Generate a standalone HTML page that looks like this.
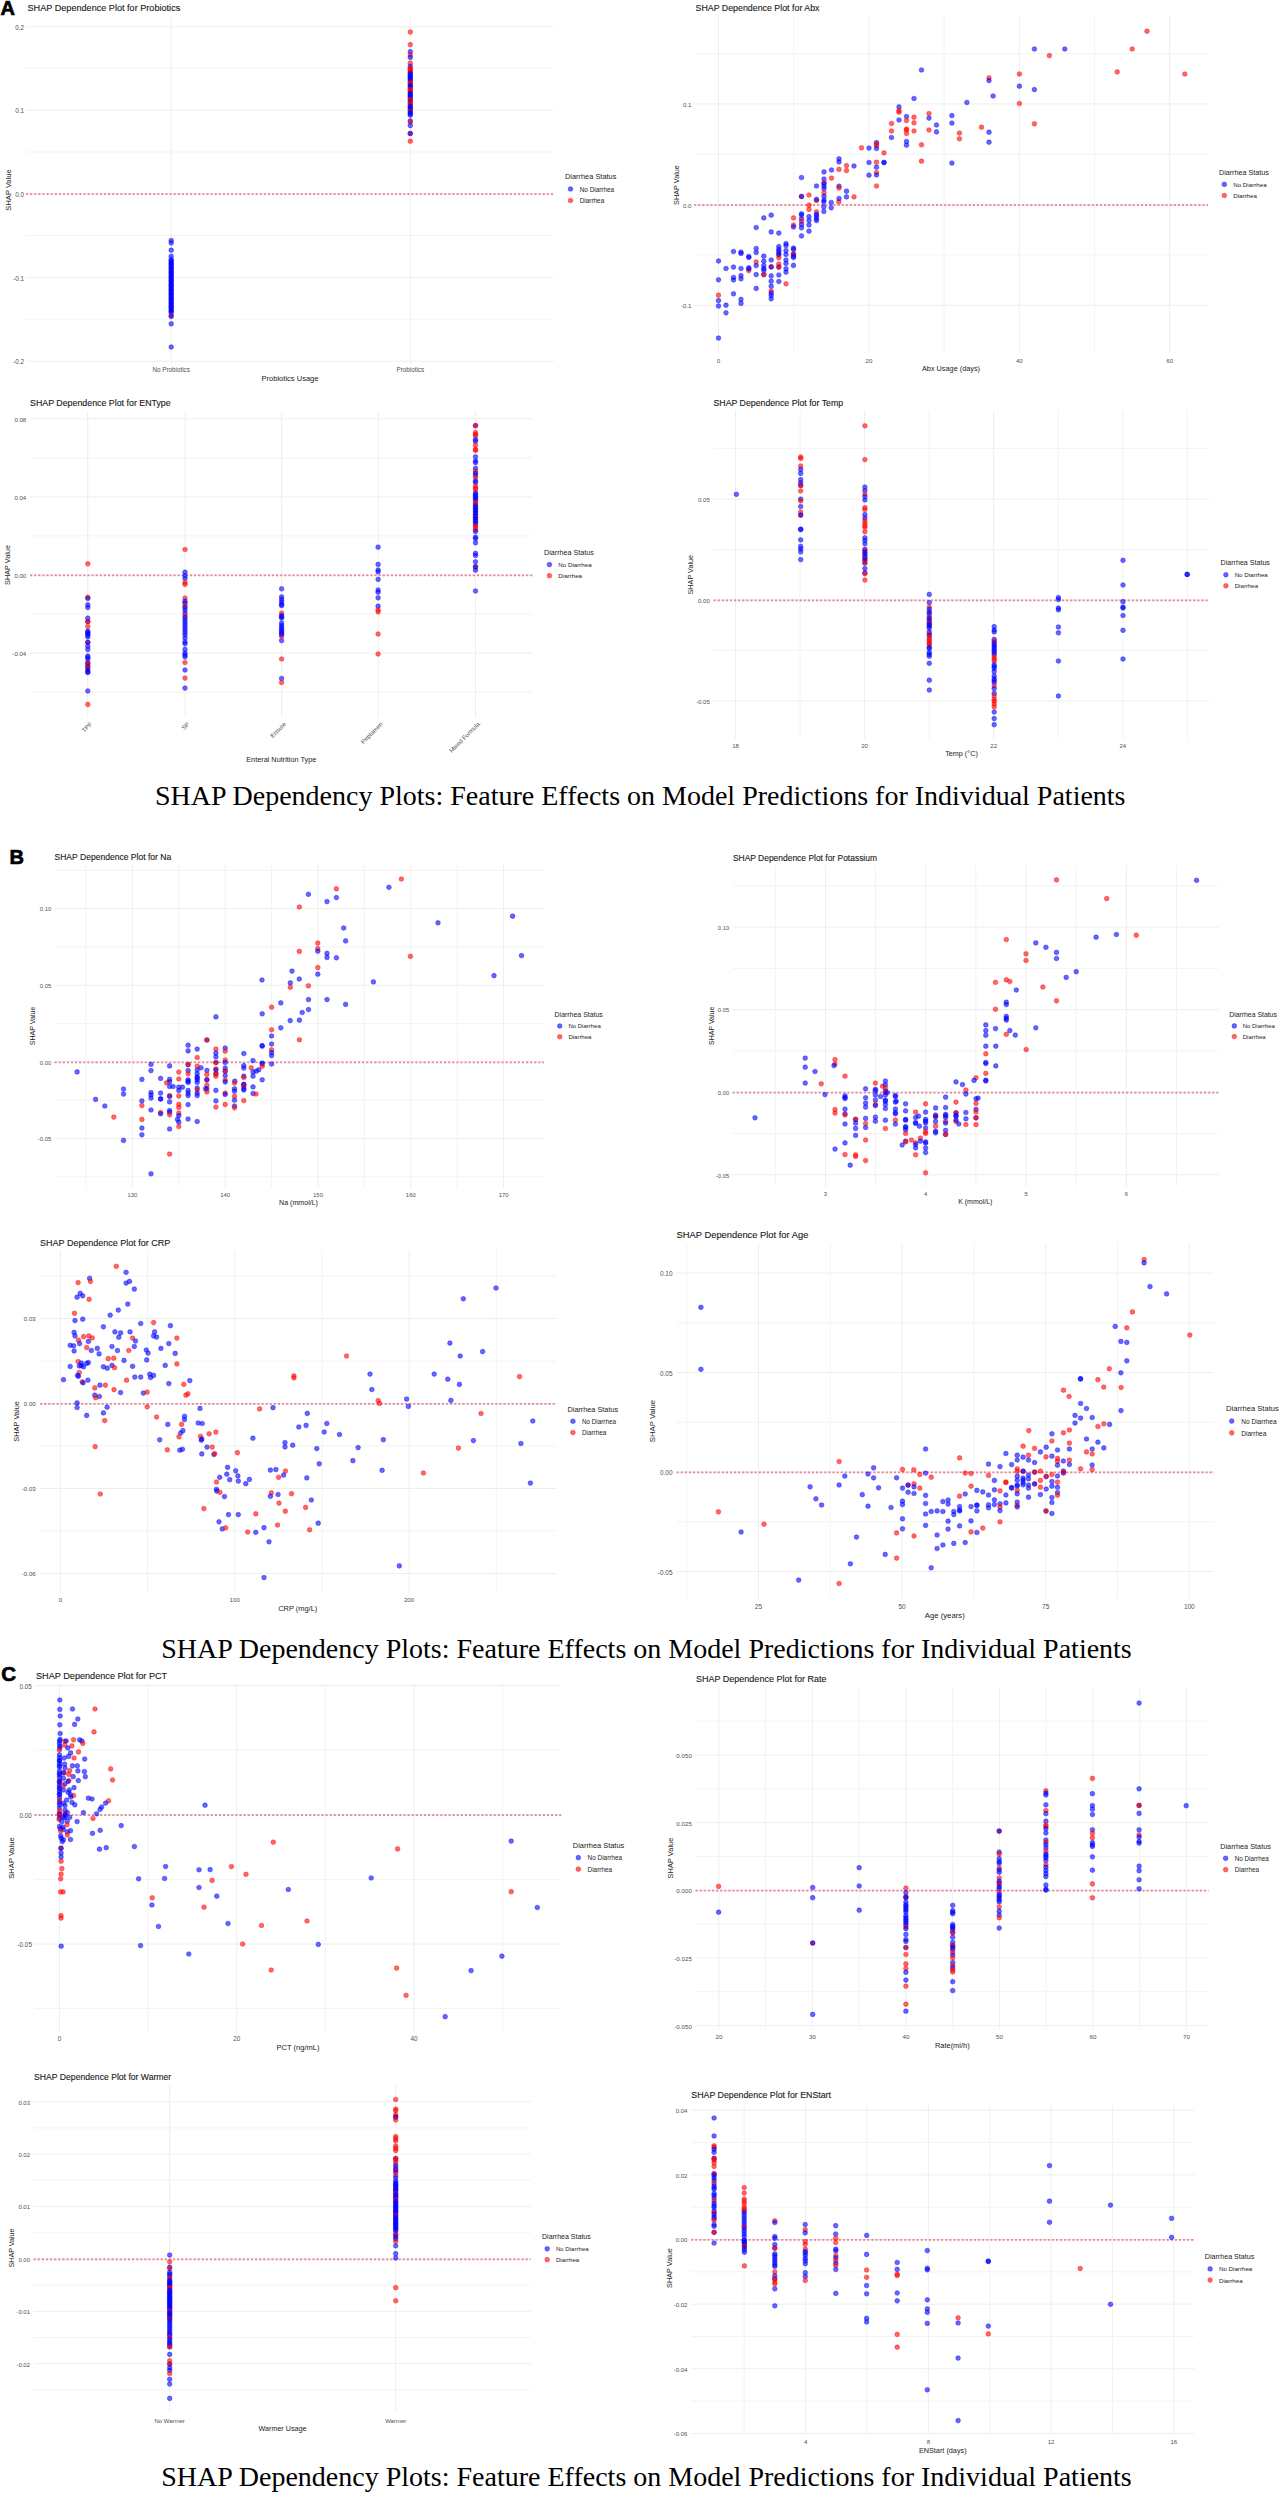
<!DOCTYPE html>
<html><head><meta charset="utf-8"><style>
html,body{margin:0;padding:0;background:#fff;}
body{width:1280px;height:2500px;overflow:hidden;position:relative;}
svg{position:absolute;left:0;top:0;}
.b{fill:#0000ff;stroke:#0000ff;fill-opacity:0.6;stroke-opacity:0.6;stroke-width:0.65}
.r{fill:#ff0000;stroke:#ff0000;fill-opacity:0.6;stroke-opacity:0.6;stroke-width:0.65}
</style></head><body>
<svg width="1280" height="2500" viewBox="0 0 1280 2500">
<text x="0.40" y="14.60" font-size="20" text-anchor="start" fill="#000" font-family="'Liberation Sans', sans-serif" font-weight="bold" stroke="#000" stroke-width="0.7">A</text>
<text x="155.00" y="805.00" font-size="28" text-anchor="start" fill="#000" font-family="'Liberation Serif', serif" font-weight="normal">SHAP Dependency Plots: Feature Effects on Model Predictions for Individual Patients</text>
<line x1="26.00" y1="68.25" x2="553.75" y2="68.25" stroke="#f3f3f3" stroke-width="1" />
<line x1="26.00" y1="152.00" x2="553.75" y2="152.00" stroke="#f3f3f3" stroke-width="1" />
<line x1="26.00" y1="235.50" x2="553.75" y2="235.50" stroke="#f3f3f3" stroke-width="1" />
<line x1="26.00" y1="319.25" x2="553.75" y2="319.25" stroke="#f3f3f3" stroke-width="1" />
<line x1="26.00" y1="26.75" x2="553.75" y2="26.75" stroke="#eeeeee" stroke-width="1" />
<line x1="26.00" y1="110.25" x2="553.75" y2="110.25" stroke="#eeeeee" stroke-width="1" />
<line x1="26.00" y1="193.75" x2="553.75" y2="193.75" stroke="#eeeeee" stroke-width="1" />
<line x1="26.00" y1="277.50" x2="553.75" y2="277.50" stroke="#eeeeee" stroke-width="1" />
<line x1="26.00" y1="361.25" x2="553.75" y2="361.25" stroke="#eeeeee" stroke-width="1" />
<line x1="171.20" y1="16.00" x2="171.20" y2="364.00" stroke="#eeeeee" stroke-width="1" />
<line x1="410.30" y1="16.00" x2="410.30" y2="364.00" stroke="#eeeeee" stroke-width="1" />
<line x1="26.00" y1="194.15" x2="553.75" y2="194.15" stroke="#ea8499" stroke-width="1.75" stroke-dasharray="2.2 1.9"/>
<text x="27.50" y="11.00" font-size="9.12" text-anchor="start" fill="#1a1a1a" font-family="'Liberation Sans', sans-serif" font-weight="normal" stroke="#1a1a1a" stroke-width="0.12">SHAP Dependence Plot for Probiotics</text>
<text x="24.00" y="29.75" font-size="6.3" text-anchor="end" fill="#505050" font-family="'Liberation Sans', sans-serif" font-weight="normal">0.2</text>
<text x="24.00" y="113.25" font-size="6.3" text-anchor="end" fill="#505050" font-family="'Liberation Sans', sans-serif" font-weight="normal">0.1</text>
<text x="24.00" y="196.75" font-size="6.3" text-anchor="end" fill="#505050" font-family="'Liberation Sans', sans-serif" font-weight="normal">0.0</text>
<text x="24.00" y="280.50" font-size="6.3" text-anchor="end" fill="#505050" font-family="'Liberation Sans', sans-serif" font-weight="normal">-0.1</text>
<text x="24.00" y="364.25" font-size="6.3" text-anchor="end" fill="#505050" font-family="'Liberation Sans', sans-serif" font-weight="normal">-0.2</text>
<text x="171.20" y="371.50" font-size="6.3" text-anchor="middle" fill="#505050" font-family="'Liberation Sans', sans-serif" font-weight="normal">No Probiotics</text>
<text x="410.30" y="371.50" font-size="6.3" text-anchor="middle" fill="#505050" font-family="'Liberation Sans', sans-serif" font-weight="normal">Probiotics</text>
<text x="290.00" y="380.50" font-size="7.55" text-anchor="middle" fill="#222" font-family="'Liberation Sans', sans-serif" font-weight="normal">Probiotics Usage</text>
<text x="10.50" y="190.00" font-size="7.55" text-anchor="middle" fill="#222" font-family="'Liberation Sans', sans-serif" font-weight="normal" transform="rotate(-90 10.5 190)">SHAP Value</text>
<text x="565.00" y="179.10" font-size="7.4" text-anchor="start" fill="#222" font-family="'Liberation Sans', sans-serif" font-weight="normal">Diarrhea Status</text>
<circle class="b" cx="570.50" cy="189.00" r="2.35"/>
<circle class="r" cx="570.50" cy="200.50" r="2.35"/>
<text x="579.70" y="191.60" font-size="6.4" text-anchor="start" fill="#222" font-family="'Liberation Sans', sans-serif" font-weight="normal">No Diarrhea</text>
<text x="579.70" y="203.20" font-size="6.4" text-anchor="start" fill="#222" font-family="'Liberation Sans', sans-serif" font-weight="normal">Diarrhea</text>
<circle class="b" cx="171.2" cy="240.5" r="2.35"/>
<circle class="b" cx="171.2" cy="243.0" r="2.35"/>
<circle class="b" cx="171.2" cy="250.2" r="2.35"/>
<circle class="b" cx="171.2" cy="256.3" r="2.35"/>
<circle class="b" cx="171.2" cy="259.5" r="2.35"/>
<circle class="b" cx="171.2" cy="260.8" r="2.35"/>
<circle class="b" cx="171.2" cy="262.1" r="2.35"/>
<circle class="b" cx="171.2" cy="263.4" r="2.35"/>
<circle class="b" cx="171.2" cy="264.7" r="2.35"/>
<circle class="b" cx="171.2" cy="266.0" r="2.35"/>
<circle class="b" cx="171.2" cy="267.3" r="2.35"/>
<circle class="b" cx="171.2" cy="268.6" r="2.35"/>
<circle class="b" cx="171.2" cy="269.9" r="2.35"/>
<circle class="b" cx="171.2" cy="271.2" r="2.35"/>
<circle class="b" cx="171.2" cy="272.5" r="2.35"/>
<circle class="b" cx="171.2" cy="273.8" r="2.35"/>
<circle class="b" cx="171.2" cy="275.1" r="2.35"/>
<circle class="b" cx="171.2" cy="276.4" r="2.35"/>
<circle class="b" cx="171.2" cy="277.7" r="2.35"/>
<circle class="b" cx="171.2" cy="279.0" r="2.35"/>
<circle class="b" cx="171.2" cy="280.3" r="2.35"/>
<circle class="b" cx="171.2" cy="281.6" r="2.35"/>
<circle class="b" cx="171.2" cy="282.9" r="2.35"/>
<circle class="b" cx="171.2" cy="284.2" r="2.35"/>
<circle class="b" cx="171.2" cy="285.5" r="2.35"/>
<circle class="b" cx="171.2" cy="286.8" r="2.35"/>
<circle class="b" cx="171.2" cy="288.1" r="2.35"/>
<circle class="b" cx="171.2" cy="289.4" r="2.35"/>
<circle class="b" cx="171.2" cy="290.7" r="2.35"/>
<circle class="b" cx="171.2" cy="292.0" r="2.35"/>
<circle class="b" cx="171.2" cy="293.3" r="2.35"/>
<circle class="b" cx="171.2" cy="294.6" r="2.35"/>
<circle class="b" cx="171.2" cy="295.9" r="2.35"/>
<circle class="b" cx="171.2" cy="297.2" r="2.35"/>
<circle class="b" cx="171.2" cy="298.5" r="2.35"/>
<circle class="b" cx="171.2" cy="299.8" r="2.35"/>
<circle class="b" cx="171.2" cy="301.1" r="2.35"/>
<circle class="b" cx="171.2" cy="302.4" r="2.35"/>
<circle class="b" cx="171.2" cy="303.7" r="2.35"/>
<circle class="b" cx="171.2" cy="305.0" r="2.35"/>
<circle class="b" cx="171.2" cy="306.3" r="2.35"/>
<circle class="b" cx="171.2" cy="307.6" r="2.35"/>
<circle class="b" cx="171.2" cy="308.9" r="2.35"/>
<circle class="b" cx="171.2" cy="310.2" r="2.35"/>
<circle class="b" cx="171.2" cy="311.5" r="2.35"/>
<circle class="b" cx="171.2" cy="312.8" r="2.35"/>
<circle class="r" cx="171.2" cy="315.5" r="2.35"/>
<circle class="b" cx="171.2" cy="316.5" r="2.35"/>
<circle class="b" cx="171.2" cy="323.8" r="2.35"/>
<circle class="b" cx="171.2" cy="347.0" r="2.35"/>
<circle class="r" cx="410.3" cy="32.0" r="2.35"/>
<circle class="r" cx="410.3" cy="44.7" r="2.35"/>
<circle class="b" cx="410.3" cy="51.7" r="2.35"/>
<circle class="r" cx="410.3" cy="54.8" r="2.35"/>
<circle class="b" cx="410.3" cy="57.4" r="2.35"/>
<circle class="r" cx="410.3" cy="63.2" r="2.35"/>
<circle class="b" cx="410.3" cy="66.5" r="2.35"/>
<circle class="r" cx="410.3" cy="68.4" r="2.35"/>
<circle class="r" cx="410.3" cy="69.7" r="2.35"/>
<circle class="r" cx="410.3" cy="71.0" r="2.35"/>
<circle class="r" cx="410.3" cy="72.3" r="2.35"/>
<circle class="b" cx="410.3" cy="73.6" r="2.35"/>
<circle class="b" cx="410.3" cy="74.9" r="2.35"/>
<circle class="b" cx="410.3" cy="76.2" r="2.35"/>
<circle class="b" cx="410.3" cy="77.5" r="2.35"/>
<circle class="b" cx="410.3" cy="78.8" r="2.35"/>
<circle class="b" cx="410.3" cy="80.1" r="2.35"/>
<circle class="b" cx="410.3" cy="81.4" r="2.35"/>
<circle class="r" cx="410.3" cy="82.7" r="2.35"/>
<circle class="r" cx="410.3" cy="84.0" r="2.35"/>
<circle class="b" cx="410.3" cy="85.3" r="2.35"/>
<circle class="b" cx="410.3" cy="86.6" r="2.35"/>
<circle class="b" cx="410.3" cy="87.9" r="2.35"/>
<circle class="r" cx="410.3" cy="89.2" r="2.35"/>
<circle class="r" cx="410.3" cy="90.5" r="2.35"/>
<circle class="r" cx="410.3" cy="91.8" r="2.35"/>
<circle class="b" cx="410.3" cy="93.1" r="2.35"/>
<circle class="b" cx="410.3" cy="94.4" r="2.35"/>
<circle class="b" cx="410.3" cy="95.7" r="2.35"/>
<circle class="b" cx="410.3" cy="97.0" r="2.35"/>
<circle class="b" cx="410.3" cy="98.3" r="2.35"/>
<circle class="r" cx="410.3" cy="99.6" r="2.35"/>
<circle class="r" cx="410.3" cy="100.9" r="2.35"/>
<circle class="b" cx="410.3" cy="102.2" r="2.35"/>
<circle class="r" cx="410.3" cy="103.5" r="2.35"/>
<circle class="r" cx="410.3" cy="104.8" r="2.35"/>
<circle class="b" cx="410.3" cy="106.1" r="2.35"/>
<circle class="b" cx="410.3" cy="107.4" r="2.35"/>
<circle class="b" cx="410.3" cy="108.7" r="2.35"/>
<circle class="b" cx="410.3" cy="110.0" r="2.35"/>
<circle class="r" cx="410.3" cy="111.3" r="2.35"/>
<circle class="b" cx="410.3" cy="112.6" r="2.35"/>
<circle class="b" cx="410.3" cy="113.9" r="2.35"/>
<circle class="b" cx="410.3" cy="115.2" r="2.35"/>
<circle class="b" cx="410.3" cy="120.9" r="2.35"/>
<circle class="r" cx="410.3" cy="122.0" r="2.35"/>
<circle class="b" cx="410.3" cy="125.6" r="2.35"/>
<circle class="r" cx="410.3" cy="133.4" r="2.35"/>
<circle class="b" cx="410.3" cy="133.6" r="2.35"/>
<circle class="r" cx="410.3" cy="141.2" r="2.35"/>
<line x1="694.00" y1="53.62" x2="1208.00" y2="53.62" stroke="#f3f3f3" stroke-width="1" />
<line x1="694.00" y1="154.27" x2="1208.00" y2="154.27" stroke="#f3f3f3" stroke-width="1" />
<line x1="694.00" y1="254.93" x2="1208.00" y2="254.93" stroke="#f3f3f3" stroke-width="1" />
<line x1="793.70" y1="16.00" x2="793.70" y2="353.00" stroke="#f3f3f3" stroke-width="1" />
<line x1="944.10" y1="16.00" x2="944.10" y2="353.00" stroke="#f3f3f3" stroke-width="1" />
<line x1="1094.50" y1="16.00" x2="1094.50" y2="353.00" stroke="#f3f3f3" stroke-width="1" />
<line x1="694.00" y1="103.95" x2="1208.00" y2="103.95" stroke="#eeeeee" stroke-width="1" />
<line x1="694.00" y1="204.60" x2="1208.00" y2="204.60" stroke="#eeeeee" stroke-width="1" />
<line x1="694.00" y1="305.25" x2="1208.00" y2="305.25" stroke="#eeeeee" stroke-width="1" />
<line x1="718.50" y1="16.00" x2="718.50" y2="353.00" stroke="#eeeeee" stroke-width="1" />
<line x1="868.90" y1="16.00" x2="868.90" y2="353.00" stroke="#eeeeee" stroke-width="1" />
<line x1="1019.30" y1="16.00" x2="1019.30" y2="353.00" stroke="#eeeeee" stroke-width="1" />
<line x1="1169.70" y1="16.00" x2="1169.70" y2="353.00" stroke="#eeeeee" stroke-width="1" />
<line x1="694.00" y1="205.00" x2="1208.00" y2="205.00" stroke="#ea8499" stroke-width="1.75" stroke-dasharray="2.2 1.9"/>
<text x="695.50" y="11.00" font-size="8.83" text-anchor="start" fill="#1a1a1a" font-family="'Liberation Sans', sans-serif" font-weight="normal" stroke="#1a1a1a" stroke-width="0.12">SHAP Dependence Plot for Abx</text>
<text x="691.50" y="106.85" font-size="6.1" text-anchor="end" fill="#505050" font-family="'Liberation Sans', sans-serif" font-weight="normal">0.1</text>
<text x="691.50" y="207.50" font-size="6.1" text-anchor="end" fill="#505050" font-family="'Liberation Sans', sans-serif" font-weight="normal">0.0</text>
<text x="691.50" y="308.15" font-size="6.1" text-anchor="end" fill="#505050" font-family="'Liberation Sans', sans-serif" font-weight="normal">-0.1</text>
<text x="718.50" y="362.50" font-size="6.1" text-anchor="middle" fill="#505050" font-family="'Liberation Sans', sans-serif" font-weight="normal">0</text>
<text x="868.90" y="362.50" font-size="6.1" text-anchor="middle" fill="#505050" font-family="'Liberation Sans', sans-serif" font-weight="normal">20</text>
<text x="1019.30" y="362.50" font-size="6.1" text-anchor="middle" fill="#505050" font-family="'Liberation Sans', sans-serif" font-weight="normal">40</text>
<text x="1169.70" y="362.50" font-size="6.1" text-anchor="middle" fill="#505050" font-family="'Liberation Sans', sans-serif" font-weight="normal">60</text>
<text x="951.00" y="371.00" font-size="7.31" text-anchor="middle" fill="#222" font-family="'Liberation Sans', sans-serif" font-weight="normal">Abx Usage (days)</text>
<text x="678.50" y="185.00" font-size="7.31" text-anchor="middle" fill="#222" font-family="'Liberation Sans', sans-serif" font-weight="normal" transform="rotate(-90 678.5 185)">SHAP Value</text>
<text x="1219.00" y="174.80" font-size="7.16" text-anchor="start" fill="#222" font-family="'Liberation Sans', sans-serif" font-weight="normal">Diarrhea Status</text>
<circle class="b" cx="1224.33" cy="184.39" r="2.35"/>
<circle class="r" cx="1224.33" cy="195.52" r="2.35"/>
<text x="1233.23" y="186.90" font-size="6.2" text-anchor="start" fill="#222" font-family="'Liberation Sans', sans-serif" font-weight="normal">No Diarrhea</text>
<text x="1233.23" y="198.13" font-size="6.2" text-anchor="start" fill="#222" font-family="'Liberation Sans', sans-serif" font-weight="normal">Diarrhea</text>
<circle class="b" cx="718.5" cy="261.0" r="2.35"/>
<circle class="b" cx="718.5" cy="279.8" r="2.35"/>
<circle class="r" cx="718.5" cy="295.2" r="2.35"/>
<circle class="b" cx="718.5" cy="300.6" r="2.35"/>
<circle class="b" cx="718.5" cy="306.0" r="2.35"/>
<circle class="b" cx="718.5" cy="338.1" r="2.35"/>
<circle class="b" cx="726.0" cy="268.5" r="2.35"/>
<circle class="b" cx="726.0" cy="305.2" r="2.35"/>
<circle class="b" cx="726.0" cy="312.8" r="2.35"/>
<circle class="b" cx="733.5" cy="251.5" r="2.35"/>
<circle class="b" cx="733.5" cy="267.1" r="2.35"/>
<circle class="b" cx="733.5" cy="277.5" r="2.35"/>
<circle class="b" cx="733.5" cy="280.0" r="2.35"/>
<circle class="b" cx="733.5" cy="293.8" r="2.35"/>
<circle class="b" cx="741.0" cy="252.2" r="2.35"/>
<circle class="b" cx="741.0" cy="253.5" r="2.35"/>
<circle class="b" cx="741.0" cy="268.5" r="2.35"/>
<circle class="b" cx="741.0" cy="275.6" r="2.35"/>
<circle class="b" cx="741.0" cy="278.8" r="2.35"/>
<circle class="b" cx="741.0" cy="299.4" r="2.35"/>
<circle class="b" cx="741.0" cy="303.4" r="2.35"/>
<circle class="b" cx="748.8" cy="256.5" r="2.35"/>
<circle class="b" cx="748.8" cy="257.5" r="2.35"/>
<circle class="b" cx="748.8" cy="267.9" r="2.35"/>
<circle class="r" cx="748.8" cy="270.6" r="2.35"/>
<circle class="b" cx="748.8" cy="268.8" r="2.35"/>
<circle class="b" cx="756.2" cy="227.5" r="2.35"/>
<circle class="b" cx="756.2" cy="248.5" r="2.35"/>
<circle class="b" cx="756.2" cy="252.5" r="2.35"/>
<circle class="r" cx="756.2" cy="261.9" r="2.35"/>
<circle class="b" cx="756.2" cy="265.6" r="2.35"/>
<circle class="b" cx="756.2" cy="274.6" r="2.35"/>
<circle class="b" cx="756.2" cy="288.4" r="2.35"/>
<circle class="b" cx="763.8" cy="217.9" r="2.35"/>
<circle class="b" cx="763.8" cy="256.2" r="2.35"/>
<circle class="b" cx="763.8" cy="261.2" r="2.35"/>
<circle class="b" cx="763.8" cy="265.6" r="2.35"/>
<circle class="b" cx="763.8" cy="268.5" r="2.35"/>
<circle class="b" cx="763.8" cy="270.2" r="2.35"/>
<circle class="b" cx="763.8" cy="274.6" r="2.35"/>
<circle class="r" cx="763.8" cy="274.6" r="2.35"/>
<circle class="b" cx="771.2" cy="215.2" r="2.35"/>
<circle class="b" cx="771.2" cy="231.9" r="2.35"/>
<circle class="b" cx="771.2" cy="260.0" r="2.35"/>
<circle class="r" cx="771.2" cy="266.9" r="2.35"/>
<circle class="b" cx="771.2" cy="266.9" r="2.35"/>
<circle class="b" cx="771.2" cy="275.9" r="2.35"/>
<circle class="b" cx="771.2" cy="281.2" r="2.35"/>
<circle class="b" cx="771.2" cy="286.2" r="2.35"/>
<circle class="r" cx="771.2" cy="290.9" r="2.35"/>
<circle class="b" cx="771.2" cy="293.1" r="2.35"/>
<circle class="b" cx="771.2" cy="295.6" r="2.35"/>
<circle class="b" cx="771.2" cy="298.8" r="2.35"/>
<circle class="b" cx="778.8" cy="233.1" r="2.35"/>
<circle class="b" cx="778.8" cy="246.5" r="2.35"/>
<circle class="b" cx="778.8" cy="249.4" r="2.35"/>
<circle class="b" cx="778.8" cy="251.2" r="2.35"/>
<circle class="b" cx="778.8" cy="253.8" r="2.35"/>
<circle class="b" cx="778.8" cy="255.0" r="2.35"/>
<circle class="r" cx="778.8" cy="257.8" r="2.35"/>
<circle class="r" cx="778.8" cy="264.1" r="2.35"/>
<circle class="b" cx="778.8" cy="267.1" r="2.35"/>
<circle class="r" cx="778.8" cy="267.1" r="2.35"/>
<circle class="b" cx="778.8" cy="275.0" r="2.35"/>
<circle class="b" cx="778.8" cy="281.5" r="2.35"/>
<circle class="b" cx="786.0" cy="243.5" r="2.35"/>
<circle class="b" cx="786.0" cy="245.6" r="2.35"/>
<circle class="b" cx="786.0" cy="250.6" r="2.35"/>
<circle class="b" cx="786.0" cy="254.4" r="2.35"/>
<circle class="b" cx="786.0" cy="260.0" r="2.35"/>
<circle class="b" cx="786.0" cy="263.5" r="2.35"/>
<circle class="b" cx="786.0" cy="268.8" r="2.35"/>
<circle class="b" cx="786.0" cy="272.1" r="2.35"/>
<circle class="r" cx="786.0" cy="283.8" r="2.35"/>
<circle class="r" cx="793.5" cy="217.9" r="2.35"/>
<circle class="r" cx="793.5" cy="225.0" r="2.35"/>
<circle class="b" cx="793.5" cy="226.9" r="2.35"/>
<circle class="b" cx="793.5" cy="248.1" r="2.35"/>
<circle class="b" cx="793.5" cy="249.4" r="2.35"/>
<circle class="b" cx="793.5" cy="254.0" r="2.35"/>
<circle class="r" cx="793.5" cy="254.0" r="2.35"/>
<circle class="b" cx="793.5" cy="256.2" r="2.35"/>
<circle class="b" cx="793.5" cy="257.5" r="2.35"/>
<circle class="b" cx="793.5" cy="265.4" r="2.35"/>
<circle class="b" cx="801.5" cy="213.8" r="2.35"/>
<circle class="b" cx="801.5" cy="215.0" r="2.35"/>
<circle class="b" cx="801.5" cy="218.8" r="2.35"/>
<circle class="r" cx="801.5" cy="221.2" r="2.35"/>
<circle class="b" cx="801.5" cy="224.4" r="2.35"/>
<circle class="b" cx="801.5" cy="227.8" r="2.35"/>
<circle class="b" cx="801.5" cy="235.9" r="2.35"/>
<circle class="r" cx="809.0" cy="205.2" r="2.35"/>
<circle class="r" cx="809.0" cy="209.4" r="2.35"/>
<circle class="b" cx="809.0" cy="216.6" r="2.35"/>
<circle class="b" cx="809.0" cy="220.6" r="2.35"/>
<circle class="b" cx="809.0" cy="225.0" r="2.35"/>
<circle class="b" cx="809.0" cy="231.2" r="2.35"/>
<circle class="r" cx="816.5" cy="200.6" r="2.35"/>
<circle class="r" cx="816.5" cy="211.9" r="2.35"/>
<circle class="b" cx="816.5" cy="214.4" r="2.35"/>
<circle class="b" cx="816.5" cy="216.2" r="2.35"/>
<circle class="b" cx="816.5" cy="218.8" r="2.35"/>
<circle class="b" cx="816.5" cy="220.6" r="2.35"/>
<circle class="b" cx="823.8" cy="201.9" r="2.35"/>
<circle class="b" cx="823.8" cy="206.9" r="2.35"/>
<circle class="b" cx="823.8" cy="211.5" r="2.35"/>
<circle class="b" cx="831.2" cy="202.5" r="2.35"/>
<circle class="b" cx="831.2" cy="207.8" r="2.35"/>
<circle class="r" cx="838.8" cy="201.9" r="2.35"/>
<circle class="b" cx="801.5" cy="177.5" r="2.35"/>
<circle class="r" cx="801.5" cy="196.5" r="2.35"/>
<circle class="b" cx="801.5" cy="196.5" r="2.35"/>
<circle class="r" cx="809.0" cy="195.0" r="2.35"/>
<circle class="b" cx="816.5" cy="186.0" r="2.35"/>
<circle class="b" cx="816.5" cy="199.4" r="2.35"/>
<circle class="b" cx="824.0" cy="171.9" r="2.35"/>
<circle class="b" cx="824.0" cy="179.0" r="2.35"/>
<circle class="r" cx="824.0" cy="182.5" r="2.35"/>
<circle class="b" cx="824.0" cy="183.8" r="2.35"/>
<circle class="b" cx="824.0" cy="186.2" r="2.35"/>
<circle class="b" cx="824.0" cy="188.8" r="2.35"/>
<circle class="r" cx="824.0" cy="192.8" r="2.35"/>
<circle class="b" cx="824.0" cy="196.2" r="2.35"/>
<circle class="b" cx="824.0" cy="200.0" r="2.35"/>
<circle class="b" cx="831.5" cy="170.0" r="2.35"/>
<circle class="r" cx="831.5" cy="178.1" r="2.35"/>
<circle class="b" cx="839.0" cy="158.8" r="2.35"/>
<circle class="b" cx="839.0" cy="161.9" r="2.35"/>
<circle class="r" cx="839.0" cy="169.4" r="2.35"/>
<circle class="b" cx="839.0" cy="186.2" r="2.35"/>
<circle class="r" cx="839.0" cy="188.1" r="2.35"/>
<circle class="b" cx="839.0" cy="198.5" r="2.35"/>
<circle class="r" cx="846.5" cy="165.6" r="2.35"/>
<circle class="r" cx="846.5" cy="170.6" r="2.35"/>
<circle class="b" cx="846.5" cy="191.2" r="2.35"/>
<circle class="b" cx="846.5" cy="196.9" r="2.35"/>
<circle class="b" cx="854.0" cy="166.0" r="2.35"/>
<circle class="r" cx="854.0" cy="196.9" r="2.35"/>
<circle class="r" cx="861.5" cy="147.8" r="2.35"/>
<circle class="b" cx="869.0" cy="148.1" r="2.35"/>
<circle class="b" cx="869.0" cy="162.5" r="2.35"/>
<circle class="b" cx="869.0" cy="175.2" r="2.35"/>
<circle class="b" cx="876.5" cy="142.5" r="2.35"/>
<circle class="r" cx="876.5" cy="144.0" r="2.35"/>
<circle class="r" cx="876.5" cy="145.6" r="2.35"/>
<circle class="b" cx="876.5" cy="148.5" r="2.35"/>
<circle class="r" cx="876.5" cy="162.2" r="2.35"/>
<circle class="b" cx="876.5" cy="167.2" r="2.35"/>
<circle class="r" cx="876.5" cy="172.5" r="2.35"/>
<circle class="b" cx="876.5" cy="175.0" r="2.35"/>
<circle class="r" cx="876.5" cy="186.0" r="2.35"/>
<circle class="r" cx="884.0" cy="152.9" r="2.35"/>
<circle class="b" cx="884.0" cy="162.5" r="2.35"/>
<circle class="b" cx="884.0" cy="162.5" r="2.35"/>
<circle class="r" cx="891.5" cy="123.5" r="2.35"/>
<circle class="r" cx="891.5" cy="131.0" r="2.35"/>
<circle class="b" cx="891.5" cy="137.5" r="2.35"/>
<circle class="b" cx="899.0" cy="106.9" r="2.35"/>
<circle class="r" cx="899.0" cy="110.6" r="2.35"/>
<circle class="r" cx="899.0" cy="112.2" r="2.35"/>
<circle class="b" cx="899.0" cy="120.0" r="2.35"/>
<circle class="b" cx="906.5" cy="116.5" r="2.35"/>
<circle class="r" cx="906.5" cy="120.6" r="2.35"/>
<circle class="r" cx="906.5" cy="129.0" r="2.35"/>
<circle class="r" cx="906.5" cy="130.0" r="2.35"/>
<circle class="r" cx="906.5" cy="133.5" r="2.35"/>
<circle class="b" cx="906.5" cy="141.5" r="2.35"/>
<circle class="b" cx="906.5" cy="145.2" r="2.35"/>
<circle class="b" cx="914.0" cy="98.5" r="2.35"/>
<circle class="r" cx="914.0" cy="117.2" r="2.35"/>
<circle class="r" cx="914.0" cy="122.8" r="2.35"/>
<circle class="r" cx="914.0" cy="131.0" r="2.35"/>
<circle class="b" cx="921.5" cy="70.0" r="2.35"/>
<circle class="b" cx="966.9" cy="102.5" r="2.35"/>
<circle class="r" cx="989.0" cy="77.8" r="2.35"/>
<circle class="b" cx="989.0" cy="80.6" r="2.35"/>
<circle class="b" cx="993.1" cy="96.0" r="2.35"/>
<circle class="r" cx="1019.4" cy="74.0" r="2.35"/>
<circle class="b" cx="1019.4" cy="86.2" r="2.35"/>
<circle class="r" cx="1019.4" cy="103.5" r="2.35"/>
<circle class="b" cx="1034.4" cy="49.0" r="2.35"/>
<circle class="b" cx="1034.4" cy="89.6" r="2.35"/>
<circle class="r" cx="1034.4" cy="123.8" r="2.35"/>
<circle class="r" cx="1049.4" cy="55.6" r="2.35"/>
<circle class="b" cx="951.9" cy="115.6" r="2.35"/>
<circle class="b" cx="951.9" cy="123.1" r="2.35"/>
<circle class="r" cx="959.4" cy="133.1" r="2.35"/>
<circle class="r" cx="959.4" cy="138.8" r="2.35"/>
<circle class="r" cx="981.5" cy="127.2" r="2.35"/>
<circle class="b" cx="989.0" cy="132.2" r="2.35"/>
<circle class="b" cx="936.5" cy="125.0" r="2.35"/>
<circle class="b" cx="936.5" cy="131.9" r="2.35"/>
<circle class="r" cx="929.0" cy="113.5" r="2.35"/>
<circle class="b" cx="929.0" cy="118.1" r="2.35"/>
<circle class="r" cx="929.0" cy="130.0" r="2.35"/>
<circle class="r" cx="921.5" cy="144.8" r="2.35"/>
<circle class="r" cx="921.5" cy="161.2" r="2.35"/>
<circle class="b" cx="951.9" cy="163.1" r="2.35"/>
<circle class="b" cx="989.0" cy="142.2" r="2.35"/>
<circle class="b" cx="1064.8" cy="49.0" r="2.35"/>
<circle class="r" cx="1117.2" cy="71.9" r="2.35"/>
<circle class="r" cx="1132.2" cy="49.0" r="2.35"/>
<circle class="r" cx="1147.0" cy="31.2" r="2.35"/>
<circle class="r" cx="1184.8" cy="74.0" r="2.35"/>
<line x1="30.00" y1="457.82" x2="532.50" y2="457.82" stroke="#f3f3f3" stroke-width="1" />
<line x1="30.00" y1="535.94" x2="532.50" y2="535.94" stroke="#f3f3f3" stroke-width="1" />
<line x1="30.00" y1="614.06" x2="532.50" y2="614.06" stroke="#f3f3f3" stroke-width="1" />
<line x1="30.00" y1="692.18" x2="532.50" y2="692.18" stroke="#f3f3f3" stroke-width="1" />
<line x1="30.00" y1="418.76" x2="532.50" y2="418.76" stroke="#eeeeee" stroke-width="1" />
<line x1="30.00" y1="496.88" x2="532.50" y2="496.88" stroke="#eeeeee" stroke-width="1" />
<line x1="30.00" y1="575.00" x2="532.50" y2="575.00" stroke="#eeeeee" stroke-width="1" />
<line x1="30.00" y1="653.12" x2="532.50" y2="653.12" stroke="#eeeeee" stroke-width="1" />
<line x1="87.75" y1="411.00" x2="87.75" y2="717.50" stroke="#eeeeee" stroke-width="1" />
<line x1="185.00" y1="411.00" x2="185.00" y2="717.50" stroke="#eeeeee" stroke-width="1" />
<line x1="281.70" y1="411.00" x2="281.70" y2="717.50" stroke="#eeeeee" stroke-width="1" />
<line x1="378.30" y1="411.00" x2="378.30" y2="717.50" stroke="#eeeeee" stroke-width="1" />
<line x1="475.50" y1="411.00" x2="475.50" y2="717.50" stroke="#eeeeee" stroke-width="1" />
<line x1="30.00" y1="575.40" x2="532.50" y2="575.40" stroke="#ea8499" stroke-width="1.75" stroke-dasharray="2.2 1.9"/>
<text x="30.00" y="406.00" font-size="8.83" text-anchor="start" fill="#1a1a1a" font-family="'Liberation Sans', sans-serif" font-weight="normal" stroke="#1a1a1a" stroke-width="0.12">SHAP Dependence Plot for ENType</text>
<text x="26.25" y="421.66" font-size="6.1" text-anchor="end" fill="#505050" font-family="'Liberation Sans', sans-serif" font-weight="normal">0.08</text>
<text x="26.25" y="499.78" font-size="6.1" text-anchor="end" fill="#505050" font-family="'Liberation Sans', sans-serif" font-weight="normal">0.04</text>
<text x="26.25" y="577.90" font-size="6.1" text-anchor="end" fill="#505050" font-family="'Liberation Sans', sans-serif" font-weight="normal">0.00</text>
<text x="26.25" y="656.02" font-size="6.1" text-anchor="end" fill="#505050" font-family="'Liberation Sans', sans-serif" font-weight="normal">-0.04</text>
<text x="92.55" y="724.50" font-size="6.1" text-anchor="end" fill="#505050" font-family="'Liberation Sans', sans-serif" font-weight="normal" transform="rotate(-45 92.55 724.5)">TPF</text>
<text x="189.80" y="724.50" font-size="6.1" text-anchor="end" fill="#505050" font-family="'Liberation Sans', sans-serif" font-weight="normal" transform="rotate(-45 189.8 724.5)">SP</text>
<text x="286.50" y="724.50" font-size="6.1" text-anchor="end" fill="#505050" font-family="'Liberation Sans', sans-serif" font-weight="normal" transform="rotate(-45 286.5 724.5)">Ensure</text>
<text x="383.10" y="724.50" font-size="6.1" text-anchor="end" fill="#505050" font-family="'Liberation Sans', sans-serif" font-weight="normal" transform="rotate(-45 383.1 724.5)">Peptamen</text>
<text x="480.30" y="724.50" font-size="6.1" text-anchor="end" fill="#505050" font-family="'Liberation Sans', sans-serif" font-weight="normal" transform="rotate(-45 480.3 724.5)">Mixed Formula</text>
<text x="281.25" y="761.50" font-size="7.31" text-anchor="middle" fill="#222" font-family="'Liberation Sans', sans-serif" font-weight="normal">Enteral Nutrition Type</text>
<text x="10.30" y="565.00" font-size="7.31" text-anchor="middle" fill="#222" font-family="'Liberation Sans', sans-serif" font-weight="normal" transform="rotate(-90 10.3 565)">SHAP Value</text>
<text x="544.10" y="555.00" font-size="7.16" text-anchor="start" fill="#222" font-family="'Liberation Sans', sans-serif" font-weight="normal">Diarrhea Status</text>
<circle class="b" cx="549.43" cy="564.59" r="2.35"/>
<circle class="r" cx="549.43" cy="575.72" r="2.35"/>
<text x="558.33" y="567.10" font-size="6.2" text-anchor="start" fill="#222" font-family="'Liberation Sans', sans-serif" font-weight="normal">No Diarrhea</text>
<text x="558.33" y="578.33" font-size="6.2" text-anchor="start" fill="#222" font-family="'Liberation Sans', sans-serif" font-weight="normal">Diarrhea</text>
<circle class="r" cx="87.8" cy="597.2" r="2.35"/>
<circle class="b" cx="87.8" cy="598.5" r="2.35"/>
<circle class="b" cx="87.8" cy="604.8" r="2.35"/>
<circle class="b" cx="87.8" cy="607.5" r="2.35"/>
<circle class="b" cx="87.8" cy="618.1" r="2.35"/>
<circle class="b" cx="87.8" cy="621.6" r="2.35"/>
<circle class="r" cx="87.8" cy="621.6" r="2.35"/>
<circle class="r" cx="87.8" cy="626.5" r="2.35"/>
<circle class="b" cx="87.8" cy="631.2" r="2.35"/>
<circle class="b" cx="87.8" cy="632.5" r="2.35"/>
<circle class="b" cx="87.8" cy="633.8" r="2.35"/>
<circle class="b" cx="87.8" cy="635.0" r="2.35"/>
<circle class="b" cx="87.8" cy="636.9" r="2.35"/>
<circle class="r" cx="87.8" cy="642.2" r="2.35"/>
<circle class="b" cx="87.8" cy="642.5" r="2.35"/>
<circle class="b" cx="87.8" cy="646.2" r="2.35"/>
<circle class="b" cx="87.8" cy="649.6" r="2.35"/>
<circle class="b" cx="87.8" cy="656.0" r="2.35"/>
<circle class="b" cx="87.8" cy="657.5" r="2.35"/>
<circle class="b" cx="87.8" cy="659.0" r="2.35"/>
<circle class="r" cx="87.8" cy="662.5" r="2.35"/>
<circle class="b" cx="87.8" cy="663.5" r="2.35"/>
<circle class="r" cx="87.8" cy="665.6" r="2.35"/>
<circle class="b" cx="87.8" cy="666.9" r="2.35"/>
<circle class="r" cx="87.8" cy="668.1" r="2.35"/>
<circle class="b" cx="87.8" cy="670.0" r="2.35"/>
<circle class="b" cx="87.8" cy="671.9" r="2.35"/>
<circle class="b" cx="87.8" cy="672.5" r="2.35"/>
<circle class="b" cx="87.8" cy="691.0" r="2.35"/>
<circle class="r" cx="87.8" cy="704.4" r="2.35"/>
<circle class="b" cx="185.0" cy="572.2" r="2.35"/>
<circle class="b" cx="185.0" cy="575.6" r="2.35"/>
<circle class="b" cx="185.0" cy="578.5" r="2.35"/>
<circle class="r" cx="185.0" cy="582.5" r="2.35"/>
<circle class="r" cx="185.0" cy="584.4" r="2.35"/>
<circle class="r" cx="185.0" cy="598.1" r="2.35"/>
<circle class="b" cx="185.0" cy="601.2" r="2.35"/>
<circle class="b" cx="185.0" cy="603.1" r="2.35"/>
<circle class="r" cx="185.0" cy="605.6" r="2.35"/>
<circle class="b" cx="185.0" cy="607.5" r="2.35"/>
<circle class="b" cx="185.0" cy="610.0" r="2.35"/>
<circle class="b" cx="185.0" cy="613.1" r="2.35"/>
<circle class="r" cx="185.0" cy="615.6" r="2.35"/>
<circle class="b" cx="185.0" cy="617.5" r="2.35"/>
<circle class="b" cx="185.0" cy="620.0" r="2.35"/>
<circle class="b" cx="185.0" cy="622.5" r="2.35"/>
<circle class="b" cx="185.0" cy="625.0" r="2.35"/>
<circle class="b" cx="185.0" cy="627.5" r="2.35"/>
<circle class="b" cx="185.0" cy="630.0" r="2.35"/>
<circle class="b" cx="185.0" cy="632.5" r="2.35"/>
<circle class="b" cx="185.0" cy="635.0" r="2.35"/>
<circle class="b" cx="185.0" cy="638.1" r="2.35"/>
<circle class="b" cx="185.0" cy="641.9" r="2.35"/>
<circle class="b" cx="185.0" cy="643.8" r="2.35"/>
<circle class="b" cx="185.0" cy="649.4" r="2.35"/>
<circle class="b" cx="185.0" cy="653.1" r="2.35"/>
<circle class="b" cx="185.0" cy="655.0" r="2.35"/>
<circle class="b" cx="185.0" cy="656.9" r="2.35"/>
<circle class="r" cx="185.0" cy="662.5" r="2.35"/>
<circle class="b" cx="185.0" cy="670.0" r="2.35"/>
<circle class="r" cx="185.0" cy="678.1" r="2.35"/>
<circle class="b" cx="185.0" cy="688.1" r="2.35"/>
<circle class="r" cx="87.8" cy="563.8" r="2.35"/>
<circle class="r" cx="185.0" cy="549.5" r="2.35"/>
<circle class="b" cx="281.6" cy="588.8" r="2.35"/>
<circle class="b" cx="281.6" cy="596.9" r="2.35"/>
<circle class="b" cx="281.6" cy="599.4" r="2.35"/>
<circle class="b" cx="281.6" cy="601.9" r="2.35"/>
<circle class="b" cx="281.6" cy="604.4" r="2.35"/>
<circle class="b" cx="281.6" cy="605.6" r="2.35"/>
<circle class="r" cx="281.6" cy="613.1" r="2.35"/>
<circle class="b" cx="281.6" cy="615.6" r="2.35"/>
<circle class="b" cx="281.6" cy="616.9" r="2.35"/>
<circle class="b" cx="281.6" cy="618.1" r="2.35"/>
<circle class="b" cx="281.6" cy="623.1" r="2.35"/>
<circle class="b" cx="281.6" cy="625.6" r="2.35"/>
<circle class="b" cx="281.6" cy="627.5" r="2.35"/>
<circle class="b" cx="281.6" cy="629.4" r="2.35"/>
<circle class="b" cx="281.6" cy="631.2" r="2.35"/>
<circle class="b" cx="281.6" cy="633.1" r="2.35"/>
<circle class="r" cx="281.6" cy="636.2" r="2.35"/>
<circle class="b" cx="281.6" cy="634.4" r="2.35"/>
<circle class="b" cx="281.6" cy="640.6" r="2.35"/>
<circle class="r" cx="281.6" cy="659.0" r="2.35"/>
<circle class="b" cx="281.6" cy="678.5" r="2.35"/>
<circle class="r" cx="281.6" cy="682.5" r="2.35"/>
<circle class="b" cx="378.1" cy="547.2" r="2.35"/>
<circle class="b" cx="378.1" cy="564.4" r="2.35"/>
<circle class="b" cx="378.1" cy="570.0" r="2.35"/>
<circle class="b" cx="378.1" cy="571.9" r="2.35"/>
<circle class="b" cx="378.1" cy="579.4" r="2.35"/>
<circle class="b" cx="378.1" cy="590.0" r="2.35"/>
<circle class="b" cx="378.1" cy="592.2" r="2.35"/>
<circle class="b" cx="378.1" cy="597.8" r="2.35"/>
<circle class="b" cx="378.1" cy="606.2" r="2.35"/>
<circle class="r" cx="378.1" cy="610.0" r="2.35"/>
<circle class="r" cx="378.1" cy="611.9" r="2.35"/>
<circle class="r" cx="378.1" cy="634.0" r="2.35"/>
<circle class="r" cx="378.1" cy="654.0" r="2.35"/>
<circle class="b" cx="475.5" cy="425.6" r="2.35"/>
<circle class="r" cx="475.5" cy="425.6" r="2.35"/>
<circle class="r" cx="475.5" cy="432.5" r="2.35"/>
<circle class="r" cx="475.5" cy="434.3" r="2.35"/>
<circle class="r" cx="475.5" cy="435.7" r="2.35"/>
<circle class="b" cx="475.5" cy="439.5" r="2.35"/>
<circle class="b" cx="475.5" cy="441.3" r="2.35"/>
<circle class="r" cx="475.5" cy="445.2" r="2.35"/>
<circle class="r" cx="475.5" cy="449.4" r="2.35"/>
<circle class="r" cx="475.5" cy="450.4" r="2.35"/>
<circle class="b" cx="475.5" cy="456.8" r="2.35"/>
<circle class="b" cx="475.5" cy="461.0" r="2.35"/>
<circle class="b" cx="475.5" cy="462.7" r="2.35"/>
<circle class="b" cx="475.5" cy="468.4" r="2.35"/>
<circle class="r" cx="475.5" cy="471.2" r="2.35"/>
<circle class="b" cx="475.5" cy="473.3" r="2.35"/>
<circle class="b" cx="475.5" cy="475.4" r="2.35"/>
<circle class="r" cx="475.5" cy="477.5" r="2.35"/>
<circle class="b" cx="475.5" cy="481.0" r="2.35"/>
<circle class="b" cx="475.5" cy="482.4" r="2.35"/>
<circle class="r" cx="475.5" cy="486.0" r="2.35"/>
<circle class="r" cx="475.5" cy="488.1" r="2.35"/>
<circle class="r" cx="475.5" cy="489.5" r="2.35"/>
<circle class="b" cx="475.5" cy="493.0" r="2.35"/>
<circle class="b" cx="475.5" cy="494.5" r="2.35"/>
<circle class="b" cx="475.5" cy="496.0" r="2.35"/>
<circle class="b" cx="475.5" cy="497.5" r="2.35"/>
<circle class="b" cx="475.5" cy="499.0" r="2.35"/>
<circle class="b" cx="475.5" cy="500.5" r="2.35"/>
<circle class="r" cx="475.5" cy="502.5" r="2.35"/>
<circle class="r" cx="475.5" cy="504.0" r="2.35"/>
<circle class="b" cx="475.5" cy="505.5" r="2.35"/>
<circle class="b" cx="475.5" cy="507.0" r="2.35"/>
<circle class="b" cx="475.5" cy="508.5" r="2.35"/>
<circle class="b" cx="475.5" cy="510.0" r="2.35"/>
<circle class="b" cx="475.5" cy="511.5" r="2.35"/>
<circle class="b" cx="475.5" cy="513.0" r="2.35"/>
<circle class="b" cx="475.5" cy="514.5" r="2.35"/>
<circle class="b" cx="475.5" cy="516.0" r="2.35"/>
<circle class="r" cx="475.5" cy="517.5" r="2.35"/>
<circle class="b" cx="475.5" cy="517.5" r="2.35"/>
<circle class="b" cx="475.5" cy="519.6" r="2.35"/>
<circle class="b" cx="475.5" cy="521.0" r="2.35"/>
<circle class="b" cx="475.5" cy="522.5" r="2.35"/>
<circle class="b" cx="475.5" cy="524.5" r="2.35"/>
<circle class="r" cx="475.5" cy="526.0" r="2.35"/>
<circle class="r" cx="475.5" cy="528.0" r="2.35"/>
<circle class="r" cx="475.5" cy="530.0" r="2.35"/>
<circle class="b" cx="475.5" cy="531.6" r="2.35"/>
<circle class="b" cx="475.5" cy="537.2" r="2.35"/>
<circle class="b" cx="475.5" cy="538.6" r="2.35"/>
<circle class="b" cx="475.5" cy="542.8" r="2.35"/>
<circle class="b" cx="475.5" cy="553.4" r="2.35"/>
<circle class="b" cx="475.5" cy="555.5" r="2.35"/>
<circle class="b" cx="475.5" cy="561.8" r="2.35"/>
<circle class="r" cx="475.5" cy="566.7" r="2.35"/>
<circle class="b" cx="475.5" cy="566.9" r="2.35"/>
<circle class="b" cx="475.5" cy="570.2" r="2.35"/>
<circle class="b" cx="475.5" cy="591.0" r="2.35"/>
<line x1="713.50" y1="448.65" x2="1209.70" y2="448.65" stroke="#f3f3f3" stroke-width="1" />
<line x1="713.50" y1="549.55" x2="1209.70" y2="549.55" stroke="#f3f3f3" stroke-width="1" />
<line x1="713.50" y1="650.45" x2="1209.70" y2="650.45" stroke="#f3f3f3" stroke-width="1" />
<line x1="800.05" y1="410.60" x2="800.05" y2="738.75" stroke="#f3f3f3" stroke-width="1" />
<line x1="929.15" y1="410.60" x2="929.15" y2="738.75" stroke="#f3f3f3" stroke-width="1" />
<line x1="1058.25" y1="410.60" x2="1058.25" y2="738.75" stroke="#f3f3f3" stroke-width="1" />
<line x1="1187.35" y1="410.60" x2="1187.35" y2="738.75" stroke="#f3f3f3" stroke-width="1" />
<line x1="713.50" y1="499.10" x2="1209.70" y2="499.10" stroke="#eeeeee" stroke-width="1" />
<line x1="713.50" y1="600.00" x2="1209.70" y2="600.00" stroke="#eeeeee" stroke-width="1" />
<line x1="713.50" y1="700.90" x2="1209.70" y2="700.90" stroke="#eeeeee" stroke-width="1" />
<line x1="735.50" y1="410.60" x2="735.50" y2="738.75" stroke="#eeeeee" stroke-width="1" />
<line x1="864.60" y1="410.60" x2="864.60" y2="738.75" stroke="#eeeeee" stroke-width="1" />
<line x1="993.70" y1="410.60" x2="993.70" y2="738.75" stroke="#eeeeee" stroke-width="1" />
<line x1="1122.80" y1="410.60" x2="1122.80" y2="738.75" stroke="#eeeeee" stroke-width="1" />
<line x1="713.50" y1="600.40" x2="1209.70" y2="600.40" stroke="#ea8499" stroke-width="1.75" stroke-dasharray="2.2 1.9"/>
<text x="713.50" y="406.30" font-size="8.75" text-anchor="start" fill="#1a1a1a" font-family="'Liberation Sans', sans-serif" font-weight="normal" stroke="#1a1a1a" stroke-width="0.12">SHAP Dependence Plot for Temp</text>
<text x="709.80" y="501.98" font-size="6.04" text-anchor="end" fill="#505050" font-family="'Liberation Sans', sans-serif" font-weight="normal">0.05</text>
<text x="709.80" y="602.88" font-size="6.04" text-anchor="end" fill="#505050" font-family="'Liberation Sans', sans-serif" font-weight="normal">0.00</text>
<text x="709.80" y="703.78" font-size="6.04" text-anchor="end" fill="#505050" font-family="'Liberation Sans', sans-serif" font-weight="normal">-0.05</text>
<text x="735.50" y="748.25" font-size="6.04" text-anchor="middle" fill="#505050" font-family="'Liberation Sans', sans-serif" font-weight="normal">18</text>
<text x="864.60" y="748.25" font-size="6.04" text-anchor="middle" fill="#505050" font-family="'Liberation Sans', sans-serif" font-weight="normal">20</text>
<text x="993.70" y="748.25" font-size="6.04" text-anchor="middle" fill="#505050" font-family="'Liberation Sans', sans-serif" font-weight="normal">22</text>
<text x="1122.80" y="748.25" font-size="6.04" text-anchor="middle" fill="#505050" font-family="'Liberation Sans', sans-serif" font-weight="normal">24</text>
<text x="961.50" y="756.25" font-size="7.24" text-anchor="middle" fill="#222" font-family="'Liberation Sans', sans-serif" font-weight="normal">Temp (°C)</text>
<text x="693.50" y="574.70" font-size="7.24" text-anchor="middle" fill="#222" font-family="'Liberation Sans', sans-serif" font-weight="normal" transform="rotate(-90 693.5 574.7)">SHAP Value</text>
<text x="1220.60" y="565.30" font-size="7.1" text-anchor="start" fill="#222" font-family="'Liberation Sans', sans-serif" font-weight="normal">Diarrhea Status</text>
<circle class="b" cx="1225.88" cy="574.80" r="2.35"/>
<circle class="r" cx="1225.88" cy="585.83" r="2.35"/>
<text x="1234.70" y="577.29" font-size="6.14" text-anchor="start" fill="#222" font-family="'Liberation Sans', sans-serif" font-weight="normal">No Diarrhea</text>
<text x="1234.70" y="588.42" font-size="6.14" text-anchor="start" fill="#222" font-family="'Liberation Sans', sans-serif" font-weight="normal">Diarrhea</text>
<circle class="b" cx="736.4" cy="494.3" r="2.35"/>
<circle class="r" cx="800.7" cy="457.0" r="2.35"/>
<circle class="r" cx="800.7" cy="458.4" r="2.35"/>
<circle class="r" cx="800.7" cy="466.0" r="2.35"/>
<circle class="b" cx="800.7" cy="469.4" r="2.35"/>
<circle class="b" cx="800.7" cy="473.4" r="2.35"/>
<circle class="b" cx="800.7" cy="479.7" r="2.35"/>
<circle class="b" cx="800.7" cy="482.8" r="2.35"/>
<circle class="b" cx="800.7" cy="485.4" r="2.35"/>
<circle class="r" cx="800.7" cy="485.4" r="2.35"/>
<circle class="r" cx="800.7" cy="491.0" r="2.35"/>
<circle class="b" cx="800.7" cy="499.1" r="2.35"/>
<circle class="r" cx="800.7" cy="500.9" r="2.35"/>
<circle class="b" cx="800.7" cy="506.5" r="2.35"/>
<circle class="r" cx="800.7" cy="512.0" r="2.35"/>
<circle class="r" cx="800.7" cy="515.1" r="2.35"/>
<circle class="b" cx="800.7" cy="515.1" r="2.35"/>
<circle class="b" cx="800.7" cy="529.2" r="2.35"/>
<circle class="b" cx="800.7" cy="529.6" r="2.35"/>
<circle class="b" cx="800.7" cy="539.9" r="2.35"/>
<circle class="b" cx="800.7" cy="546.4" r="2.35"/>
<circle class="b" cx="800.7" cy="549.0" r="2.35"/>
<circle class="b" cx="800.7" cy="551.9" r="2.35"/>
<circle class="b" cx="800.7" cy="559.6" r="2.35"/>
<circle class="r" cx="864.9" cy="425.8" r="2.35"/>
<circle class="r" cx="864.9" cy="459.6" r="2.35"/>
<circle class="b" cx="864.9" cy="487.1" r="2.35"/>
<circle class="b" cx="864.9" cy="490.5" r="2.35"/>
<circle class="r" cx="864.9" cy="494.0" r="2.35"/>
<circle class="b" cx="864.9" cy="496.6" r="2.35"/>
<circle class="b" cx="864.9" cy="500.0" r="2.35"/>
<circle class="r" cx="864.9" cy="507.7" r="2.35"/>
<circle class="r" cx="864.9" cy="509.5" r="2.35"/>
<circle class="b" cx="864.9" cy="514.6" r="2.35"/>
<circle class="b" cx="864.9" cy="518.0" r="2.35"/>
<circle class="r" cx="864.9" cy="520.6" r="2.35"/>
<circle class="r" cx="864.9" cy="523.2" r="2.35"/>
<circle class="r" cx="864.9" cy="525.8" r="2.35"/>
<circle class="r" cx="864.9" cy="527.5" r="2.35"/>
<circle class="r" cx="864.9" cy="531.8" r="2.35"/>
<circle class="b" cx="864.9" cy="537.8" r="2.35"/>
<circle class="b" cx="864.9" cy="540.4" r="2.35"/>
<circle class="b" cx="864.9" cy="543.8" r="2.35"/>
<circle class="b" cx="864.9" cy="549.4" r="2.35"/>
<circle class="r" cx="864.9" cy="550.3" r="2.35"/>
<circle class="b" cx="864.9" cy="552.2" r="2.35"/>
<circle class="b" cx="864.9" cy="554.0" r="2.35"/>
<circle class="b" cx="864.9" cy="556.0" r="2.35"/>
<circle class="b" cx="864.9" cy="557.8" r="2.35"/>
<circle class="r" cx="864.9" cy="558.8" r="2.35"/>
<circle class="b" cx="864.9" cy="560.2" r="2.35"/>
<circle class="b" cx="864.9" cy="563.0" r="2.35"/>
<circle class="r" cx="864.9" cy="563.0" r="2.35"/>
<circle class="b" cx="864.9" cy="568.6" r="2.35"/>
<circle class="b" cx="864.9" cy="572.8" r="2.35"/>
<circle class="r" cx="864.9" cy="573.8" r="2.35"/>
<circle class="r" cx="864.9" cy="580.1" r="2.35"/>
<circle class="b" cx="929.3" cy="594.4" r="2.35"/>
<circle class="b" cx="929.3" cy="602.6" r="2.35"/>
<circle class="r" cx="929.3" cy="607.0" r="2.35"/>
<circle class="b" cx="929.3" cy="609.4" r="2.35"/>
<circle class="b" cx="929.3" cy="612.2" r="2.35"/>
<circle class="b" cx="929.3" cy="614.0" r="2.35"/>
<circle class="r" cx="929.3" cy="616.9" r="2.35"/>
<circle class="b" cx="929.3" cy="618.3" r="2.35"/>
<circle class="b" cx="929.3" cy="620.6" r="2.35"/>
<circle class="b" cx="929.3" cy="622.5" r="2.35"/>
<circle class="r" cx="929.3" cy="623.4" r="2.35"/>
<circle class="b" cx="929.3" cy="624.8" r="2.35"/>
<circle class="b" cx="929.3" cy="626.2" r="2.35"/>
<circle class="b" cx="929.3" cy="628.1" r="2.35"/>
<circle class="b" cx="929.3" cy="631.9" r="2.35"/>
<circle class="r" cx="929.3" cy="633.7" r="2.35"/>
<circle class="b" cx="929.3" cy="635.6" r="2.35"/>
<circle class="r" cx="929.3" cy="638.0" r="2.35"/>
<circle class="r" cx="929.3" cy="639.4" r="2.35"/>
<circle class="r" cx="929.3" cy="641.7" r="2.35"/>
<circle class="r" cx="929.3" cy="643.1" r="2.35"/>
<circle class="r" cx="929.3" cy="644.5" r="2.35"/>
<circle class="b" cx="929.3" cy="647.3" r="2.35"/>
<circle class="b" cx="929.3" cy="648.7" r="2.35"/>
<circle class="b" cx="929.3" cy="652.5" r="2.35"/>
<circle class="b" cx="929.3" cy="654.3" r="2.35"/>
<circle class="b" cx="929.3" cy="656.2" r="2.35"/>
<circle class="b" cx="929.3" cy="663.3" r="2.35"/>
<circle class="b" cx="929.3" cy="680.2" r="2.35"/>
<circle class="b" cx="929.3" cy="690.0" r="2.35"/>
<circle class="b" cx="994.2" cy="626.7" r="2.35"/>
<circle class="b" cx="994.2" cy="630.0" r="2.35"/>
<circle class="b" cx="994.2" cy="631.9" r="2.35"/>
<circle class="b" cx="994.2" cy="639.4" r="2.35"/>
<circle class="r" cx="994.2" cy="641.2" r="2.35"/>
<circle class="b" cx="994.2" cy="643.1" r="2.35"/>
<circle class="b" cx="994.2" cy="645.0" r="2.35"/>
<circle class="b" cx="994.2" cy="646.8" r="2.35"/>
<circle class="b" cx="994.2" cy="648.7" r="2.35"/>
<circle class="b" cx="994.2" cy="650.6" r="2.35"/>
<circle class="b" cx="994.2" cy="652.5" r="2.35"/>
<circle class="b" cx="994.2" cy="654.4" r="2.35"/>
<circle class="r" cx="994.2" cy="657.2" r="2.35"/>
<circle class="r" cx="994.2" cy="659.1" r="2.35"/>
<circle class="r" cx="994.2" cy="661.0" r="2.35"/>
<circle class="b" cx="994.2" cy="664.7" r="2.35"/>
<circle class="b" cx="994.2" cy="666.6" r="2.35"/>
<circle class="b" cx="994.2" cy="668.4" r="2.35"/>
<circle class="b" cx="994.2" cy="671.7" r="2.35"/>
<circle class="b" cx="994.2" cy="676.0" r="2.35"/>
<circle class="b" cx="994.2" cy="678.8" r="2.35"/>
<circle class="b" cx="994.2" cy="680.6" r="2.35"/>
<circle class="b" cx="994.2" cy="682.5" r="2.35"/>
<circle class="r" cx="994.2" cy="685.8" r="2.35"/>
<circle class="b" cx="994.2" cy="688.6" r="2.35"/>
<circle class="b" cx="994.2" cy="693.3" r="2.35"/>
<circle class="r" cx="994.2" cy="696.0" r="2.35"/>
<circle class="r" cx="994.2" cy="699.4" r="2.35"/>
<circle class="r" cx="994.2" cy="701.2" r="2.35"/>
<circle class="r" cx="994.2" cy="704.1" r="2.35"/>
<circle class="r" cx="994.2" cy="706.9" r="2.35"/>
<circle class="b" cx="994.2" cy="712.0" r="2.35"/>
<circle class="b" cx="994.2" cy="718.6" r="2.35"/>
<circle class="b" cx="994.2" cy="724.7" r="2.35"/>
<circle class="b" cx="1058.4" cy="597.5" r="2.35"/>
<circle class="b" cx="1058.4" cy="599.5" r="2.35"/>
<circle class="b" cx="1058.4" cy="608.0" r="2.35"/>
<circle class="b" cx="1058.4" cy="609.8" r="2.35"/>
<circle class="b" cx="1058.4" cy="627.0" r="2.35"/>
<circle class="b" cx="1058.4" cy="632.8" r="2.35"/>
<circle class="b" cx="1058.4" cy="661.0" r="2.35"/>
<circle class="b" cx="1058.4" cy="696.0" r="2.35"/>
<circle class="b" cx="1123.0" cy="560.3" r="2.35"/>
<circle class="b" cx="1123.0" cy="585.0" r="2.35"/>
<circle class="b" cx="1123.0" cy="601.7" r="2.35"/>
<circle class="b" cx="1123.0" cy="607.2" r="2.35"/>
<circle class="b" cx="1123.0" cy="608.0" r="2.35"/>
<circle class="b" cx="1123.0" cy="615.5" r="2.35"/>
<circle class="b" cx="1123.0" cy="630.3" r="2.35"/>
<circle class="b" cx="1123.0" cy="659.0" r="2.35"/>
<circle class="b" cx="1187.2" cy="574.4" r="2.35"/>
<circle class="b" cx="1187.2" cy="574.4" r="2.35"/>
<text x="9.40" y="864.30" font-size="20" text-anchor="start" fill="#000" font-family="'Liberation Sans', sans-serif" font-weight="bold" stroke="#000" stroke-width="0.7">B</text>
<line x1="54.50" y1="870.28" x2="544.00" y2="870.28" stroke="#f3f3f3" stroke-width="1" />
<line x1="54.50" y1="946.93" x2="544.00" y2="946.93" stroke="#f3f3f3" stroke-width="1" />
<line x1="54.50" y1="1023.58" x2="544.00" y2="1023.58" stroke="#f3f3f3" stroke-width="1" />
<line x1="54.50" y1="1100.23" x2="544.00" y2="1100.23" stroke="#f3f3f3" stroke-width="1" />
<line x1="54.50" y1="1176.88" x2="544.00" y2="1176.88" stroke="#f3f3f3" stroke-width="1" />
<line x1="86.00" y1="863.75" x2="86.00" y2="1188.00" stroke="#f3f3f3" stroke-width="1" />
<line x1="178.80" y1="863.75" x2="178.80" y2="1188.00" stroke="#f3f3f3" stroke-width="1" />
<line x1="271.60" y1="863.75" x2="271.60" y2="1188.00" stroke="#f3f3f3" stroke-width="1" />
<line x1="364.40" y1="863.75" x2="364.40" y2="1188.00" stroke="#f3f3f3" stroke-width="1" />
<line x1="457.20" y1="863.75" x2="457.20" y2="1188.00" stroke="#f3f3f3" stroke-width="1" />
<line x1="54.50" y1="908.60" x2="544.00" y2="908.60" stroke="#eeeeee" stroke-width="1" />
<line x1="54.50" y1="985.25" x2="544.00" y2="985.25" stroke="#eeeeee" stroke-width="1" />
<line x1="54.50" y1="1061.90" x2="544.00" y2="1061.90" stroke="#eeeeee" stroke-width="1" />
<line x1="54.50" y1="1138.55" x2="544.00" y2="1138.55" stroke="#eeeeee" stroke-width="1" />
<line x1="132.40" y1="863.75" x2="132.40" y2="1188.00" stroke="#eeeeee" stroke-width="1" />
<line x1="225.20" y1="863.75" x2="225.20" y2="1188.00" stroke="#eeeeee" stroke-width="1" />
<line x1="318.00" y1="863.75" x2="318.00" y2="1188.00" stroke="#eeeeee" stroke-width="1" />
<line x1="410.80" y1="863.75" x2="410.80" y2="1188.00" stroke="#eeeeee" stroke-width="1" />
<line x1="503.60" y1="863.75" x2="503.60" y2="1188.00" stroke="#eeeeee" stroke-width="1" />
<line x1="54.50" y1="1062.30" x2="544.00" y2="1062.30" stroke="#ea8499" stroke-width="1.75" stroke-dasharray="2.2 1.9"/>
<text x="54.50" y="859.50" font-size="8.55" text-anchor="start" fill="#1a1a1a" font-family="'Liberation Sans', sans-serif" font-weight="normal" stroke="#1a1a1a" stroke-width="0.12">SHAP Dependence Plot for Na</text>
<text x="51.25" y="911.41" font-size="5.91" text-anchor="end" fill="#505050" font-family="'Liberation Sans', sans-serif" font-weight="normal">0.10</text>
<text x="51.25" y="988.06" font-size="5.91" text-anchor="end" fill="#505050" font-family="'Liberation Sans', sans-serif" font-weight="normal">0.05</text>
<text x="51.25" y="1064.71" font-size="5.91" text-anchor="end" fill="#505050" font-family="'Liberation Sans', sans-serif" font-weight="normal">0.00</text>
<text x="51.25" y="1141.36" font-size="5.91" text-anchor="end" fill="#505050" font-family="'Liberation Sans', sans-serif" font-weight="normal">-0.05</text>
<text x="132.40" y="1197.00" font-size="5.91" text-anchor="middle" fill="#505050" font-family="'Liberation Sans', sans-serif" font-weight="normal">130</text>
<text x="225.20" y="1197.00" font-size="5.91" text-anchor="middle" fill="#505050" font-family="'Liberation Sans', sans-serif" font-weight="normal">140</text>
<text x="318.00" y="1197.00" font-size="5.91" text-anchor="middle" fill="#505050" font-family="'Liberation Sans', sans-serif" font-weight="normal">150</text>
<text x="410.80" y="1197.00" font-size="5.91" text-anchor="middle" fill="#505050" font-family="'Liberation Sans', sans-serif" font-weight="normal">160</text>
<text x="503.60" y="1197.00" font-size="5.91" text-anchor="middle" fill="#505050" font-family="'Liberation Sans', sans-serif" font-weight="normal">170</text>
<text x="298.50" y="1205.00" font-size="7.08" text-anchor="middle" fill="#222" font-family="'Liberation Sans', sans-serif" font-weight="normal">Na (mmol/L)</text>
<text x="35.50" y="1025.90" font-size="7.08" text-anchor="middle" fill="#222" font-family="'Liberation Sans', sans-serif" font-weight="normal" transform="rotate(-90 35.5 1025.9)">SHAP Value</text>
<text x="554.60" y="1016.70" font-size="6.94" text-anchor="start" fill="#222" font-family="'Liberation Sans', sans-serif" font-weight="normal">Diarrhea Status</text>
<circle class="b" cx="559.76" cy="1025.98" r="2.35"/>
<circle class="r" cx="559.76" cy="1036.76" r="2.35"/>
<text x="568.38" y="1028.42" font-size="6.0" text-anchor="start" fill="#222" font-family="'Liberation Sans', sans-serif" font-weight="normal">No Diarrhea</text>
<text x="568.38" y="1039.29" font-size="6.0" text-anchor="start" fill="#222" font-family="'Liberation Sans', sans-serif" font-weight="normal">Diarrhea</text>
<circle class="b" cx="77.1" cy="1071.9" r="2.35"/>
<circle class="b" cx="95.6" cy="1099.4" r="2.35"/>
<circle class="b" cx="104.8" cy="1106.0" r="2.35"/>
<circle class="r" cx="113.8" cy="1117.1" r="2.35"/>
<circle class="b" cx="123.5" cy="1089.1" r="2.35"/>
<circle class="b" cx="123.5" cy="1094.1" r="2.35"/>
<circle class="b" cx="123.5" cy="1140.4" r="2.35"/>
<circle class="b" cx="141.9" cy="1079.4" r="2.35"/>
<circle class="b" cx="141.9" cy="1100.9" r="2.35"/>
<circle class="r" cx="141.9" cy="1105.6" r="2.35"/>
<circle class="r" cx="141.9" cy="1119.4" r="2.35"/>
<circle class="b" cx="141.9" cy="1128.1" r="2.35"/>
<circle class="b" cx="141.9" cy="1134.8" r="2.35"/>
<circle class="b" cx="151.0" cy="1064.4" r="2.35"/>
<circle class="b" cx="151.0" cy="1070.6" r="2.35"/>
<circle class="b" cx="151.0" cy="1092.5" r="2.35"/>
<circle class="b" cx="151.0" cy="1095.0" r="2.35"/>
<circle class="b" cx="151.0" cy="1098.1" r="2.35"/>
<circle class="b" cx="151.0" cy="1110.0" r="2.35"/>
<circle class="b" cx="151.0" cy="1173.8" r="2.35"/>
<circle class="b" cx="160.6" cy="1078.4" r="2.35"/>
<circle class="b" cx="160.6" cy="1093.1" r="2.35"/>
<circle class="b" cx="160.6" cy="1098.8" r="2.35"/>
<circle class="b" cx="160.6" cy="1099.0" r="2.35"/>
<circle class="r" cx="160.6" cy="1112.5" r="2.35"/>
<circle class="b" cx="160.6" cy="1113.8" r="2.35"/>
<circle class="b" cx="169.6" cy="1065.9" r="2.35"/>
<circle class="b" cx="169.6" cy="1079.4" r="2.35"/>
<circle class="b" cx="169.6" cy="1081.9" r="2.35"/>
<circle class="r" cx="166.5" cy="1082.8" r="2.35"/>
<circle class="b" cx="169.6" cy="1086.5" r="2.35"/>
<circle class="b" cx="173.1" cy="1086.5" r="2.35"/>
<circle class="r" cx="169.6" cy="1095.6" r="2.35"/>
<circle class="b" cx="169.6" cy="1096.5" r="2.35"/>
<circle class="b" cx="169.6" cy="1101.9" r="2.35"/>
<circle class="b" cx="169.6" cy="1110.6" r="2.35"/>
<circle class="b" cx="169.6" cy="1112.2" r="2.35"/>
<circle class="r" cx="169.6" cy="1114.8" r="2.35"/>
<circle class="b" cx="169.6" cy="1129.0" r="2.35"/>
<circle class="r" cx="169.6" cy="1154.1" r="2.35"/>
<circle class="r" cx="178.8" cy="1072.1" r="2.35"/>
<circle class="r" cx="178.8" cy="1079.0" r="2.35"/>
<circle class="b" cx="178.8" cy="1087.2" r="2.35"/>
<circle class="b" cx="178.8" cy="1090.6" r="2.35"/>
<circle class="b" cx="182.5" cy="1087.2" r="2.35"/>
<circle class="r" cx="178.8" cy="1096.0" r="2.35"/>
<circle class="r" cx="178.8" cy="1104.4" r="2.35"/>
<circle class="r" cx="178.8" cy="1107.5" r="2.35"/>
<circle class="r" cx="178.8" cy="1113.1" r="2.35"/>
<circle class="b" cx="178.8" cy="1115.6" r="2.35"/>
<circle class="b" cx="177.5" cy="1119.4" r="2.35"/>
<circle class="b" cx="178.8" cy="1122.2" r="2.35"/>
<circle class="r" cx="178.8" cy="1126.5" r="2.35"/>
<circle class="b" cx="188.1" cy="1045.2" r="2.35"/>
<circle class="b" cx="188.1" cy="1050.9" r="2.35"/>
<circle class="b" cx="188.1" cy="1064.6" r="2.35"/>
<circle class="r" cx="188.1" cy="1064.6" r="2.35"/>
<circle class="b" cx="188.1" cy="1070.6" r="2.35"/>
<circle class="r" cx="188.1" cy="1073.8" r="2.35"/>
<circle class="b" cx="188.1" cy="1079.8" r="2.35"/>
<circle class="b" cx="188.1" cy="1081.2" r="2.35"/>
<circle class="b" cx="188.1" cy="1082.5" r="2.35"/>
<circle class="b" cx="188.1" cy="1090.4" r="2.35"/>
<circle class="b" cx="188.1" cy="1093.1" r="2.35"/>
<circle class="b" cx="188.1" cy="1095.6" r="2.35"/>
<circle class="b" cx="188.1" cy="1104.6" r="2.35"/>
<circle class="b" cx="188.1" cy="1119.0" r="2.35"/>
<circle class="b" cx="197.2" cy="1049.1" r="2.35"/>
<circle class="r" cx="197.2" cy="1057.5" r="2.35"/>
<circle class="r" cx="197.2" cy="1066.0" r="2.35"/>
<circle class="b" cx="201.0" cy="1067.8" r="2.35"/>
<circle class="b" cx="197.2" cy="1070.0" r="2.35"/>
<circle class="b" cx="197.2" cy="1073.8" r="2.35"/>
<circle class="b" cx="197.2" cy="1076.9" r="2.35"/>
<circle class="b" cx="197.2" cy="1078.1" r="2.35"/>
<circle class="b" cx="197.2" cy="1080.0" r="2.35"/>
<circle class="b" cx="197.2" cy="1082.5" r="2.35"/>
<circle class="b" cx="197.2" cy="1088.1" r="2.35"/>
<circle class="r" cx="197.2" cy="1090.0" r="2.35"/>
<circle class="b" cx="197.2" cy="1093.1" r="2.35"/>
<circle class="b" cx="197.2" cy="1095.6" r="2.35"/>
<circle class="b" cx="197.2" cy="1121.5" r="2.35"/>
<circle class="b" cx="206.9" cy="1040.0" r="2.35"/>
<circle class="r" cx="206.9" cy="1040.0" r="2.35"/>
<circle class="b" cx="206.9" cy="1070.4" r="2.35"/>
<circle class="r" cx="206.9" cy="1074.4" r="2.35"/>
<circle class="r" cx="206.9" cy="1079.8" r="2.35"/>
<circle class="b" cx="206.9" cy="1079.8" r="2.35"/>
<circle class="r" cx="206.9" cy="1085.2" r="2.35"/>
<circle class="b" cx="206.9" cy="1088.8" r="2.35"/>
<circle class="b" cx="205.6" cy="1088.8" r="2.35"/>
<circle class="r" cx="206.9" cy="1091.9" r="2.35"/>
<circle class="r" cx="215.9" cy="1049.0" r="2.35"/>
<circle class="b" cx="215.9" cy="1053.1" r="2.35"/>
<circle class="b" cx="215.9" cy="1056.9" r="2.35"/>
<circle class="b" cx="215.9" cy="1062.5" r="2.35"/>
<circle class="r" cx="215.9" cy="1062.5" r="2.35"/>
<circle class="r" cx="215.9" cy="1068.8" r="2.35"/>
<circle class="b" cx="215.9" cy="1070.0" r="2.35"/>
<circle class="b" cx="215.9" cy="1073.8" r="2.35"/>
<circle class="r" cx="215.9" cy="1073.8" r="2.35"/>
<circle class="r" cx="215.9" cy="1076.2" r="2.35"/>
<circle class="b" cx="215.9" cy="1090.4" r="2.35"/>
<circle class="b" cx="215.9" cy="1100.9" r="2.35"/>
<circle class="r" cx="215.9" cy="1107.1" r="2.35"/>
<circle class="b" cx="215.9" cy="1016.9" r="2.35"/>
<circle class="b" cx="225.2" cy="1048.1" r="2.35"/>
<circle class="r" cx="225.2" cy="1051.2" r="2.35"/>
<circle class="r" cx="225.2" cy="1060.0" r="2.35"/>
<circle class="b" cx="225.2" cy="1062.5" r="2.35"/>
<circle class="b" cx="225.2" cy="1068.1" r="2.35"/>
<circle class="b" cx="225.2" cy="1071.2" r="2.35"/>
<circle class="r" cx="225.2" cy="1071.2" r="2.35"/>
<circle class="b" cx="225.2" cy="1075.6" r="2.35"/>
<circle class="r" cx="225.2" cy="1080.0" r="2.35"/>
<circle class="b" cx="225.2" cy="1081.9" r="2.35"/>
<circle class="r" cx="225.2" cy="1093.1" r="2.35"/>
<circle class="b" cx="225.2" cy="1094.4" r="2.35"/>
<circle class="r" cx="225.2" cy="1104.4" r="2.35"/>
<circle class="b" cx="234.8" cy="1081.2" r="2.35"/>
<circle class="r" cx="234.5" cy="1083.1" r="2.35"/>
<circle class="b" cx="234.5" cy="1088.8" r="2.35"/>
<circle class="b" cx="234.5" cy="1091.2" r="2.35"/>
<circle class="r" cx="234.5" cy="1096.2" r="2.35"/>
<circle class="b" cx="234.5" cy="1100.2" r="2.35"/>
<circle class="b" cx="234.5" cy="1106.0" r="2.35"/>
<circle class="r" cx="234.5" cy="1107.8" r="2.35"/>
<circle class="b" cx="243.8" cy="1053.5" r="2.35"/>
<circle class="b" cx="243.8" cy="1065.6" r="2.35"/>
<circle class="b" cx="243.8" cy="1068.1" r="2.35"/>
<circle class="b" cx="243.8" cy="1076.2" r="2.35"/>
<circle class="r" cx="243.8" cy="1077.5" r="2.35"/>
<circle class="b" cx="243.8" cy="1084.4" r="2.35"/>
<circle class="b" cx="243.8" cy="1084.6" r="2.35"/>
<circle class="r" cx="243.8" cy="1086.2" r="2.35"/>
<circle class="b" cx="243.8" cy="1088.8" r="2.35"/>
<circle class="b" cx="243.8" cy="1090.0" r="2.35"/>
<circle class="r" cx="243.8" cy="1100.6" r="2.35"/>
<circle class="b" cx="253.0" cy="1060.6" r="2.35"/>
<circle class="r" cx="251.2" cy="1067.8" r="2.35"/>
<circle class="b" cx="253.0" cy="1071.9" r="2.35"/>
<circle class="b" cx="256.2" cy="1071.2" r="2.35"/>
<circle class="b" cx="258.8" cy="1069.8" r="2.35"/>
<circle class="b" cx="253.0" cy="1076.2" r="2.35"/>
<circle class="b" cx="253.0" cy="1086.9" r="2.35"/>
<circle class="b" cx="253.0" cy="1093.5" r="2.35"/>
<circle class="r" cx="256.0" cy="1094.0" r="2.35"/>
<circle class="b" cx="262.2" cy="1013.8" r="2.35"/>
<circle class="b" cx="262.2" cy="1045.6" r="2.35"/>
<circle class="b" cx="262.2" cy="1046.2" r="2.35"/>
<circle class="b" cx="262.2" cy="1063.1" r="2.35"/>
<circle class="b" cx="262.2" cy="1063.8" r="2.35"/>
<circle class="r" cx="262.2" cy="1066.2" r="2.35"/>
<circle class="b" cx="262.2" cy="1079.8" r="2.35"/>
<circle class="r" cx="271.6" cy="1007.2" r="2.35"/>
<circle class="r" cx="271.6" cy="1029.8" r="2.35"/>
<circle class="b" cx="271.6" cy="1036.0" r="2.35"/>
<circle class="b" cx="271.6" cy="1044.0" r="2.35"/>
<circle class="r" cx="271.6" cy="1049.8" r="2.35"/>
<circle class="b" cx="271.6" cy="1052.5" r="2.35"/>
<circle class="b" cx="271.6" cy="1055.6" r="2.35"/>
<circle class="b" cx="271.6" cy="1064.0" r="2.35"/>
<circle class="b" cx="280.8" cy="1002.9" r="2.35"/>
<circle class="b" cx="280.8" cy="1027.8" r="2.35"/>
<circle class="b" cx="290.2" cy="1020.6" r="2.35"/>
<circle class="r" cx="299.4" cy="1039.8" r="2.35"/>
<circle class="b" cx="299.4" cy="1020.2" r="2.35"/>
<circle class="b" cx="302.2" cy="1012.5" r="2.35"/>
<circle class="b" cx="308.5" cy="999.6" r="2.35"/>
<circle class="b" cx="308.5" cy="1009.6" r="2.35"/>
<circle class="r" cx="299.3" cy="907.0" r="2.35"/>
<circle class="b" cx="308.4" cy="894.3" r="2.35"/>
<circle class="b" cx="327.0" cy="901.6" r="2.35"/>
<circle class="b" cx="336.4" cy="897.6" r="2.35"/>
<circle class="r" cx="336.4" cy="888.9" r="2.35"/>
<circle class="b" cx="388.9" cy="887.3" r="2.35"/>
<circle class="r" cx="401.4" cy="879.0" r="2.35"/>
<circle class="b" cx="438.0" cy="922.8" r="2.35"/>
<circle class="b" cx="512.6" cy="916.2" r="2.35"/>
<circle class="b" cx="343.7" cy="928.0" r="2.35"/>
<circle class="b" cx="345.6" cy="940.9" r="2.35"/>
<circle class="r" cx="317.8" cy="943.1" r="2.35"/>
<circle class="r" cx="317.8" cy="948.6" r="2.35"/>
<circle class="b" cx="317.8" cy="951.2" r="2.35"/>
<circle class="r" cx="299.3" cy="951.4" r="2.35"/>
<circle class="b" cx="327.0" cy="953.4" r="2.35"/>
<circle class="b" cx="327.0" cy="957.4" r="2.35"/>
<circle class="b" cx="336.4" cy="957.8" r="2.35"/>
<circle class="r" cx="410.4" cy="956.3" r="2.35"/>
<circle class="b" cx="521.5" cy="955.6" r="2.35"/>
<circle class="r" cx="317.8" cy="967.6" r="2.35"/>
<circle class="b" cx="317.8" cy="974.2" r="2.35"/>
<circle class="b" cx="292.0" cy="971.1" r="2.35"/>
<circle class="b" cx="299.3" cy="979.0" r="2.35"/>
<circle class="b" cx="290.3" cy="982.9" r="2.35"/>
<circle class="r" cx="290.3" cy="987.3" r="2.35"/>
<circle class="r" cx="308.4" cy="985.8" r="2.35"/>
<circle class="b" cx="373.4" cy="981.9" r="2.35"/>
<circle class="b" cx="494.0" cy="975.7" r="2.35"/>
<circle class="b" cx="327.0" cy="999.6" r="2.35"/>
<circle class="b" cx="345.6" cy="1004.4" r="2.35"/>
<circle class="b" cx="262.0" cy="980.0" r="2.35"/>
<line x1="732.50" y1="885.83" x2="1218.70" y2="885.83" stroke="#f3f3f3" stroke-width="1" />
<line x1="732.50" y1="968.38" x2="1218.70" y2="968.38" stroke="#f3f3f3" stroke-width="1" />
<line x1="732.50" y1="1050.92" x2="1218.70" y2="1050.92" stroke="#f3f3f3" stroke-width="1" />
<line x1="732.50" y1="1133.48" x2="1218.70" y2="1133.48" stroke="#f3f3f3" stroke-width="1" />
<line x1="775.25" y1="865.40" x2="775.25" y2="1186.25" stroke="#f3f3f3" stroke-width="1" />
<line x1="875.55" y1="865.40" x2="875.55" y2="1186.25" stroke="#f3f3f3" stroke-width="1" />
<line x1="975.85" y1="865.40" x2="975.85" y2="1186.25" stroke="#f3f3f3" stroke-width="1" />
<line x1="1076.15" y1="865.40" x2="1076.15" y2="1186.25" stroke="#f3f3f3" stroke-width="1" />
<line x1="1176.45" y1="865.40" x2="1176.45" y2="1186.25" stroke="#f3f3f3" stroke-width="1" />
<line x1="732.50" y1="927.10" x2="1218.70" y2="927.10" stroke="#eeeeee" stroke-width="1" />
<line x1="732.50" y1="1009.65" x2="1218.70" y2="1009.65" stroke="#eeeeee" stroke-width="1" />
<line x1="732.50" y1="1092.20" x2="1218.70" y2="1092.20" stroke="#eeeeee" stroke-width="1" />
<line x1="732.50" y1="1174.75" x2="1218.70" y2="1174.75" stroke="#eeeeee" stroke-width="1" />
<line x1="825.40" y1="865.40" x2="825.40" y2="1186.25" stroke="#eeeeee" stroke-width="1" />
<line x1="925.70" y1="865.40" x2="925.70" y2="1186.25" stroke="#eeeeee" stroke-width="1" />
<line x1="1026.00" y1="865.40" x2="1026.00" y2="1186.25" stroke="#eeeeee" stroke-width="1" />
<line x1="1126.30" y1="865.40" x2="1126.30" y2="1186.25" stroke="#eeeeee" stroke-width="1" />
<line x1="732.50" y1="1092.60" x2="1218.70" y2="1092.60" stroke="#ea8499" stroke-width="1.75" stroke-dasharray="2.2 1.9"/>
<text x="732.90" y="860.70" font-size="8.46" text-anchor="start" fill="#1a1a1a" font-family="'Liberation Sans', sans-serif" font-weight="normal" stroke="#1a1a1a" stroke-width="0.12">SHAP Dependence Plot for Potassium</text>
<text x="729.20" y="929.88" font-size="5.84" text-anchor="end" fill="#505050" font-family="'Liberation Sans', sans-serif" font-weight="normal">0.10</text>
<text x="729.20" y="1012.43" font-size="5.84" text-anchor="end" fill="#505050" font-family="'Liberation Sans', sans-serif" font-weight="normal">0.05</text>
<text x="729.20" y="1094.98" font-size="5.84" text-anchor="end" fill="#505050" font-family="'Liberation Sans', sans-serif" font-weight="normal">0.00</text>
<text x="729.20" y="1177.53" font-size="5.84" text-anchor="end" fill="#505050" font-family="'Liberation Sans', sans-serif" font-weight="normal">-0.05</text>
<text x="825.40" y="1195.50" font-size="5.84" text-anchor="middle" fill="#505050" font-family="'Liberation Sans', sans-serif" font-weight="normal">3</text>
<text x="925.70" y="1195.50" font-size="5.84" text-anchor="middle" fill="#505050" font-family="'Liberation Sans', sans-serif" font-weight="normal">4</text>
<text x="1026.00" y="1195.50" font-size="5.84" text-anchor="middle" fill="#505050" font-family="'Liberation Sans', sans-serif" font-weight="normal">5</text>
<text x="1126.30" y="1195.50" font-size="5.84" text-anchor="middle" fill="#505050" font-family="'Liberation Sans', sans-serif" font-weight="normal">6</text>
<text x="975.25" y="1203.75" font-size="7.0" text-anchor="middle" fill="#222" font-family="'Liberation Sans', sans-serif" font-weight="normal">K (mmol/L)</text>
<text x="714.00" y="1025.80" font-size="7.0" text-anchor="middle" fill="#222" font-family="'Liberation Sans', sans-serif" font-weight="normal" transform="rotate(-90 714 1025.8)">SHAP Value</text>
<text x="1229.20" y="1016.70" font-size="6.86" text-anchor="start" fill="#222" font-family="'Liberation Sans', sans-serif" font-weight="normal">Diarrhea Status</text>
<circle class="b" cx="1234.30" cy="1025.88" r="2.35"/>
<circle class="r" cx="1234.30" cy="1036.55" r="2.35"/>
<text x="1242.84" y="1028.30" font-size="5.94" text-anchor="start" fill="#222" font-family="'Liberation Sans', sans-serif" font-weight="normal">No Diarrhea</text>
<text x="1242.84" y="1039.06" font-size="5.94" text-anchor="start" fill="#222" font-family="'Liberation Sans', sans-serif" font-weight="normal">Diarrhea</text>
<circle class="b" cx="755.0" cy="1117.8" r="2.35"/>
<circle class="b" cx="805.2" cy="1058.1" r="2.35"/>
<circle class="b" cx="805.2" cy="1067.2" r="2.35"/>
<circle class="b" cx="805.2" cy="1083.1" r="2.35"/>
<circle class="b" cx="815.0" cy="1071.5" r="2.35"/>
<circle class="r" cx="821.2" cy="1083.8" r="2.35"/>
<circle class="b" cx="825.0" cy="1094.6" r="2.35"/>
<circle class="r" cx="835.0" cy="1059.6" r="2.35"/>
<circle class="r" cx="835.0" cy="1064.0" r="2.35"/>
<circle class="b" cx="834.0" cy="1065.6" r="2.35"/>
<circle class="r" cx="835.0" cy="1109.6" r="2.35"/>
<circle class="r" cx="835.0" cy="1113.1" r="2.35"/>
<circle class="b" cx="835.0" cy="1149.1" r="2.35"/>
<circle class="r" cx="845.0" cy="1076.2" r="2.35"/>
<circle class="b" cx="845.0" cy="1095.9" r="2.35"/>
<circle class="b" cx="845.0" cy="1097.5" r="2.35"/>
<circle class="b" cx="845.0" cy="1098.5" r="2.35"/>
<circle class="b" cx="845.0" cy="1109.1" r="2.35"/>
<circle class="b" cx="845.0" cy="1113.8" r="2.35"/>
<circle class="r" cx="845.0" cy="1115.0" r="2.35"/>
<circle class="b" cx="845.0" cy="1124.0" r="2.35"/>
<circle class="b" cx="845.0" cy="1142.9" r="2.35"/>
<circle class="r" cx="845.0" cy="1154.6" r="2.35"/>
<circle class="b" cx="850.2" cy="1165.2" r="2.35"/>
<circle class="b" cx="855.6" cy="1119.4" r="2.35"/>
<circle class="r" cx="855.6" cy="1119.4" r="2.35"/>
<circle class="b" cx="855.6" cy="1123.1" r="2.35"/>
<circle class="b" cx="855.6" cy="1128.4" r="2.35"/>
<circle class="b" cx="855.6" cy="1135.4" r="2.35"/>
<circle class="r" cx="855.6" cy="1154.8" r="2.35"/>
<circle class="r" cx="855.6" cy="1156.5" r="2.35"/>
<circle class="b" cx="865.6" cy="1088.8" r="2.35"/>
<circle class="b" cx="865.6" cy="1097.8" r="2.35"/>
<circle class="b" cx="865.6" cy="1103.1" r="2.35"/>
<circle class="b" cx="865.6" cy="1107.1" r="2.35"/>
<circle class="b" cx="865.6" cy="1118.4" r="2.35"/>
<circle class="r" cx="865.6" cy="1123.5" r="2.35"/>
<circle class="b" cx="865.6" cy="1127.5" r="2.35"/>
<circle class="r" cx="865.6" cy="1140.0" r="2.35"/>
<circle class="r" cx="865.6" cy="1160.6" r="2.35"/>
<circle class="r" cx="875.4" cy="1083.1" r="2.35"/>
<circle class="b" cx="875.4" cy="1089.4" r="2.35"/>
<circle class="b" cx="875.4" cy="1090.6" r="2.35"/>
<circle class="b" cx="875.4" cy="1095.0" r="2.35"/>
<circle class="b" cx="875.4" cy="1100.0" r="2.35"/>
<circle class="r" cx="875.4" cy="1104.4" r="2.35"/>
<circle class="b" cx="875.4" cy="1105.6" r="2.35"/>
<circle class="b" cx="875.4" cy="1117.2" r="2.35"/>
<circle class="b" cx="875.4" cy="1121.2" r="2.35"/>
<circle class="b" cx="880.6" cy="1096.5" r="2.35"/>
<circle class="r" cx="882.5" cy="1086.2" r="2.35"/>
<circle class="b" cx="885.4" cy="1081.0" r="2.35"/>
<circle class="b" cx="885.4" cy="1084.8" r="2.35"/>
<circle class="r" cx="885.4" cy="1088.1" r="2.35"/>
<circle class="b" cx="885.4" cy="1091.2" r="2.35"/>
<circle class="r" cx="885.4" cy="1092.5" r="2.35"/>
<circle class="b" cx="887.2" cy="1092.5" r="2.35"/>
<circle class="b" cx="885.4" cy="1095.0" r="2.35"/>
<circle class="b" cx="885.4" cy="1100.0" r="2.35"/>
<circle class="b" cx="885.4" cy="1101.2" r="2.35"/>
<circle class="b" cx="885.4" cy="1104.4" r="2.35"/>
<circle class="b" cx="885.4" cy="1108.5" r="2.35"/>
<circle class="b" cx="885.4" cy="1120.2" r="2.35"/>
<circle class="r" cx="885.4" cy="1128.5" r="2.35"/>
<circle class="b" cx="895.4" cy="1095.6" r="2.35"/>
<circle class="b" cx="895.4" cy="1096.5" r="2.35"/>
<circle class="b" cx="896.2" cy="1101.2" r="2.35"/>
<circle class="b" cx="895.4" cy="1102.1" r="2.35"/>
<circle class="b" cx="895.4" cy="1109.1" r="2.35"/>
<circle class="b" cx="895.4" cy="1112.5" r="2.35"/>
<circle class="b" cx="895.4" cy="1113.8" r="2.35"/>
<circle class="r" cx="895.4" cy="1120.0" r="2.35"/>
<circle class="b" cx="895.4" cy="1124.1" r="2.35"/>
<circle class="b" cx="905.6" cy="1103.8" r="2.35"/>
<circle class="b" cx="905.6" cy="1110.9" r="2.35"/>
<circle class="b" cx="905.6" cy="1119.4" r="2.35"/>
<circle class="b" cx="905.6" cy="1120.2" r="2.35"/>
<circle class="b" cx="905.6" cy="1126.6" r="2.35"/>
<circle class="b" cx="905.6" cy="1127.5" r="2.35"/>
<circle class="b" cx="905.6" cy="1129.8" r="2.35"/>
<circle class="r" cx="905.6" cy="1133.5" r="2.35"/>
<circle class="b" cx="905.6" cy="1141.0" r="2.35"/>
<circle class="r" cx="905.6" cy="1141.9" r="2.35"/>
<circle class="b" cx="902.2" cy="1145.0" r="2.35"/>
<circle class="r" cx="911.5" cy="1140.0" r="2.35"/>
<circle class="r" cx="915.6" cy="1112.1" r="2.35"/>
<circle class="b" cx="915.6" cy="1117.5" r="2.35"/>
<circle class="b" cx="918.5" cy="1116.2" r="2.35"/>
<circle class="b" cx="915.6" cy="1122.5" r="2.35"/>
<circle class="b" cx="915.6" cy="1123.5" r="2.35"/>
<circle class="b" cx="919.4" cy="1126.2" r="2.35"/>
<circle class="r" cx="915.6" cy="1142.8" r="2.35"/>
<circle class="b" cx="915.6" cy="1144.4" r="2.35"/>
<circle class="b" cx="915.6" cy="1147.8" r="2.35"/>
<circle class="r" cx="915.6" cy="1154.8" r="2.35"/>
<circle class="r" cx="920.4" cy="1138.1" r="2.35"/>
<circle class="b" cx="920.4" cy="1141.2" r="2.35"/>
<circle class="r" cx="925.6" cy="1103.8" r="2.35"/>
<circle class="b" cx="925.6" cy="1112.1" r="2.35"/>
<circle class="b" cx="925.6" cy="1119.4" r="2.35"/>
<circle class="b" cx="925.6" cy="1121.2" r="2.35"/>
<circle class="b" cx="925.6" cy="1123.1" r="2.35"/>
<circle class="b" cx="925.6" cy="1128.1" r="2.35"/>
<circle class="r" cx="925.6" cy="1131.9" r="2.35"/>
<circle class="r" cx="925.6" cy="1133.5" r="2.35"/>
<circle class="b" cx="925.6" cy="1141.9" r="2.35"/>
<circle class="b" cx="925.6" cy="1143.1" r="2.35"/>
<circle class="b" cx="925.6" cy="1148.1" r="2.35"/>
<circle class="b" cx="925.6" cy="1152.5" r="2.35"/>
<circle class="r" cx="925.6" cy="1172.8" r="2.35"/>
<circle class="b" cx="935.6" cy="1107.9" r="2.35"/>
<circle class="b" cx="935.6" cy="1115.0" r="2.35"/>
<circle class="r" cx="935.6" cy="1116.0" r="2.35"/>
<circle class="b" cx="935.6" cy="1116.9" r="2.35"/>
<circle class="b" cx="935.6" cy="1121.6" r="2.35"/>
<circle class="r" cx="935.6" cy="1126.2" r="2.35"/>
<circle class="b" cx="935.6" cy="1131.2" r="2.35"/>
<circle class="b" cx="935.6" cy="1132.8" r="2.35"/>
<circle class="b" cx="945.6" cy="1097.2" r="2.35"/>
<circle class="b" cx="945.6" cy="1107.5" r="2.35"/>
<circle class="b" cx="945.6" cy="1114.4" r="2.35"/>
<circle class="b" cx="945.6" cy="1115.6" r="2.35"/>
<circle class="b" cx="945.6" cy="1117.5" r="2.35"/>
<circle class="r" cx="945.6" cy="1121.5" r="2.35"/>
<circle class="b" cx="945.6" cy="1123.1" r="2.35"/>
<circle class="b" cx="945.6" cy="1130.4" r="2.35"/>
<circle class="b" cx="945.6" cy="1134.4" r="2.35"/>
<circle class="r" cx="945.6" cy="1134.4" r="2.35"/>
<circle class="b" cx="956.0" cy="1081.9" r="2.35"/>
<circle class="r" cx="956.0" cy="1102.1" r="2.35"/>
<circle class="b" cx="956.0" cy="1112.8" r="2.35"/>
<circle class="r" cx="956.0" cy="1112.8" r="2.35"/>
<circle class="b" cx="956.0" cy="1115.6" r="2.35"/>
<circle class="b" cx="956.0" cy="1116.2" r="2.35"/>
<circle class="r" cx="956.0" cy="1121.5" r="2.35"/>
<circle class="b" cx="956.0" cy="1120.0" r="2.35"/>
<circle class="b" cx="958.8" cy="1124.0" r="2.35"/>
<circle class="b" cx="962.5" cy="1084.6" r="2.35"/>
<circle class="r" cx="965.9" cy="1090.0" r="2.35"/>
<circle class="b" cx="965.9" cy="1094.1" r="2.35"/>
<circle class="b" cx="965.9" cy="1112.5" r="2.35"/>
<circle class="b" cx="965.9" cy="1118.8" r="2.35"/>
<circle class="r" cx="965.9" cy="1124.6" r="2.35"/>
<circle class="r" cx="976.0" cy="1077.8" r="2.35"/>
<circle class="b" cx="974.0" cy="1080.4" r="2.35"/>
<circle class="b" cx="976.0" cy="1098.8" r="2.35"/>
<circle class="b" cx="978.1" cy="1098.1" r="2.35"/>
<circle class="r" cx="976.0" cy="1103.4" r="2.35"/>
<circle class="b" cx="976.0" cy="1109.4" r="2.35"/>
<circle class="r" cx="976.0" cy="1111.9" r="2.35"/>
<circle class="b" cx="976.0" cy="1117.8" r="2.35"/>
<circle class="r" cx="976.0" cy="1117.8" r="2.35"/>
<circle class="r" cx="976.0" cy="1124.6" r="2.35"/>
<circle class="b" cx="985.8" cy="1046.2" r="2.35"/>
<circle class="r" cx="985.8" cy="1053.8" r="2.35"/>
<circle class="b" cx="985.8" cy="1062.5" r="2.35"/>
<circle class="b" cx="985.8" cy="1063.5" r="2.35"/>
<circle class="r" cx="985.8" cy="1073.4" r="2.35"/>
<circle class="b" cx="985.8" cy="1080.2" r="2.35"/>
<circle class="b" cx="985.8" cy="1081.0" r="2.35"/>
<circle class="b" cx="995.8" cy="1046.2" r="2.35"/>
<circle class="b" cx="995.8" cy="1065.9" r="2.35"/>
<circle class="r" cx="1026.2" cy="1049.6" r="2.35"/>
<circle class="r" cx="1056.5" cy="879.9" r="2.35"/>
<circle class="b" cx="1196.6" cy="880.3" r="2.35"/>
<circle class="r" cx="1106.7" cy="898.6" r="2.35"/>
<circle class="r" cx="1006.3" cy="939.6" r="2.35"/>
<circle class="b" cx="1035.8" cy="942.9" r="2.35"/>
<circle class="b" cx="1045.9" cy="947.3" r="2.35"/>
<circle class="b" cx="1056.5" cy="952.4" r="2.35"/>
<circle class="b" cx="1056.5" cy="958.5" r="2.35"/>
<circle class="r" cx="1026.0" cy="953.8" r="2.35"/>
<circle class="r" cx="1026.0" cy="960.5" r="2.35"/>
<circle class="b" cx="1096.1" cy="937.2" r="2.35"/>
<circle class="b" cx="1116.4" cy="934.5" r="2.35"/>
<circle class="r" cx="1136.3" cy="935.2" r="2.35"/>
<circle class="b" cx="1076.2" cy="971.7" r="2.35"/>
<circle class="b" cx="1066.2" cy="977.4" r="2.35"/>
<circle class="r" cx="995.5" cy="982.3" r="2.35"/>
<circle class="r" cx="1006.3" cy="979.8" r="2.35"/>
<circle class="r" cx="1009.8" cy="981.5" r="2.35"/>
<circle class="b" cx="1016.3" cy="990.0" r="2.35"/>
<circle class="r" cx="1042.9" cy="987.0" r="2.35"/>
<circle class="r" cx="1056.5" cy="1000.8" r="2.35"/>
<circle class="b" cx="1006.3" cy="1002.2" r="2.35"/>
<circle class="b" cx="1006.3" cy="1004.6" r="2.35"/>
<circle class="r" cx="995.5" cy="1009.3" r="2.35"/>
<circle class="b" cx="1006.3" cy="1016.4" r="2.35"/>
<circle class="b" cx="1006.3" cy="1018.4" r="2.35"/>
<circle class="b" cx="1006.3" cy="1020.1" r="2.35"/>
<circle class="b" cx="985.8" cy="1024.9" r="2.35"/>
<circle class="b" cx="985.8" cy="1030.6" r="2.35"/>
<circle class="b" cx="985.8" cy="1035.3" r="2.35"/>
<circle class="b" cx="995.5" cy="1028.6" r="2.35"/>
<circle class="b" cx="1009.8" cy="1030.6" r="2.35"/>
<circle class="r" cx="1006.3" cy="1034.3" r="2.35"/>
<circle class="b" cx="1015.3" cy="1035.1" r="2.35"/>
<circle class="b" cx="1035.8" cy="1027.8" r="2.35"/>
<line x1="40.10" y1="1276.02" x2="556.50" y2="1276.02" stroke="#f3f3f3" stroke-width="1" />
<line x1="40.10" y1="1361.01" x2="556.50" y2="1361.01" stroke="#f3f3f3" stroke-width="1" />
<line x1="40.10" y1="1445.99" x2="556.50" y2="1445.99" stroke="#f3f3f3" stroke-width="1" />
<line x1="40.10" y1="1530.98" x2="556.50" y2="1530.98" stroke="#f3f3f3" stroke-width="1" />
<line x1="147.57" y1="1250.30" x2="147.57" y2="1592.50" stroke="#f3f3f3" stroke-width="1" />
<line x1="321.93" y1="1250.30" x2="321.93" y2="1592.50" stroke="#f3f3f3" stroke-width="1" />
<line x1="496.27" y1="1250.30" x2="496.27" y2="1592.50" stroke="#f3f3f3" stroke-width="1" />
<line x1="40.10" y1="1318.51" x2="556.50" y2="1318.51" stroke="#eeeeee" stroke-width="1" />
<line x1="40.10" y1="1403.50" x2="556.50" y2="1403.50" stroke="#eeeeee" stroke-width="1" />
<line x1="40.10" y1="1488.49" x2="556.50" y2="1488.49" stroke="#eeeeee" stroke-width="1" />
<line x1="40.10" y1="1573.48" x2="556.50" y2="1573.48" stroke="#eeeeee" stroke-width="1" />
<line x1="60.40" y1="1250.30" x2="60.40" y2="1592.50" stroke="#eeeeee" stroke-width="1" />
<line x1="234.75" y1="1250.30" x2="234.75" y2="1592.50" stroke="#eeeeee" stroke-width="1" />
<line x1="409.10" y1="1250.30" x2="409.10" y2="1592.50" stroke="#eeeeee" stroke-width="1" />
<line x1="40.10" y1="1403.90" x2="556.50" y2="1403.90" stroke="#ea8499" stroke-width="1.75" stroke-dasharray="2.2 1.9"/>
<text x="40.10" y="1245.60" font-size="8.99" text-anchor="start" fill="#1a1a1a" font-family="'Liberation Sans', sans-serif" font-weight="normal" stroke="#1a1a1a" stroke-width="0.12">SHAP Dependence Plot for CRP</text>
<text x="35.80" y="1321.47" font-size="6.21" text-anchor="end" fill="#505050" font-family="'Liberation Sans', sans-serif" font-weight="normal">0.03</text>
<text x="35.80" y="1406.46" font-size="6.21" text-anchor="end" fill="#505050" font-family="'Liberation Sans', sans-serif" font-weight="normal">0.00</text>
<text x="35.80" y="1491.45" font-size="6.21" text-anchor="end" fill="#505050" font-family="'Liberation Sans', sans-serif" font-weight="normal">-0.03</text>
<text x="35.80" y="1576.44" font-size="6.21" text-anchor="end" fill="#505050" font-family="'Liberation Sans', sans-serif" font-weight="normal">-0.06</text>
<text x="60.40" y="1602.00" font-size="6.21" text-anchor="middle" fill="#505050" font-family="'Liberation Sans', sans-serif" font-weight="normal">0</text>
<text x="234.75" y="1602.00" font-size="6.21" text-anchor="middle" fill="#505050" font-family="'Liberation Sans', sans-serif" font-weight="normal">100</text>
<text x="409.10" y="1602.00" font-size="6.21" text-anchor="middle" fill="#505050" font-family="'Liberation Sans', sans-serif" font-weight="normal">200</text>
<text x="297.75" y="1610.75" font-size="7.44" text-anchor="middle" fill="#222" font-family="'Liberation Sans', sans-serif" font-weight="normal">CRP (mg/L)</text>
<text x="19.00" y="1421.40" font-size="7.44" text-anchor="middle" fill="#222" font-family="'Liberation Sans', sans-serif" font-weight="normal" transform="rotate(-90 19 1421.4)">SHAP Value</text>
<text x="567.50" y="1411.50" font-size="7.29" text-anchor="start" fill="#222" font-family="'Liberation Sans', sans-serif" font-weight="normal">Diarrhea Status</text>
<circle class="b" cx="572.92" cy="1421.26" r="2.35"/>
<circle class="r" cx="572.92" cy="1432.59" r="2.35"/>
<text x="581.99" y="1423.82" font-size="6.31" text-anchor="start" fill="#222" font-family="'Liberation Sans', sans-serif" font-weight="normal">No Diarrhea</text>
<text x="581.99" y="1435.26" font-size="6.31" text-anchor="start" fill="#222" font-family="'Liberation Sans', sans-serif" font-weight="normal">Diarrhea</text>
<circle class="r" cx="116.3" cy="1266.3" r="2.35"/>
<circle class="b" cx="126.1" cy="1272.3" r="2.35"/>
<circle class="b" cx="89.6" cy="1278.3" r="2.35"/>
<circle class="r" cx="90.5" cy="1281.4" r="2.35"/>
<circle class="r" cx="78.1" cy="1282.6" r="2.35"/>
<circle class="b" cx="126.1" cy="1283.1" r="2.35"/>
<circle class="b" cx="129.5" cy="1281.4" r="2.35"/>
<circle class="b" cx="134.3" cy="1289.1" r="2.35"/>
<circle class="b" cx="80.2" cy="1293.4" r="2.35"/>
<circle class="b" cx="77.1" cy="1297.2" r="2.35"/>
<circle class="b" cx="82.7" cy="1295.8" r="2.35"/>
<circle class="r" cx="89.1" cy="1299.3" r="2.35"/>
<circle class="b" cx="127.8" cy="1304.1" r="2.35"/>
<circle class="b" cx="118.3" cy="1310.1" r="2.35"/>
<circle class="b" cx="110.2" cy="1315.2" r="2.35"/>
<circle class="r" cx="74.5" cy="1313.3" r="2.35"/>
<circle class="b" cx="75.0" cy="1320.6" r="2.35"/>
<circle class="b" cx="82.7" cy="1319.2" r="2.35"/>
<circle class="b" cx="140.7" cy="1323.5" r="2.35"/>
<circle class="r" cx="153.6" cy="1322.6" r="2.35"/>
<circle class="b" cx="170.4" cy="1325.7" r="2.35"/>
<circle class="b" cx="103.4" cy="1326.8" r="2.35"/>
<circle class="b" cx="74.1" cy="1332.4" r="2.35"/>
<circle class="b" cx="75.0" cy="1335.9" r="2.35"/>
<circle class="b" cx="114.9" cy="1331.9" r="2.35"/>
<circle class="b" cx="120.6" cy="1332.9" r="2.35"/>
<circle class="b" cx="130.0" cy="1331.9" r="2.35"/>
<circle class="b" cx="118.8" cy="1337.2" r="2.35"/>
<circle class="r" cx="132.6" cy="1338.1" r="2.35"/>
<circle class="b" cx="135.5" cy="1341.0" r="2.35"/>
<circle class="b" cx="154.6" cy="1331.9" r="2.35"/>
<circle class="b" cx="153.6" cy="1335.9" r="2.35"/>
<circle class="b" cx="156.6" cy="1337.1" r="2.35"/>
<circle class="r" cx="176.9" cy="1338.1" r="2.35"/>
<circle class="r" cx="78.4" cy="1340.2" r="2.35"/>
<circle class="r" cx="83.6" cy="1336.7" r="2.35"/>
<circle class="r" cx="88.8" cy="1335.9" r="2.35"/>
<circle class="r" cx="92.2" cy="1337.9" r="2.35"/>
<circle class="b" cx="88.4" cy="1341.4" r="2.35"/>
<circle class="b" cx="79.6" cy="1343.6" r="2.35"/>
<circle class="b" cx="70.2" cy="1345.3" r="2.35"/>
<circle class="b" cx="73.6" cy="1345.8" r="2.35"/>
<circle class="b" cx="74.1" cy="1351.0" r="2.35"/>
<circle class="r" cx="86.7" cy="1347.6" r="2.35"/>
<circle class="b" cx="91.3" cy="1350.5" r="2.35"/>
<circle class="b" cx="97.3" cy="1348.4" r="2.35"/>
<circle class="b" cx="99.1" cy="1353.9" r="2.35"/>
<circle class="b" cx="112.0" cy="1346.5" r="2.35"/>
<circle class="b" cx="117.5" cy="1350.5" r="2.35"/>
<circle class="r" cx="128.8" cy="1350.5" r="2.35"/>
<circle class="b" cx="134.3" cy="1346.5" r="2.35"/>
<circle class="b" cx="146.3" cy="1350.0" r="2.35"/>
<circle class="b" cx="148.1" cy="1353.1" r="2.35"/>
<circle class="b" cx="160.9" cy="1348.4" r="2.35"/>
<circle class="b" cx="168.8" cy="1343.6" r="2.35"/>
<circle class="b" cx="175.2" cy="1353.4" r="2.35"/>
<circle class="r" cx="78.1" cy="1361.6" r="2.35"/>
<circle class="b" cx="81.4" cy="1363.0" r="2.35"/>
<circle class="b" cx="88.4" cy="1362.5" r="2.35"/>
<circle class="b" cx="86.7" cy="1363.4" r="2.35"/>
<circle class="b" cx="70.2" cy="1366.5" r="2.35"/>
<circle class="b" cx="79.3" cy="1365.9" r="2.35"/>
<circle class="b" cx="81.4" cy="1365.6" r="2.35"/>
<circle class="b" cx="83.6" cy="1366.8" r="2.35"/>
<circle class="b" cx="103.4" cy="1366.8" r="2.35"/>
<circle class="b" cx="107.3" cy="1368.2" r="2.35"/>
<circle class="r" cx="108.2" cy="1358.7" r="2.35"/>
<circle class="r" cx="113.7" cy="1358.2" r="2.35"/>
<circle class="b" cx="112.0" cy="1365.4" r="2.35"/>
<circle class="r" cx="114.5" cy="1367.7" r="2.35"/>
<circle class="b" cx="124.0" cy="1360.4" r="2.35"/>
<circle class="b" cx="132.6" cy="1366.3" r="2.35"/>
<circle class="b" cx="146.7" cy="1359.9" r="2.35"/>
<circle class="b" cx="165.2" cy="1365.4" r="2.35"/>
<circle class="r" cx="176.9" cy="1363.9" r="2.35"/>
<circle class="r" cx="79.3" cy="1372.5" r="2.35"/>
<circle class="b" cx="77.6" cy="1375.4" r="2.35"/>
<circle class="b" cx="78.4" cy="1376.3" r="2.35"/>
<circle class="b" cx="63.5" cy="1379.7" r="2.35"/>
<circle class="b" cx="87.9" cy="1380.2" r="2.35"/>
<circle class="r" cx="82.2" cy="1381.8" r="2.35"/>
<circle class="b" cx="83.1" cy="1382.8" r="2.35"/>
<circle class="b" cx="99.9" cy="1385.2" r="2.35"/>
<circle class="r" cx="105.4" cy="1385.2" r="2.35"/>
<circle class="r" cx="94.8" cy="1387.9" r="2.35"/>
<circle class="r" cx="114.0" cy="1389.7" r="2.35"/>
<circle class="r" cx="126.6" cy="1380.2" r="2.35"/>
<circle class="b" cx="134.8" cy="1377.1" r="2.35"/>
<circle class="b" cx="140.7" cy="1377.1" r="2.35"/>
<circle class="b" cx="149.8" cy="1374.2" r="2.35"/>
<circle class="b" cx="150.6" cy="1377.5" r="2.35"/>
<circle class="b" cx="153.6" cy="1375.4" r="2.35"/>
<circle class="b" cx="168.8" cy="1383.6" r="2.35"/>
<circle class="r" cx="183.8" cy="1384.3" r="2.35"/>
<circle class="b" cx="189.8" cy="1380.6" r="2.35"/>
<circle class="b" cx="120.6" cy="1392.6" r="2.35"/>
<circle class="b" cx="143.4" cy="1393.1" r="2.35"/>
<circle class="r" cx="147.2" cy="1392.1" r="2.35"/>
<circle class="b" cx="94.8" cy="1395.2" r="2.35"/>
<circle class="b" cx="99.4" cy="1396.5" r="2.35"/>
<circle class="r" cx="95.6" cy="1397.7" r="2.35"/>
<circle class="r" cx="185.9" cy="1395.2" r="2.35"/>
<circle class="r" cx="187.9" cy="1393.8" r="2.35"/>
<circle class="b" cx="77.1" cy="1402.9" r="2.35"/>
<circle class="b" cx="77.1" cy="1407.5" r="2.35"/>
<circle class="b" cx="86.7" cy="1415.4" r="2.35"/>
<circle class="b" cx="103.4" cy="1412.9" r="2.35"/>
<circle class="b" cx="107.1" cy="1407.2" r="2.35"/>
<circle class="r" cx="104.7" cy="1420.6" r="2.35"/>
<circle class="r" cx="147.2" cy="1406.8" r="2.35"/>
<circle class="r" cx="156.6" cy="1417.0" r="2.35"/>
<circle class="b" cx="167.8" cy="1424.4" r="2.35"/>
<circle class="b" cx="159.7" cy="1439.8" r="2.35"/>
<circle class="r" cx="167.3" cy="1449.8" r="2.35"/>
<circle class="b" cx="184.5" cy="1416.3" r="2.35"/>
<circle class="b" cx="184.5" cy="1419.6" r="2.35"/>
<circle class="r" cx="181.6" cy="1424.4" r="2.35"/>
<circle class="b" cx="182.9" cy="1430.7" r="2.35"/>
<circle class="b" cx="180.7" cy="1433.0" r="2.35"/>
<circle class="r" cx="179.0" cy="1436.9" r="2.35"/>
<circle class="b" cx="179.8" cy="1450.2" r="2.35"/>
<circle class="b" cx="182.4" cy="1449.3" r="2.35"/>
<circle class="b" cx="200.0" cy="1408.4" r="2.35"/>
<circle class="b" cx="198.2" cy="1423.0" r="2.35"/>
<circle class="b" cx="202.2" cy="1423.5" r="2.35"/>
<circle class="r" cx="200.5" cy="1436.4" r="2.35"/>
<circle class="b" cx="201.8" cy="1439.0" r="2.35"/>
<circle class="b" cx="201.3" cy="1440.2" r="2.35"/>
<circle class="r" cx="209.1" cy="1433.8" r="2.35"/>
<circle class="r" cx="215.9" cy="1432.1" r="2.35"/>
<circle class="b" cx="207.0" cy="1447.1" r="2.35"/>
<circle class="r" cx="212.2" cy="1447.1" r="2.35"/>
<circle class="b" cx="201.8" cy="1453.9" r="2.35"/>
<circle class="b" cx="213.9" cy="1454.5" r="2.35"/>
<circle class="r" cx="214.7" cy="1453.6" r="2.35"/>
<circle class="r" cx="95.1" cy="1446.7" r="2.35"/>
<circle class="r" cx="100.3" cy="1494.0" r="2.35"/>
<circle class="b" cx="227.6" cy="1467.3" r="2.35"/>
<circle class="b" cx="235.7" cy="1470.8" r="2.35"/>
<circle class="b" cx="226.8" cy="1474.2" r="2.35"/>
<circle class="b" cx="237.9" cy="1475.9" r="2.35"/>
<circle class="b" cx="219.7" cy="1477.3" r="2.35"/>
<circle class="b" cx="229.7" cy="1479.7" r="2.35"/>
<circle class="b" cx="238.3" cy="1481.1" r="2.35"/>
<circle class="r" cx="216.5" cy="1482.0" r="2.35"/>
<circle class="b" cx="216.5" cy="1489.3" r="2.35"/>
<circle class="b" cx="216.8" cy="1491.1" r="2.35"/>
<circle class="r" cx="219.9" cy="1492.3" r="2.35"/>
<circle class="b" cx="224.5" cy="1496.6" r="2.35"/>
<circle class="r" cx="203.9" cy="1508.6" r="2.35"/>
<circle class="b" cx="228.5" cy="1514.6" r="2.35"/>
<circle class="b" cx="238.3" cy="1514.6" r="2.35"/>
<circle class="b" cx="219.0" cy="1521.8" r="2.35"/>
<circle class="b" cx="222.3" cy="1528.9" r="2.35"/>
<circle class="r" cx="225.7" cy="1527.8" r="2.35"/>
<circle class="r" cx="237.4" cy="1452.7" r="2.35"/>
<circle class="r" cx="259.6" cy="1408.9" r="2.35"/>
<circle class="b" cx="273.0" cy="1407.7" r="2.35"/>
<circle class="b" cx="307.3" cy="1413.4" r="2.35"/>
<circle class="b" cx="298.8" cy="1427.0" r="2.35"/>
<circle class="b" cx="306.1" cy="1425.4" r="2.35"/>
<circle class="b" cx="326.8" cy="1423.5" r="2.35"/>
<circle class="b" cx="324.2" cy="1432.0" r="2.35"/>
<circle class="b" cx="339.5" cy="1434.5" r="2.35"/>
<circle class="b" cx="252.9" cy="1438.2" r="2.35"/>
<circle class="b" cx="285.0" cy="1442.6" r="2.35"/>
<circle class="b" cx="285.0" cy="1446.9" r="2.35"/>
<circle class="b" cx="292.7" cy="1445.2" r="2.35"/>
<circle class="b" cx="316.8" cy="1448.6" r="2.35"/>
<circle class="b" cx="358.1" cy="1447.6" r="2.35"/>
<circle class="b" cx="383.3" cy="1439.7" r="2.35"/>
<circle class="b" cx="352.9" cy="1460.7" r="2.35"/>
<circle class="b" cx="319.2" cy="1463.8" r="2.35"/>
<circle class="b" cx="382.1" cy="1470.3" r="2.35"/>
<circle class="r" cx="423.4" cy="1473.0" r="2.35"/>
<circle class="b" cx="270.4" cy="1470.1" r="2.35"/>
<circle class="b" cx="275.9" cy="1469.6" r="2.35"/>
<circle class="r" cx="285.5" cy="1471.0" r="2.35"/>
<circle class="b" cx="283.6" cy="1475.1" r="2.35"/>
<circle class="r" cx="278.6" cy="1477.3" r="2.35"/>
<circle class="b" cx="306.8" cy="1477.9" r="2.35"/>
<circle class="b" cx="249.4" cy="1479.4" r="2.35"/>
<circle class="b" cx="245.8" cy="1483.7" r="2.35"/>
<circle class="r" cx="271.3" cy="1492.8" r="2.35"/>
<circle class="b" cx="270.4" cy="1496.3" r="2.35"/>
<circle class="b" cx="278.1" cy="1494.5" r="2.35"/>
<circle class="r" cx="291.5" cy="1493.7" r="2.35"/>
<circle class="b" cx="311.3" cy="1500.0" r="2.35"/>
<circle class="r" cx="279.0" cy="1503.1" r="2.35"/>
<circle class="r" cx="305.6" cy="1507.4" r="2.35"/>
<circle class="r" cx="285.3" cy="1511.2" r="2.35"/>
<circle class="r" cx="255.8" cy="1513.8" r="2.35"/>
<circle class="r" cx="277.6" cy="1525.0" r="2.35"/>
<circle class="b" cx="264.0" cy="1527.7" r="2.35"/>
<circle class="r" cx="247.7" cy="1532.0" r="2.35"/>
<circle class="b" cx="255.8" cy="1532.3" r="2.35"/>
<circle class="b" cx="318.2" cy="1523.2" r="2.35"/>
<circle class="r" cx="309.6" cy="1529.8" r="2.35"/>
<circle class="b" cx="269.0" cy="1541.8" r="2.35"/>
<circle class="b" cx="399.3" cy="1565.9" r="2.35"/>
<circle class="b" cx="264.0" cy="1577.6" r="2.35"/>
<circle class="r" cx="379.5" cy="1403.4" r="2.35"/>
<circle class="b" cx="408.4" cy="1406.4" r="2.35"/>
<circle class="r" cx="293.9" cy="1375.9" r="2.35"/>
<circle class="r" cx="293.9" cy="1377.9" r="2.35"/>
<circle class="r" cx="346.5" cy="1356.0" r="2.35"/>
<circle class="b" cx="370.0" cy="1374.1" r="2.35"/>
<circle class="b" cx="371.8" cy="1389.5" r="2.35"/>
<circle class="r" cx="378.2" cy="1400.6" r="2.35"/>
<circle class="b" cx="406.6" cy="1399.1" r="2.35"/>
<circle class="b" cx="434.2" cy="1374.1" r="2.35"/>
<circle class="b" cx="447.8" cy="1379.2" r="2.35"/>
<circle class="b" cx="449.9" cy="1343.1" r="2.35"/>
<circle class="b" cx="460.2" cy="1356.0" r="2.35"/>
<circle class="b" cx="459.4" cy="1384.4" r="2.35"/>
<circle class="b" cx="450.9" cy="1400.4" r="2.35"/>
<circle class="b" cx="463.3" cy="1298.8" r="2.35"/>
<circle class="b" cx="496.0" cy="1288.0" r="2.35"/>
<circle class="b" cx="482.6" cy="1351.6" r="2.35"/>
<circle class="r" cx="519.5" cy="1376.6" r="2.35"/>
<circle class="r" cx="481.0" cy="1413.5" r="2.35"/>
<circle class="b" cx="532.8" cy="1421.0" r="2.35"/>
<circle class="b" cx="473.4" cy="1440.6" r="2.35"/>
<circle class="r" cx="458.4" cy="1448.1" r="2.35"/>
<circle class="b" cx="520.9" cy="1443.5" r="2.35"/>
<circle class="b" cx="530.4" cy="1483.1" r="2.35"/>
<line x1="676.60" y1="1322.75" x2="1214.00" y2="1322.75" stroke="#f3f3f3" stroke-width="1" />
<line x1="676.60" y1="1422.25" x2="1214.00" y2="1422.25" stroke="#f3f3f3" stroke-width="1" />
<line x1="676.60" y1="1521.75" x2="1214.00" y2="1521.75" stroke="#f3f3f3" stroke-width="1" />
<line x1="686.59" y1="1243.40" x2="686.59" y2="1598.75" stroke="#f3f3f3" stroke-width="1" />
<line x1="830.21" y1="1243.40" x2="830.21" y2="1598.75" stroke="#f3f3f3" stroke-width="1" />
<line x1="973.84" y1="1243.40" x2="973.84" y2="1598.75" stroke="#f3f3f3" stroke-width="1" />
<line x1="1117.46" y1="1243.40" x2="1117.46" y2="1598.75" stroke="#f3f3f3" stroke-width="1" />
<line x1="676.60" y1="1273.00" x2="1214.00" y2="1273.00" stroke="#eeeeee" stroke-width="1" />
<line x1="676.60" y1="1372.50" x2="1214.00" y2="1372.50" stroke="#eeeeee" stroke-width="1" />
<line x1="676.60" y1="1472.00" x2="1214.00" y2="1472.00" stroke="#eeeeee" stroke-width="1" />
<line x1="676.60" y1="1571.50" x2="1214.00" y2="1571.50" stroke="#eeeeee" stroke-width="1" />
<line x1="758.40" y1="1243.40" x2="758.40" y2="1598.75" stroke="#eeeeee" stroke-width="1" />
<line x1="902.02" y1="1243.40" x2="902.02" y2="1598.75" stroke="#eeeeee" stroke-width="1" />
<line x1="1045.65" y1="1243.40" x2="1045.65" y2="1598.75" stroke="#eeeeee" stroke-width="1" />
<line x1="1189.28" y1="1243.40" x2="1189.28" y2="1598.75" stroke="#eeeeee" stroke-width="1" />
<line x1="676.60" y1="1472.40" x2="1214.00" y2="1472.40" stroke="#ea8499" stroke-width="1.75" stroke-dasharray="2.2 1.9"/>
<text x="676.60" y="1238.30" font-size="9.36" text-anchor="start" fill="#1a1a1a" font-family="'Liberation Sans', sans-serif" font-weight="normal" stroke="#1a1a1a" stroke-width="0.12">SHAP Dependence Plot for Age</text>
<text x="672.50" y="1276.08" font-size="6.47" text-anchor="end" fill="#505050" font-family="'Liberation Sans', sans-serif" font-weight="normal">0.10</text>
<text x="672.50" y="1375.58" font-size="6.47" text-anchor="end" fill="#505050" font-family="'Liberation Sans', sans-serif" font-weight="normal">0.05</text>
<text x="672.50" y="1475.08" font-size="6.47" text-anchor="end" fill="#505050" font-family="'Liberation Sans', sans-serif" font-weight="normal">0.00</text>
<text x="672.50" y="1574.58" font-size="6.47" text-anchor="end" fill="#505050" font-family="'Liberation Sans', sans-serif" font-weight="normal">-0.05</text>
<text x="758.40" y="1609.00" font-size="6.47" text-anchor="middle" fill="#505050" font-family="'Liberation Sans', sans-serif" font-weight="normal">25</text>
<text x="902.02" y="1609.00" font-size="6.47" text-anchor="middle" fill="#505050" font-family="'Liberation Sans', sans-serif" font-weight="normal">50</text>
<text x="1045.65" y="1609.00" font-size="6.47" text-anchor="middle" fill="#505050" font-family="'Liberation Sans', sans-serif" font-weight="normal">75</text>
<text x="1189.28" y="1609.00" font-size="6.47" text-anchor="middle" fill="#505050" font-family="'Liberation Sans', sans-serif" font-weight="normal">100</text>
<text x="944.75" y="1618.00" font-size="7.75" text-anchor="middle" fill="#222" font-family="'Liberation Sans', sans-serif" font-weight="normal">Age (years)</text>
<text x="655.00" y="1421.00" font-size="7.75" text-anchor="middle" fill="#222" font-family="'Liberation Sans', sans-serif" font-weight="normal" transform="rotate(-90 655 1421)">SHAP Value</text>
<text x="1226.10" y="1410.90" font-size="7.59" text-anchor="start" fill="#222" font-family="'Liberation Sans', sans-serif" font-weight="normal">Diarrhea Status</text>
<circle class="b" cx="1231.74" cy="1421.06" r="2.35"/>
<circle class="r" cx="1231.74" cy="1432.86" r="2.35"/>
<text x="1241.19" y="1423.73" font-size="6.57" text-anchor="start" fill="#222" font-family="'Liberation Sans', sans-serif" font-weight="normal">No Diarrhea</text>
<text x="1241.19" y="1435.63" font-size="6.57" text-anchor="start" fill="#222" font-family="'Liberation Sans', sans-serif" font-weight="normal">Diarrhea</text>
<circle class="b" cx="700.9" cy="1307.3" r="2.35"/>
<circle class="b" cx="700.9" cy="1369.3" r="2.35"/>
<circle class="r" cx="718.4" cy="1511.8" r="2.35"/>
<circle class="b" cx="741.1" cy="1532.0" r="2.35"/>
<circle class="r" cx="764.0" cy="1524.2" r="2.35"/>
<circle class="b" cx="798.7" cy="1580.1" r="2.35"/>
<circle class="b" cx="810.1" cy="1486.8" r="2.35"/>
<circle class="b" cx="815.9" cy="1498.8" r="2.35"/>
<circle class="b" cx="821.6" cy="1505.0" r="2.35"/>
<circle class="r" cx="839.1" cy="1461.5" r="2.35"/>
<circle class="b" cx="839.1" cy="1485.0" r="2.35"/>
<circle class="b" cx="844.8" cy="1476.1" r="2.35"/>
<circle class="b" cx="856.5" cy="1537.1" r="2.35"/>
<circle class="b" cx="850.4" cy="1563.8" r="2.35"/>
<circle class="r" cx="839.1" cy="1583.5" r="2.35"/>
<circle class="b" cx="862.3" cy="1494.7" r="2.35"/>
<circle class="b" cx="868.0" cy="1506.2" r="2.35"/>
<circle class="b" cx="868.0" cy="1474.0" r="2.35"/>
<circle class="b" cx="873.6" cy="1467.8" r="2.35"/>
<circle class="b" cx="873.6" cy="1477.8" r="2.35"/>
<circle class="b" cx="878.6" cy="1487.8" r="2.35"/>
<circle class="b" cx="925.6" cy="1449.0" r="2.35"/>
<circle class="r" cx="959.6" cy="1457.9" r="2.35"/>
<circle class="b" cx="1005.9" cy="1453.5" r="2.35"/>
<circle class="r" cx="1023.1" cy="1446.2" r="2.35"/>
<circle class="b" cx="1017.2" cy="1455.2" r="2.35"/>
<circle class="b" cx="1023.1" cy="1457.2" r="2.35"/>
<circle class="r" cx="1028.5" cy="1455.2" r="2.35"/>
<circle class="b" cx="1028.5" cy="1460.0" r="2.35"/>
<circle class="b" cx="1017.2" cy="1460.0" r="2.35"/>
<circle class="b" cx="988.5" cy="1464.1" r="2.35"/>
<circle class="b" cx="1000.0" cy="1466.6" r="2.35"/>
<circle class="b" cx="1011.6" cy="1464.6" r="2.35"/>
<circle class="r" cx="902.5" cy="1469.4" r="2.35"/>
<circle class="r" cx="913.8" cy="1469.8" r="2.35"/>
<circle class="r" cx="919.8" cy="1474.4" r="2.35"/>
<circle class="b" cx="925.6" cy="1473.1" r="2.35"/>
<circle class="r" cx="931.2" cy="1477.2" r="2.35"/>
<circle class="b" cx="896.6" cy="1477.8" r="2.35"/>
<circle class="r" cx="965.2" cy="1473.1" r="2.35"/>
<circle class="r" cx="971.0" cy="1473.5" r="2.35"/>
<circle class="r" cx="988.5" cy="1475.4" r="2.35"/>
<circle class="r" cx="1017.2" cy="1468.8" r="2.35"/>
<circle class="r" cx="1017.2" cy="1471.2" r="2.35"/>
<circle class="r" cx="1023.1" cy="1471.2" r="2.35"/>
<circle class="b" cx="1023.1" cy="1471.2" r="2.35"/>
<circle class="b" cx="1017.2" cy="1476.2" r="2.35"/>
<circle class="b" cx="1017.2" cy="1480.2" r="2.35"/>
<circle class="b" cx="1023.1" cy="1478.1" r="2.35"/>
<circle class="b" cx="1023.1" cy="1480.0" r="2.35"/>
<circle class="b" cx="1023.1" cy="1482.5" r="2.35"/>
<circle class="b" cx="1023.1" cy="1484.8" r="2.35"/>
<circle class="b" cx="1028.5" cy="1475.0" r="2.35"/>
<circle class="b" cx="1028.5" cy="1478.8" r="2.35"/>
<circle class="b" cx="1028.5" cy="1485.0" r="2.35"/>
<circle class="b" cx="1028.5" cy="1488.1" r="2.35"/>
<circle class="b" cx="1017.2" cy="1485.0" r="2.35"/>
<circle class="b" cx="1017.2" cy="1486.0" r="2.35"/>
<circle class="b" cx="1011.6" cy="1487.5" r="2.35"/>
<circle class="b" cx="1011.6" cy="1488.1" r="2.35"/>
<circle class="r" cx="1005.9" cy="1482.1" r="2.35"/>
<circle class="r" cx="1005.9" cy="1482.5" r="2.35"/>
<circle class="b" cx="994.4" cy="1480.4" r="2.35"/>
<circle class="r" cx="908.1" cy="1485.0" r="2.35"/>
<circle class="b" cx="908.1" cy="1485.2" r="2.35"/>
<circle class="r" cx="914.0" cy="1483.8" r="2.35"/>
<circle class="b" cx="914.0" cy="1486.9" r="2.35"/>
<circle class="r" cx="919.8" cy="1488.1" r="2.35"/>
<circle class="b" cx="902.5" cy="1488.1" r="2.35"/>
<circle class="b" cx="908.1" cy="1492.2" r="2.35"/>
<circle class="b" cx="914.0" cy="1493.5" r="2.35"/>
<circle class="b" cx="925.6" cy="1495.4" r="2.35"/>
<circle class="r" cx="971.0" cy="1486.2" r="2.35"/>
<circle class="b" cx="976.9" cy="1490.4" r="2.35"/>
<circle class="b" cx="982.8" cy="1491.9" r="2.35"/>
<circle class="b" cx="965.2" cy="1494.0" r="2.35"/>
<circle class="r" cx="959.6" cy="1496.2" r="2.35"/>
<circle class="b" cx="988.5" cy="1495.0" r="2.35"/>
<circle class="b" cx="994.4" cy="1489.8" r="2.35"/>
<circle class="r" cx="1000.0" cy="1490.9" r="2.35"/>
<circle class="b" cx="1005.9" cy="1495.0" r="2.35"/>
<circle class="r" cx="1017.2" cy="1490.4" r="2.35"/>
<circle class="b" cx="1017.2" cy="1493.8" r="2.35"/>
<circle class="b" cx="1028.5" cy="1497.2" r="2.35"/>
<circle class="b" cx="902.5" cy="1501.2" r="2.35"/>
<circle class="b" cx="902.5" cy="1504.6" r="2.35"/>
<circle class="b" cx="891.0" cy="1507.5" r="2.35"/>
<circle class="b" cx="925.6" cy="1503.5" r="2.35"/>
<circle class="b" cx="942.9" cy="1501.6" r="2.35"/>
<circle class="b" cx="948.1" cy="1500.0" r="2.35"/>
<circle class="b" cx="948.1" cy="1504.1" r="2.35"/>
<circle class="b" cx="959.6" cy="1506.6" r="2.35"/>
<circle class="b" cx="959.6" cy="1510.0" r="2.35"/>
<circle class="b" cx="959.6" cy="1511.0" r="2.35"/>
<circle class="b" cx="971.0" cy="1506.6" r="2.35"/>
<circle class="b" cx="976.9" cy="1505.0" r="2.35"/>
<circle class="b" cx="976.9" cy="1505.4" r="2.35"/>
<circle class="b" cx="994.4" cy="1499.8" r="2.35"/>
<circle class="b" cx="994.4" cy="1504.6" r="2.35"/>
<circle class="b" cx="988.5" cy="1504.8" r="2.35"/>
<circle class="b" cx="988.5" cy="1507.8" r="2.35"/>
<circle class="b" cx="1000.0" cy="1503.8" r="2.35"/>
<circle class="r" cx="1000.0" cy="1506.9" r="2.35"/>
<circle class="b" cx="1000.0" cy="1510.6" r="2.35"/>
<circle class="b" cx="1005.9" cy="1502.9" r="2.35"/>
<circle class="b" cx="1017.2" cy="1502.1" r="2.35"/>
<circle class="r" cx="1017.2" cy="1505.2" r="2.35"/>
<circle class="b" cx="1017.2" cy="1506.9" r="2.35"/>
<circle class="b" cx="931.2" cy="1511.5" r="2.35"/>
<circle class="b" cx="937.1" cy="1510.9" r="2.35"/>
<circle class="b" cx="942.9" cy="1511.5" r="2.35"/>
<circle class="b" cx="925.6" cy="1514.0" r="2.35"/>
<circle class="b" cx="953.8" cy="1511.5" r="2.35"/>
<circle class="b" cx="953.8" cy="1514.6" r="2.35"/>
<circle class="b" cx="976.9" cy="1510.9" r="2.35"/>
<circle class="b" cx="902.5" cy="1518.8" r="2.35"/>
<circle class="b" cx="948.1" cy="1521.2" r="2.35"/>
<circle class="b" cx="971.0" cy="1520.9" r="2.35"/>
<circle class="r" cx="1000.0" cy="1521.9" r="2.35"/>
<circle class="b" cx="925.6" cy="1525.4" r="2.35"/>
<circle class="b" cx="902.5" cy="1528.8" r="2.35"/>
<circle class="b" cx="948.1" cy="1529.1" r="2.35"/>
<circle class="b" cx="959.6" cy="1525.9" r="2.35"/>
<circle class="r" cx="982.8" cy="1528.1" r="2.35"/>
<circle class="r" cx="971.0" cy="1531.9" r="2.35"/>
<circle class="b" cx="976.9" cy="1532.5" r="2.35"/>
<circle class="r" cx="896.6" cy="1532.9" r="2.35"/>
<circle class="r" cx="914.0" cy="1536.0" r="2.35"/>
<circle class="b" cx="937.1" cy="1535.0" r="2.35"/>
<circle class="b" cx="942.9" cy="1545.0" r="2.35"/>
<circle class="b" cx="937.1" cy="1548.5" r="2.35"/>
<circle class="b" cx="953.8" cy="1543.4" r="2.35"/>
<circle class="b" cx="965.2" cy="1542.5" r="2.35"/>
<circle class="b" cx="885.2" cy="1554.4" r="2.35"/>
<circle class="r" cx="896.6" cy="1558.1" r="2.35"/>
<circle class="b" cx="931.2" cy="1567.8" r="2.35"/>
<circle class="b" cx="1080.6" cy="1403.5" r="2.35"/>
<circle class="b" cx="1086.5" cy="1408.5" r="2.35"/>
<circle class="b" cx="1121.0" cy="1410.6" r="2.35"/>
<circle class="b" cx="1075.0" cy="1415.4" r="2.35"/>
<circle class="b" cx="1080.6" cy="1418.1" r="2.35"/>
<circle class="b" cx="1092.2" cy="1417.5" r="2.35"/>
<circle class="b" cx="1075.0" cy="1423.1" r="2.35"/>
<circle class="r" cx="1097.9" cy="1426.5" r="2.35"/>
<circle class="r" cx="1103.8" cy="1423.8" r="2.35"/>
<circle class="b" cx="1109.6" cy="1424.4" r="2.35"/>
<circle class="r" cx="1028.8" cy="1430.6" r="2.35"/>
<circle class="b" cx="1051.9" cy="1433.8" r="2.35"/>
<circle class="r" cx="1063.4" cy="1432.8" r="2.35"/>
<circle class="r" cx="1069.4" cy="1430.0" r="2.35"/>
<circle class="r" cx="1051.9" cy="1441.0" r="2.35"/>
<circle class="r" cx="1069.4" cy="1443.1" r="2.35"/>
<circle class="b" cx="1086.5" cy="1439.0" r="2.35"/>
<circle class="b" cx="1097.9" cy="1442.2" r="2.35"/>
<circle class="b" cx="1103.8" cy="1447.9" r="2.35"/>
<circle class="b" cx="1092.2" cy="1449.0" r="2.35"/>
<circle class="r" cx="1086.5" cy="1451.9" r="2.35"/>
<circle class="r" cx="1092.2" cy="1454.0" r="2.35"/>
<circle class="b" cx="1069.4" cy="1449.0" r="2.35"/>
<circle class="b" cx="1057.5" cy="1450.0" r="2.35"/>
<circle class="b" cx="1046.2" cy="1447.2" r="2.35"/>
<circle class="r" cx="1034.6" cy="1448.4" r="2.35"/>
<circle class="b" cx="1040.4" cy="1451.9" r="2.35"/>
<circle class="r" cx="1046.0" cy="1456.9" r="2.35"/>
<circle class="b" cx="1051.9" cy="1456.2" r="2.35"/>
<circle class="r" cx="1057.5" cy="1458.4" r="2.35"/>
<circle class="r" cx="1057.5" cy="1461.2" r="2.35"/>
<circle class="b" cx="1063.4" cy="1461.0" r="2.35"/>
<circle class="b" cx="1057.5" cy="1465.2" r="2.35"/>
<circle class="r" cx="1069.4" cy="1460.0" r="2.35"/>
<circle class="b" cx="1069.4" cy="1464.4" r="2.35"/>
<circle class="r" cx="1080.6" cy="1468.8" r="2.35"/>
<circle class="r" cx="1092.2" cy="1469.6" r="2.35"/>
<circle class="b" cx="1092.2" cy="1465.0" r="2.35"/>
<circle class="b" cx="1034.6" cy="1462.5" r="2.35"/>
<circle class="r" cx="1040.4" cy="1471.2" r="2.35"/>
<circle class="b" cx="1034.6" cy="1472.1" r="2.35"/>
<circle class="r" cx="1034.6" cy="1472.1" r="2.35"/>
<circle class="b" cx="1046.2" cy="1476.5" r="2.35"/>
<circle class="r" cx="1046.2" cy="1476.5" r="2.35"/>
<circle class="r" cx="1051.9" cy="1474.6" r="2.35"/>
<circle class="b" cx="1057.5" cy="1476.0" r="2.35"/>
<circle class="b" cx="1063.4" cy="1471.0" r="2.35"/>
<circle class="b" cx="1063.4" cy="1473.1" r="2.35"/>
<circle class="r" cx="1063.4" cy="1472.1" r="2.35"/>
<circle class="r" cx="1040.4" cy="1480.4" r="2.35"/>
<circle class="b" cx="1051.9" cy="1481.5" r="2.35"/>
<circle class="r" cx="1057.5" cy="1482.1" r="2.35"/>
<circle class="r" cx="1034.6" cy="1483.8" r="2.35"/>
<circle class="b" cx="1034.6" cy="1484.0" r="2.35"/>
<circle class="r" cx="1040.4" cy="1487.2" r="2.35"/>
<circle class="b" cx="1051.9" cy="1486.2" r="2.35"/>
<circle class="b" cx="1057.5" cy="1487.2" r="2.35"/>
<circle class="b" cx="1046.2" cy="1489.0" r="2.35"/>
<circle class="b" cx="1040.4" cy="1494.6" r="2.35"/>
<circle class="b" cx="1057.5" cy="1492.5" r="2.35"/>
<circle class="r" cx="1057.5" cy="1495.2" r="2.35"/>
<circle class="b" cx="1051.9" cy="1497.5" r="2.35"/>
<circle class="b" cx="1051.9" cy="1502.5" r="2.35"/>
<circle class="b" cx="1046.0" cy="1511.0" r="2.35"/>
<circle class="r" cx="1046.0" cy="1511.0" r="2.35"/>
<circle class="b" cx="1051.9" cy="1513.5" r="2.35"/>
<circle class="r" cx="1144.1" cy="1259.6" r="2.35"/>
<circle class="b" cx="1144.1" cy="1262.9" r="2.35"/>
<circle class="b" cx="1150.0" cy="1286.6" r="2.35"/>
<circle class="b" cx="1166.6" cy="1293.9" r="2.35"/>
<circle class="r" cx="1132.5" cy="1311.9" r="2.35"/>
<circle class="b" cx="1115.2" cy="1326.4" r="2.35"/>
<circle class="r" cx="1126.8" cy="1327.8" r="2.35"/>
<circle class="r" cx="1189.8" cy="1335.1" r="2.35"/>
<circle class="b" cx="1120.9" cy="1341.4" r="2.35"/>
<circle class="b" cx="1126.8" cy="1342.4" r="2.35"/>
<circle class="b" cx="1126.8" cy="1360.8" r="2.35"/>
<circle class="r" cx="1109.3" cy="1368.8" r="2.35"/>
<circle class="b" cx="1120.9" cy="1372.8" r="2.35"/>
<circle class="b" cx="1080.5" cy="1378.7" r="2.35"/>
<circle class="b" cx="1080.5" cy="1379.0" r="2.35"/>
<circle class="r" cx="1097.9" cy="1379.7" r="2.35"/>
<circle class="r" cx="1103.7" cy="1387.1" r="2.35"/>
<circle class="r" cx="1121.1" cy="1387.5" r="2.35"/>
<circle class="r" cx="1063.5" cy="1390.2" r="2.35"/>
<circle class="r" cx="1069.1" cy="1396.5" r="2.35"/>
<text x="161.25" y="1657.50" font-size="28" text-anchor="start" fill="#000" font-family="'Liberation Serif', serif" font-weight="normal">SHAP Dependency Plots: Feature Effects on Model Predictions for Individual Patients</text>
<text x="1.30" y="1681.40" font-size="20.5" text-anchor="start" fill="#000" font-family="'Liberation Sans', sans-serif" font-weight="bold" stroke="#000" stroke-width="0.7">C</text>
<line x1="34.40" y1="1750.20" x2="561.25" y2="1750.20" stroke="#f3f3f3" stroke-width="1" />
<line x1="34.40" y1="1879.40" x2="561.25" y2="1879.40" stroke="#f3f3f3" stroke-width="1" />
<line x1="34.40" y1="2008.60" x2="561.25" y2="2008.60" stroke="#f3f3f3" stroke-width="1" />
<line x1="148.05" y1="1684.00" x2="148.05" y2="2032.00" stroke="#f3f3f3" stroke-width="1" />
<line x1="325.35" y1="1684.00" x2="325.35" y2="2032.00" stroke="#f3f3f3" stroke-width="1" />
<line x1="502.65" y1="1684.00" x2="502.65" y2="2032.00" stroke="#f3f3f3" stroke-width="1" />
<line x1="34.40" y1="1685.60" x2="561.25" y2="1685.60" stroke="#eeeeee" stroke-width="1" />
<line x1="34.40" y1="1814.80" x2="561.25" y2="1814.80" stroke="#eeeeee" stroke-width="1" />
<line x1="34.40" y1="1944.00" x2="561.25" y2="1944.00" stroke="#eeeeee" stroke-width="1" />
<line x1="59.40" y1="1684.00" x2="59.40" y2="2032.00" stroke="#eeeeee" stroke-width="1" />
<line x1="236.70" y1="1684.00" x2="236.70" y2="2032.00" stroke="#eeeeee" stroke-width="1" />
<line x1="414.00" y1="1684.00" x2="414.00" y2="2032.00" stroke="#eeeeee" stroke-width="1" />
<line x1="34.40" y1="1815.20" x2="561.25" y2="1815.20" stroke="#ea8499" stroke-width="1.75" stroke-dasharray="2.2 1.9"/>
<text x="36.00" y="1679.00" font-size="9.15" text-anchor="start" fill="#1a1a1a" font-family="'Liberation Sans', sans-serif" font-weight="normal" stroke="#1a1a1a" stroke-width="0.12">SHAP Dependence Plot for PCT</text>
<text x="31.90" y="1688.61" font-size="6.32" text-anchor="end" fill="#505050" font-family="'Liberation Sans', sans-serif" font-weight="normal">0.05</text>
<text x="31.90" y="1817.81" font-size="6.32" text-anchor="end" fill="#505050" font-family="'Liberation Sans', sans-serif" font-weight="normal">0.00</text>
<text x="31.90" y="1947.01" font-size="6.32" text-anchor="end" fill="#505050" font-family="'Liberation Sans', sans-serif" font-weight="normal">-0.05</text>
<text x="59.40" y="2041.25" font-size="6.32" text-anchor="middle" fill="#505050" font-family="'Liberation Sans', sans-serif" font-weight="normal">0</text>
<text x="236.70" y="2041.25" font-size="6.32" text-anchor="middle" fill="#505050" font-family="'Liberation Sans', sans-serif" font-weight="normal">20</text>
<text x="414.00" y="2041.25" font-size="6.32" text-anchor="middle" fill="#505050" font-family="'Liberation Sans', sans-serif" font-weight="normal">40</text>
<text x="298.00" y="2049.50" font-size="7.57" text-anchor="middle" fill="#222" font-family="'Liberation Sans', sans-serif" font-weight="normal">PCT (ng/mL)</text>
<text x="13.50" y="1858.00" font-size="7.57" text-anchor="middle" fill="#222" font-family="'Liberation Sans', sans-serif" font-weight="normal" transform="rotate(-90 13.5 1858)">SHAP Value</text>
<text x="572.80" y="1847.70" font-size="7.42" text-anchor="start" fill="#222" font-family="'Liberation Sans', sans-serif" font-weight="normal">Diarrhea Status</text>
<circle class="b" cx="578.32" cy="1857.63" r="2.35"/>
<circle class="r" cx="578.32" cy="1869.17" r="2.35"/>
<text x="587.55" y="1860.24" font-size="6.42" text-anchor="start" fill="#222" font-family="'Liberation Sans', sans-serif" font-weight="normal">No Diarrhea</text>
<text x="587.55" y="1871.88" font-size="6.42" text-anchor="start" fill="#222" font-family="'Liberation Sans', sans-serif" font-weight="normal">Diarrhea</text>
<circle class="b" cx="59.8" cy="1700.0" r="2.35"/>
<circle class="b" cx="59.8" cy="1709.4" r="2.35"/>
<circle class="b" cx="72.5" cy="1709.0" r="2.35"/>
<circle class="r" cx="95.0" cy="1709.0" r="2.35"/>
<circle class="b" cx="60.2" cy="1716.0" r="2.35"/>
<circle class="b" cx="77.8" cy="1719.0" r="2.35"/>
<circle class="b" cx="59.8" cy="1724.8" r="2.35"/>
<circle class="b" cx="74.6" cy="1724.4" r="2.35"/>
<circle class="r" cx="94.0" cy="1731.9" r="2.35"/>
<circle class="b" cx="60.2" cy="1733.5" r="2.35"/>
<circle class="b" cx="60.2" cy="1739.4" r="2.35"/>
<circle class="r" cx="65.0" cy="1741.2" r="2.35"/>
<circle class="b" cx="66.2" cy="1741.0" r="2.35"/>
<circle class="r" cx="73.5" cy="1739.8" r="2.35"/>
<circle class="b" cx="79.6" cy="1739.8" r="2.35"/>
<circle class="b" cx="81.9" cy="1741.0" r="2.35"/>
<circle class="r" cx="82.8" cy="1743.4" r="2.35"/>
<circle class="r" cx="64.8" cy="1745.2" r="2.35"/>
<circle class="r" cx="71.9" cy="1745.9" r="2.35"/>
<circle class="b" cx="67.8" cy="1747.9" r="2.35"/>
<circle class="b" cx="59.8" cy="1746.2" r="2.35"/>
<circle class="b" cx="59.8" cy="1748.1" r="2.35"/>
<circle class="r" cx="59.4" cy="1750.0" r="2.35"/>
<circle class="r" cx="78.5" cy="1751.9" r="2.35"/>
<circle class="b" cx="70.6" cy="1752.9" r="2.35"/>
<circle class="b" cx="59.5" cy="1740.8" r="2.35"/>
<circle class="b" cx="59.5" cy="1743.5" r="2.35"/>
<circle class="b" cx="59.5" cy="1754.8" r="2.35"/>
<circle class="b" cx="59.5" cy="1757.6" r="2.35"/>
<circle class="b" cx="59.5" cy="1760.3" r="2.35"/>
<circle class="b" cx="59.5" cy="1761.1" r="2.35"/>
<circle class="b" cx="59.5" cy="1763.4" r="2.35"/>
<circle class="b" cx="59.5" cy="1765.8" r="2.35"/>
<circle class="b" cx="59.5" cy="1767.0" r="2.35"/>
<circle class="b" cx="59.5" cy="1771.2" r="2.35"/>
<circle class="b" cx="59.5" cy="1773.6" r="2.35"/>
<circle class="b" cx="59.5" cy="1774.8" r="2.35"/>
<circle class="b" cx="59.5" cy="1777.5" r="2.35"/>
<circle class="r" cx="59.5" cy="1780.6" r="2.35"/>
<circle class="b" cx="59.5" cy="1781.4" r="2.35"/>
<circle class="b" cx="59.5" cy="1782.6" r="2.35"/>
<circle class="b" cx="59.5" cy="1785.3" r="2.35"/>
<circle class="b" cx="59.5" cy="1787.7" r="2.35"/>
<circle class="b" cx="59.5" cy="1788.8" r="2.35"/>
<circle class="b" cx="59.5" cy="1791.6" r="2.35"/>
<circle class="b" cx="59.5" cy="1793.9" r="2.35"/>
<circle class="b" cx="59.5" cy="1794.7" r="2.35"/>
<circle class="b" cx="59.5" cy="1797.8" r="2.35"/>
<circle class="r" cx="59.5" cy="1800.2" r="2.35"/>
<circle class="b" cx="59.5" cy="1802.5" r="2.35"/>
<circle class="b" cx="59.5" cy="1804.8" r="2.35"/>
<circle class="b" cx="59.5" cy="1808.0" r="2.35"/>
<circle class="r" cx="59.5" cy="1811.1" r="2.35"/>
<circle class="r" cx="59.5" cy="1813.4" r="2.35"/>
<circle class="b" cx="59.5" cy="1814.2" r="2.35"/>
<circle class="r" cx="59.5" cy="1815.8" r="2.35"/>
<circle class="b" cx="59.5" cy="1818.1" r="2.35"/>
<circle class="b" cx="64.2" cy="1758.0" r="2.35"/>
<circle class="b" cx="64.6" cy="1764.2" r="2.35"/>
<circle class="b" cx="65.0" cy="1768.1" r="2.35"/>
<circle class="r" cx="64.2" cy="1772.8" r="2.35"/>
<circle class="b" cx="63.4" cy="1772.8" r="2.35"/>
<circle class="b" cx="63.4" cy="1778.3" r="2.35"/>
<circle class="b" cx="65.0" cy="1783.8" r="2.35"/>
<circle class="r" cx="63.4" cy="1785.7" r="2.35"/>
<circle class="b" cx="63.4" cy="1790.0" r="2.35"/>
<circle class="b" cx="63.4" cy="1803.3" r="2.35"/>
<circle class="b" cx="65.0" cy="1805.6" r="2.35"/>
<circle class="b" cx="65.0" cy="1810.3" r="2.35"/>
<circle class="r" cx="65.0" cy="1813.4" r="2.35"/>
<circle class="b" cx="65.0" cy="1815.0" r="2.35"/>
<circle class="b" cx="65.0" cy="1817.3" r="2.35"/>
<circle class="b" cx="68.5" cy="1756.4" r="2.35"/>
<circle class="r" cx="74.0" cy="1758.0" r="2.35"/>
<circle class="b" cx="72.4" cy="1765.8" r="2.35"/>
<circle class="r" cx="69.7" cy="1770.5" r="2.35"/>
<circle class="r" cx="68.9" cy="1774.4" r="2.35"/>
<circle class="b" cx="73.2" cy="1776.7" r="2.35"/>
<circle class="r" cx="68.9" cy="1780.6" r="2.35"/>
<circle class="b" cx="68.1" cy="1781.4" r="2.35"/>
<circle class="b" cx="74.0" cy="1787.7" r="2.35"/>
<circle class="b" cx="69.3" cy="1790.0" r="2.35"/>
<circle class="b" cx="68.1" cy="1792.3" r="2.35"/>
<circle class="b" cx="70.5" cy="1794.7" r="2.35"/>
<circle class="r" cx="73.6" cy="1795.5" r="2.35"/>
<circle class="b" cx="70.9" cy="1797.0" r="2.35"/>
<circle class="b" cx="66.6" cy="1800.2" r="2.35"/>
<circle class="b" cx="72.0" cy="1802.5" r="2.35"/>
<circle class="b" cx="74.8" cy="1804.8" r="2.35"/>
<circle class="b" cx="67.3" cy="1812.7" r="2.35"/>
<circle class="b" cx="69.7" cy="1817.3" r="2.35"/>
<circle class="b" cx="84.7" cy="1759.1" r="2.35"/>
<circle class="b" cx="77.3" cy="1765.8" r="2.35"/>
<circle class="b" cx="77.9" cy="1770.9" r="2.35"/>
<circle class="b" cx="84.4" cy="1771.6" r="2.35"/>
<circle class="b" cx="85.3" cy="1776.7" r="2.35"/>
<circle class="b" cx="78.3" cy="1780.6" r="2.35"/>
<circle class="b" cx="88.4" cy="1798.2" r="2.35"/>
<circle class="b" cx="92.0" cy="1799.0" r="2.35"/>
<circle class="b" cx="83.4" cy="1812.7" r="2.35"/>
<circle class="r" cx="110.7" cy="1768.9" r="2.35"/>
<circle class="r" cx="112.5" cy="1780.0" r="2.35"/>
<circle class="r" cx="108.6" cy="1800.8" r="2.35"/>
<circle class="b" cx="105.6" cy="1803.1" r="2.35"/>
<circle class="b" cx="101.7" cy="1807.0" r="2.35"/>
<circle class="b" cx="100.0" cy="1809.4" r="2.35"/>
<circle class="b" cx="96.6" cy="1813.8" r="2.35"/>
<circle class="r" cx="93.0" cy="1818.5" r="2.35"/>
<circle class="r" cx="59.1" cy="1819.4" r="2.35"/>
<circle class="b" cx="61.9" cy="1821.7" r="2.35"/>
<circle class="b" cx="67.3" cy="1821.3" r="2.35"/>
<circle class="r" cx="67.0" cy="1824.8" r="2.35"/>
<circle class="b" cx="59.5" cy="1826.4" r="2.35"/>
<circle class="b" cx="62.7" cy="1827.2" r="2.35"/>
<circle class="b" cx="60.3" cy="1828.8" r="2.35"/>
<circle class="b" cx="63.4" cy="1829.5" r="2.35"/>
<circle class="b" cx="70.5" cy="1830.7" r="2.35"/>
<circle class="r" cx="60.7" cy="1831.1" r="2.35"/>
<circle class="b" cx="67.3" cy="1831.9" r="2.35"/>
<circle class="r" cx="67.3" cy="1835.0" r="2.35"/>
<circle class="b" cx="60.7" cy="1835.8" r="2.35"/>
<circle class="b" cx="61.1" cy="1838.1" r="2.35"/>
<circle class="b" cx="63.4" cy="1839.7" r="2.35"/>
<circle class="b" cx="62.3" cy="1841.6" r="2.35"/>
<circle class="b" cx="70.5" cy="1839.5" r="2.35"/>
<circle class="b" cx="77.1" cy="1821.6" r="2.35"/>
<circle class="b" cx="121.2" cy="1825.6" r="2.35"/>
<circle class="b" cx="100.2" cy="1830.3" r="2.35"/>
<circle class="b" cx="92.5" cy="1833.3" r="2.35"/>
<circle class="b" cx="63.4" cy="1817.4" r="2.35"/>
<circle class="r" cx="60.9" cy="1848.1" r="2.35"/>
<circle class="b" cx="61.1" cy="1848.3" r="2.35"/>
<circle class="b" cx="61.1" cy="1853.0" r="2.35"/>
<circle class="b" cx="61.1" cy="1856.9" r="2.35"/>
<circle class="r" cx="61.1" cy="1861.2" r="2.35"/>
<circle class="r" cx="61.9" cy="1868.6" r="2.35"/>
<circle class="r" cx="61.1" cy="1874.1" r="2.35"/>
<circle class="r" cx="60.7" cy="1878.8" r="2.35"/>
<circle class="b" cx="99.5" cy="1849.2" r="2.35"/>
<circle class="b" cx="106.2" cy="1847.7" r="2.35"/>
<circle class="b" cx="134.4" cy="1846.6" r="2.35"/>
<circle class="b" cx="138.6" cy="1878.8" r="2.35"/>
<circle class="r" cx="60.6" cy="1891.9" r="2.35"/>
<circle class="r" cx="63.1" cy="1891.9" r="2.35"/>
<circle class="r" cx="61.0" cy="1915.6" r="2.35"/>
<circle class="r" cx="61.0" cy="1918.1" r="2.35"/>
<circle class="b" cx="61.2" cy="1946.2" r="2.35"/>
<circle class="b" cx="140.6" cy="1945.6" r="2.35"/>
<circle class="r" cx="152.2" cy="1897.8" r="2.35"/>
<circle class="b" cx="151.9" cy="1905.0" r="2.35"/>
<circle class="b" cx="158.5" cy="1926.5" r="2.35"/>
<circle class="b" cx="165.6" cy="1866.5" r="2.35"/>
<circle class="b" cx="164.6" cy="1878.5" r="2.35"/>
<circle class="b" cx="188.8" cy="1954.0" r="2.35"/>
<circle class="b" cx="199.0" cy="1869.8" r="2.35"/>
<circle class="b" cx="199.0" cy="1887.5" r="2.35"/>
<circle class="b" cx="205.0" cy="1805.2" r="2.35"/>
<circle class="b" cx="210.1" cy="1869.6" r="2.35"/>
<circle class="r" cx="212.1" cy="1880.4" r="2.35"/>
<circle class="b" cx="216.8" cy="1896.2" r="2.35"/>
<circle class="r" cx="204.0" cy="1907.2" r="2.35"/>
<circle class="r" cx="231.4" cy="1866.6" r="2.35"/>
<circle class="r" cx="246.0" cy="1874.3" r="2.35"/>
<circle class="b" cx="228.0" cy="1923.5" r="2.35"/>
<circle class="r" cx="242.6" cy="1944.0" r="2.35"/>
<circle class="r" cx="273.3" cy="1842.2" r="2.35"/>
<circle class="b" cx="288.3" cy="1889.5" r="2.35"/>
<circle class="r" cx="261.5" cy="1925.5" r="2.35"/>
<circle class="r" cx="271.2" cy="1970.0" r="2.35"/>
<circle class="r" cx="307.0" cy="1921.0" r="2.35"/>
<circle class="b" cx="318.3" cy="1944.4" r="2.35"/>
<circle class="b" cx="371.2" cy="1878.0" r="2.35"/>
<circle class="r" cx="397.6" cy="1848.9" r="2.35"/>
<circle class="r" cx="396.6" cy="1968.1" r="2.35"/>
<circle class="b" cx="511.2" cy="1841.1" r="2.35"/>
<circle class="r" cx="511.2" cy="1891.7" r="2.35"/>
<circle class="b" cx="537.3" cy="1907.5" r="2.35"/>
<circle class="b" cx="501.9" cy="1956.2" r="2.35"/>
<circle class="b" cx="471.1" cy="1970.6" r="2.35"/>
<circle class="r" cx="406.1" cy="1995.3" r="2.35"/>
<circle class="b" cx="445.2" cy="2016.7" r="2.35"/>
<line x1="695.50" y1="1721.17" x2="1208.50" y2="1721.17" stroke="#f3f3f3" stroke-width="1" />
<line x1="695.50" y1="1788.83" x2="1208.50" y2="1788.83" stroke="#f3f3f3" stroke-width="1" />
<line x1="695.50" y1="1856.47" x2="1208.50" y2="1856.47" stroke="#f3f3f3" stroke-width="1" />
<line x1="695.50" y1="1924.12" x2="1208.50" y2="1924.12" stroke="#f3f3f3" stroke-width="1" />
<line x1="695.50" y1="1991.77" x2="1208.50" y2="1991.77" stroke="#f3f3f3" stroke-width="1" />
<line x1="765.65" y1="1687.30" x2="765.65" y2="2029.00" stroke="#f3f3f3" stroke-width="1" />
<line x1="859.15" y1="1687.30" x2="859.15" y2="2029.00" stroke="#f3f3f3" stroke-width="1" />
<line x1="952.65" y1="1687.30" x2="952.65" y2="2029.00" stroke="#f3f3f3" stroke-width="1" />
<line x1="1046.15" y1="1687.30" x2="1046.15" y2="2029.00" stroke="#f3f3f3" stroke-width="1" />
<line x1="1139.65" y1="1687.30" x2="1139.65" y2="2029.00" stroke="#f3f3f3" stroke-width="1" />
<line x1="695.50" y1="1755.00" x2="1208.50" y2="1755.00" stroke="#eeeeee" stroke-width="1" />
<line x1="695.50" y1="1822.65" x2="1208.50" y2="1822.65" stroke="#eeeeee" stroke-width="1" />
<line x1="695.50" y1="1890.30" x2="1208.50" y2="1890.30" stroke="#eeeeee" stroke-width="1" />
<line x1="695.50" y1="1957.95" x2="1208.50" y2="1957.95" stroke="#eeeeee" stroke-width="1" />
<line x1="695.50" y1="2025.60" x2="1208.50" y2="2025.60" stroke="#eeeeee" stroke-width="1" />
<line x1="718.90" y1="1687.30" x2="718.90" y2="2029.00" stroke="#eeeeee" stroke-width="1" />
<line x1="812.40" y1="1687.30" x2="812.40" y2="2029.00" stroke="#eeeeee" stroke-width="1" />
<line x1="905.90" y1="1687.30" x2="905.90" y2="2029.00" stroke="#eeeeee" stroke-width="1" />
<line x1="999.40" y1="1687.30" x2="999.40" y2="2029.00" stroke="#eeeeee" stroke-width="1" />
<line x1="1092.90" y1="1687.30" x2="1092.90" y2="2029.00" stroke="#eeeeee" stroke-width="1" />
<line x1="1186.40" y1="1687.30" x2="1186.40" y2="2029.00" stroke="#eeeeee" stroke-width="1" />
<line x1="695.50" y1="1890.70" x2="1208.50" y2="1890.70" stroke="#ea8499" stroke-width="1.75" stroke-dasharray="2.2 1.9"/>
<text x="696.00" y="1682.30" font-size="9.01" text-anchor="start" fill="#1a1a1a" font-family="'Liberation Sans', sans-serif" font-weight="normal" stroke="#1a1a1a" stroke-width="0.12">SHAP Dependence Plot for Rate</text>
<text x="691.90" y="1757.96" font-size="6.22" text-anchor="end" fill="#505050" font-family="'Liberation Sans', sans-serif" font-weight="normal">0.050</text>
<text x="691.90" y="1825.61" font-size="6.22" text-anchor="end" fill="#505050" font-family="'Liberation Sans', sans-serif" font-weight="normal">0.025</text>
<text x="691.90" y="1893.26" font-size="6.22" text-anchor="end" fill="#505050" font-family="'Liberation Sans', sans-serif" font-weight="normal">0.000</text>
<text x="691.90" y="1960.91" font-size="6.22" text-anchor="end" fill="#505050" font-family="'Liberation Sans', sans-serif" font-weight="normal">-0.025</text>
<text x="691.90" y="2028.56" font-size="6.22" text-anchor="end" fill="#505050" font-family="'Liberation Sans', sans-serif" font-weight="normal">-0.050</text>
<text x="718.90" y="2038.90" font-size="6.22" text-anchor="middle" fill="#505050" font-family="'Liberation Sans', sans-serif" font-weight="normal">20</text>
<text x="812.40" y="2038.90" font-size="6.22" text-anchor="middle" fill="#505050" font-family="'Liberation Sans', sans-serif" font-weight="normal">30</text>
<text x="905.90" y="2038.90" font-size="6.22" text-anchor="middle" fill="#505050" font-family="'Liberation Sans', sans-serif" font-weight="normal">40</text>
<text x="999.40" y="2038.90" font-size="6.22" text-anchor="middle" fill="#505050" font-family="'Liberation Sans', sans-serif" font-weight="normal">50</text>
<text x="1092.90" y="2038.90" font-size="6.22" text-anchor="middle" fill="#505050" font-family="'Liberation Sans', sans-serif" font-weight="normal">60</text>
<text x="1186.40" y="2038.90" font-size="6.22" text-anchor="middle" fill="#505050" font-family="'Liberation Sans', sans-serif" font-weight="normal">70</text>
<text x="952.30" y="2047.50" font-size="7.46" text-anchor="middle" fill="#222" font-family="'Liberation Sans', sans-serif" font-weight="normal">Rate(ml/h)</text>
<text x="672.50" y="1858.00" font-size="7.46" text-anchor="middle" fill="#222" font-family="'Liberation Sans', sans-serif" font-weight="normal" transform="rotate(-90 672.5 1858)">SHAP Value</text>
<text x="1220.20" y="1848.50" font-size="7.31" text-anchor="start" fill="#222" font-family="'Liberation Sans', sans-serif" font-weight="normal">Diarrhea Status</text>
<circle class="b" cx="1225.63" cy="1858.28" r="2.35"/>
<circle class="r" cx="1225.63" cy="1869.64" r="2.35"/>
<text x="1234.72" y="1860.85" font-size="6.32" text-anchor="start" fill="#222" font-family="'Liberation Sans', sans-serif" font-weight="normal">No Diarrhea</text>
<text x="1234.72" y="1872.31" font-size="6.32" text-anchor="start" fill="#222" font-family="'Liberation Sans', sans-serif" font-weight="normal">Diarrhea</text>
<circle class="r" cx="905.9" cy="1888.2" r="2.35"/>
<circle class="b" cx="905.9" cy="1892.7" r="2.35"/>
<circle class="b" cx="905.9" cy="1896.9" r="2.35"/>
<circle class="r" cx="905.9" cy="1896.9" r="2.35"/>
<circle class="b" cx="905.9" cy="1897.8" r="2.35"/>
<circle class="b" cx="905.9" cy="1902.0" r="2.35"/>
<circle class="b" cx="905.9" cy="1904.8" r="2.35"/>
<circle class="b" cx="905.9" cy="1906.2" r="2.35"/>
<circle class="b" cx="905.9" cy="1908.1" r="2.35"/>
<circle class="b" cx="905.9" cy="1910.0" r="2.35"/>
<circle class="b" cx="905.9" cy="1911.9" r="2.35"/>
<circle class="b" cx="905.9" cy="1915.6" r="2.35"/>
<circle class="b" cx="905.9" cy="1917.5" r="2.35"/>
<circle class="b" cx="905.9" cy="1919.4" r="2.35"/>
<circle class="b" cx="905.9" cy="1921.2" r="2.35"/>
<circle class="b" cx="905.9" cy="1923.1" r="2.35"/>
<circle class="b" cx="905.9" cy="1925.0" r="2.35"/>
<circle class="r" cx="905.9" cy="1926.9" r="2.35"/>
<circle class="b" cx="905.9" cy="1928.7" r="2.35"/>
<circle class="b" cx="905.9" cy="1934.4" r="2.35"/>
<circle class="b" cx="905.9" cy="1939.5" r="2.35"/>
<circle class="b" cx="905.9" cy="1941.4" r="2.35"/>
<circle class="b" cx="905.9" cy="1947.5" r="2.35"/>
<circle class="r" cx="905.9" cy="1947.5" r="2.35"/>
<circle class="r" cx="905.9" cy="1954.5" r="2.35"/>
<circle class="r" cx="905.9" cy="1963.9" r="2.35"/>
<circle class="r" cx="905.9" cy="1968.6" r="2.35"/>
<circle class="b" cx="905.9" cy="1972.3" r="2.35"/>
<circle class="b" cx="905.9" cy="1980.1" r="2.35"/>
<circle class="r" cx="905.9" cy="1986.2" r="2.35"/>
<circle class="r" cx="905.9" cy="2004.2" r="2.35"/>
<circle class="b" cx="905.9" cy="2011.2" r="2.35"/>
<circle class="b" cx="952.7" cy="1905.3" r="2.35"/>
<circle class="b" cx="952.7" cy="1910.5" r="2.35"/>
<circle class="b" cx="952.7" cy="1912.3" r="2.35"/>
<circle class="b" cx="952.7" cy="1913.7" r="2.35"/>
<circle class="b" cx="952.7" cy="1924.5" r="2.35"/>
<circle class="b" cx="952.7" cy="1926.4" r="2.35"/>
<circle class="b" cx="952.7" cy="1927.8" r="2.35"/>
<circle class="b" cx="952.7" cy="1929.7" r="2.35"/>
<circle class="b" cx="952.7" cy="1932.5" r="2.35"/>
<circle class="r" cx="952.7" cy="1932.5" r="2.35"/>
<circle class="b" cx="952.7" cy="1937.2" r="2.35"/>
<circle class="b" cx="952.7" cy="1942.3" r="2.35"/>
<circle class="b" cx="952.7" cy="1945.6" r="2.35"/>
<circle class="r" cx="952.7" cy="1945.6" r="2.35"/>
<circle class="b" cx="952.7" cy="1947.5" r="2.35"/>
<circle class="b" cx="952.7" cy="1949.4" r="2.35"/>
<circle class="r" cx="952.7" cy="1952.2" r="2.35"/>
<circle class="b" cx="952.7" cy="1955.0" r="2.35"/>
<circle class="r" cx="952.7" cy="1957.8" r="2.35"/>
<circle class="b" cx="952.7" cy="1962.5" r="2.35"/>
<circle class="r" cx="952.7" cy="1965.3" r="2.35"/>
<circle class="b" cx="952.7" cy="1967.7" r="2.35"/>
<circle class="r" cx="952.7" cy="1970.0" r="2.35"/>
<circle class="r" cx="952.7" cy="1971.9" r="2.35"/>
<circle class="b" cx="952.7" cy="1981.7" r="2.35"/>
<circle class="b" cx="952.7" cy="1990.6" r="2.35"/>
<circle class="r" cx="999.2" cy="1831.1" r="2.35"/>
<circle class="b" cx="999.2" cy="1831.1" r="2.35"/>
<circle class="b" cx="999.2" cy="1852.2" r="2.35"/>
<circle class="r" cx="999.2" cy="1854.1" r="2.35"/>
<circle class="b" cx="999.2" cy="1858.7" r="2.35"/>
<circle class="b" cx="999.2" cy="1861.6" r="2.35"/>
<circle class="b" cx="999.2" cy="1863.4" r="2.35"/>
<circle class="r" cx="999.2" cy="1868.1" r="2.35"/>
<circle class="b" cx="999.2" cy="1870.0" r="2.35"/>
<circle class="b" cx="999.2" cy="1872.3" r="2.35"/>
<circle class="r" cx="999.2" cy="1878.0" r="2.35"/>
<circle class="b" cx="999.2" cy="1881.2" r="2.35"/>
<circle class="b" cx="999.2" cy="1883.1" r="2.35"/>
<circle class="r" cx="999.2" cy="1884.5" r="2.35"/>
<circle class="b" cx="999.2" cy="1886.9" r="2.35"/>
<circle class="b" cx="999.2" cy="1888.7" r="2.35"/>
<circle class="r" cx="999.2" cy="1892.0" r="2.35"/>
<circle class="b" cx="999.2" cy="1894.4" r="2.35"/>
<circle class="b" cx="999.2" cy="1896.2" r="2.35"/>
<circle class="b" cx="999.2" cy="1898.1" r="2.35"/>
<circle class="b" cx="999.2" cy="1900.0" r="2.35"/>
<circle class="b" cx="999.2" cy="1901.9" r="2.35"/>
<circle class="r" cx="999.2" cy="1907.0" r="2.35"/>
<circle class="b" cx="999.2" cy="1911.2" r="2.35"/>
<circle class="b" cx="999.2" cy="1915.0" r="2.35"/>
<circle class="r" cx="999.2" cy="1917.8" r="2.35"/>
<circle class="b" cx="999.2" cy="1928.1" r="2.35"/>
<circle class="r" cx="1045.9" cy="1790.8" r="2.35"/>
<circle class="b" cx="1045.9" cy="1793.1" r="2.35"/>
<circle class="b" cx="1045.9" cy="1795.0" r="2.35"/>
<circle class="b" cx="1045.9" cy="1804.8" r="2.35"/>
<circle class="r" cx="1045.9" cy="1810.5" r="2.35"/>
<circle class="b" cx="1045.9" cy="1813.7" r="2.35"/>
<circle class="b" cx="1045.9" cy="1821.2" r="2.35"/>
<circle class="r" cx="1045.9" cy="1825.0" r="2.35"/>
<circle class="r" cx="1045.9" cy="1826.4" r="2.35"/>
<circle class="b" cx="1045.9" cy="1828.7" r="2.35"/>
<circle class="b" cx="1045.9" cy="1833.0" r="2.35"/>
<circle class="b" cx="1045.9" cy="1840.0" r="2.35"/>
<circle class="r" cx="1045.9" cy="1842.3" r="2.35"/>
<circle class="b" cx="1045.9" cy="1844.7" r="2.35"/>
<circle class="b" cx="1045.9" cy="1848.0" r="2.35"/>
<circle class="r" cx="1045.9" cy="1851.2" r="2.35"/>
<circle class="b" cx="1045.9" cy="1854.1" r="2.35"/>
<circle class="b" cx="1045.9" cy="1855.9" r="2.35"/>
<circle class="b" cx="1045.9" cy="1857.8" r="2.35"/>
<circle class="b" cx="1045.9" cy="1860.6" r="2.35"/>
<circle class="r" cx="1045.9" cy="1864.8" r="2.35"/>
<circle class="b" cx="1045.9" cy="1867.2" r="2.35"/>
<circle class="b" cx="1045.9" cy="1870.5" r="2.35"/>
<circle class="b" cx="1045.9" cy="1873.7" r="2.35"/>
<circle class="b" cx="1045.9" cy="1876.6" r="2.35"/>
<circle class="b" cx="1045.9" cy="1885.0" r="2.35"/>
<circle class="b" cx="1045.9" cy="1889.2" r="2.35"/>
<circle class="b" cx="1045.9" cy="1890.2" r="2.35"/>
<circle class="r" cx="1092.4" cy="1778.4" r="2.35"/>
<circle class="b" cx="1092.4" cy="1793.7" r="2.35"/>
<circle class="b" cx="1092.4" cy="1805.7" r="2.35"/>
<circle class="b" cx="1092.4" cy="1809.2" r="2.35"/>
<circle class="b" cx="1092.4" cy="1814.5" r="2.35"/>
<circle class="b" cx="1092.4" cy="1829.8" r="2.35"/>
<circle class="r" cx="1092.4" cy="1833.3" r="2.35"/>
<circle class="r" cx="1092.4" cy="1837.7" r="2.35"/>
<circle class="b" cx="1092.4" cy="1842.6" r="2.35"/>
<circle class="b" cx="1092.4" cy="1844.8" r="2.35"/>
<circle class="b" cx="1092.4" cy="1846.4" r="2.35"/>
<circle class="b" cx="1092.4" cy="1856.8" r="2.35"/>
<circle class="b" cx="1092.4" cy="1870.2" r="2.35"/>
<circle class="r" cx="1092.4" cy="1883.9" r="2.35"/>
<circle class="r" cx="1092.4" cy="1897.8" r="2.35"/>
<circle class="b" cx="1139.1" cy="1703.1" r="2.35"/>
<circle class="b" cx="1139.1" cy="1788.8" r="2.35"/>
<circle class="b" cx="1139.1" cy="1805.4" r="2.35"/>
<circle class="r" cx="1139.1" cy="1805.4" r="2.35"/>
<circle class="b" cx="1139.1" cy="1813.4" r="2.35"/>
<circle class="b" cx="1139.1" cy="1829.8" r="2.35"/>
<circle class="r" cx="1139.1" cy="1834.9" r="2.35"/>
<circle class="b" cx="1139.1" cy="1837.1" r="2.35"/>
<circle class="b" cx="1139.1" cy="1841.5" r="2.35"/>
<circle class="b" cx="1139.1" cy="1843.1" r="2.35"/>
<circle class="b" cx="1139.1" cy="1866.1" r="2.35"/>
<circle class="b" cx="1139.1" cy="1870.7" r="2.35"/>
<circle class="b" cx="1139.1" cy="1879.8" r="2.35"/>
<circle class="b" cx="1139.1" cy="1888.8" r="2.35"/>
<circle class="b" cx="1186.2" cy="1805.7" r="2.35"/>
<circle class="r" cx="718.6" cy="1886.4" r="2.35"/>
<circle class="b" cx="718.6" cy="1912.2" r="2.35"/>
<circle class="b" cx="812.7" cy="1887.5" r="2.35"/>
<circle class="b" cx="812.7" cy="1897.7" r="2.35"/>
<circle class="r" cx="812.7" cy="1943.0" r="2.35"/>
<circle class="b" cx="812.7" cy="1943.0" r="2.35"/>
<circle class="b" cx="812.7" cy="2014.4" r="2.35"/>
<circle class="b" cx="859.2" cy="1867.7" r="2.35"/>
<circle class="b" cx="859.2" cy="1886.0" r="2.35"/>
<circle class="b" cx="859.2" cy="1910.2" r="2.35"/>
<line x1="33.60" y1="2127.90" x2="530.70" y2="2127.90" stroke="#f3f3f3" stroke-width="1" />
<line x1="33.60" y1="2180.30" x2="530.70" y2="2180.30" stroke="#f3f3f3" stroke-width="1" />
<line x1="33.60" y1="2232.70" x2="530.70" y2="2232.70" stroke="#f3f3f3" stroke-width="1" />
<line x1="33.60" y1="2285.10" x2="530.70" y2="2285.10" stroke="#f3f3f3" stroke-width="1" />
<line x1="33.60" y1="2337.50" x2="530.70" y2="2337.50" stroke="#f3f3f3" stroke-width="1" />
<line x1="33.60" y1="2389.90" x2="530.70" y2="2389.90" stroke="#f3f3f3" stroke-width="1" />
<line x1="33.60" y1="2101.70" x2="530.70" y2="2101.70" stroke="#eeeeee" stroke-width="1" />
<line x1="33.60" y1="2154.10" x2="530.70" y2="2154.10" stroke="#eeeeee" stroke-width="1" />
<line x1="33.60" y1="2206.50" x2="530.70" y2="2206.50" stroke="#eeeeee" stroke-width="1" />
<line x1="33.60" y1="2258.90" x2="530.70" y2="2258.90" stroke="#eeeeee" stroke-width="1" />
<line x1="33.60" y1="2311.30" x2="530.70" y2="2311.30" stroke="#eeeeee" stroke-width="1" />
<line x1="33.60" y1="2363.70" x2="530.70" y2="2363.70" stroke="#eeeeee" stroke-width="1" />
<line x1="169.70" y1="2083.40" x2="169.70" y2="2412.50" stroke="#eeeeee" stroke-width="1" />
<line x1="395.70" y1="2083.40" x2="395.70" y2="2412.50" stroke="#eeeeee" stroke-width="1" />
<line x1="33.60" y1="2259.30" x2="530.70" y2="2259.30" stroke="#ea8499" stroke-width="1.75" stroke-dasharray="2.2 1.9"/>
<text x="34.10" y="2079.80" font-size="8.65" text-anchor="start" fill="#1a1a1a" font-family="'Liberation Sans', sans-serif" font-weight="normal" stroke="#1a1a1a" stroke-width="0.12">SHAP Dependence Plot for Warmer</text>
<text x="30.00" y="2104.55" font-size="5.98" text-anchor="end" fill="#505050" font-family="'Liberation Sans', sans-serif" font-weight="normal">0.03</text>
<text x="30.00" y="2156.95" font-size="5.98" text-anchor="end" fill="#505050" font-family="'Liberation Sans', sans-serif" font-weight="normal">0.02</text>
<text x="30.00" y="2209.35" font-size="5.98" text-anchor="end" fill="#505050" font-family="'Liberation Sans', sans-serif" font-weight="normal">0.01</text>
<text x="30.00" y="2261.75" font-size="5.98" text-anchor="end" fill="#505050" font-family="'Liberation Sans', sans-serif" font-weight="normal">0.00</text>
<text x="30.00" y="2314.15" font-size="5.98" text-anchor="end" fill="#505050" font-family="'Liberation Sans', sans-serif" font-weight="normal">-0.01</text>
<text x="30.00" y="2366.55" font-size="5.98" text-anchor="end" fill="#505050" font-family="'Liberation Sans', sans-serif" font-weight="normal">-0.02</text>
<text x="169.70" y="2422.50" font-size="5.98" text-anchor="middle" fill="#505050" font-family="'Liberation Sans', sans-serif" font-weight="normal">No Warmer</text>
<text x="395.70" y="2422.50" font-size="5.98" text-anchor="middle" fill="#505050" font-family="'Liberation Sans', sans-serif" font-weight="normal">Warmer</text>
<text x="282.50" y="2431.25" font-size="7.16" text-anchor="middle" fill="#222" font-family="'Liberation Sans', sans-serif" font-weight="normal">Warmer Usage</text>
<text x="13.50" y="2248.00" font-size="7.16" text-anchor="middle" fill="#222" font-family="'Liberation Sans', sans-serif" font-weight="normal" transform="rotate(-90 13.5 2248)">SHAP Value</text>
<text x="542.00" y="2239.40" font-size="7.02" text-anchor="start" fill="#222" font-family="'Liberation Sans', sans-serif" font-weight="normal">Diarrhea Status</text>
<circle class="b" cx="547.22" cy="2248.79" r="2.35"/>
<circle class="r" cx="547.22" cy="2259.70" r="2.35"/>
<text x="555.94" y="2251.26" font-size="6.07" text-anchor="start" fill="#222" font-family="'Liberation Sans', sans-serif" font-weight="normal">No Diarrhea</text>
<text x="555.94" y="2262.26" font-size="6.07" text-anchor="start" fill="#222" font-family="'Liberation Sans', sans-serif" font-weight="normal">Diarrhea</text>
<circle class="b" cx="169.7" cy="2255.1" r="2.35"/>
<circle class="r" cx="169.7" cy="2261.8" r="2.35"/>
<circle class="b" cx="169.7" cy="2267.2" r="2.35"/>
<circle class="r" cx="169.7" cy="2268.5" r="2.35"/>
<circle class="b" cx="169.7" cy="2272.3" r="2.35"/>
<circle class="b" cx="169.7" cy="2274.2" r="2.35"/>
<circle class="b" cx="169.7" cy="2276.1" r="2.35"/>
<circle class="r" cx="169.7" cy="2278.0" r="2.35"/>
<circle class="b" cx="169.7" cy="2280.0" r="2.35"/>
<circle class="b" cx="169.7" cy="2281.2" r="2.35"/>
<circle class="b" cx="169.7" cy="2282.5" r="2.35"/>
<circle class="b" cx="169.7" cy="2283.8" r="2.35"/>
<circle class="b" cx="169.7" cy="2285.0" r="2.35"/>
<circle class="b" cx="169.7" cy="2286.2" r="2.35"/>
<circle class="r" cx="169.7" cy="2287.5" r="2.35"/>
<circle class="r" cx="169.7" cy="2288.8" r="2.35"/>
<circle class="b" cx="169.7" cy="2290.0" r="2.35"/>
<circle class="b" cx="169.7" cy="2291.2" r="2.35"/>
<circle class="b" cx="169.7" cy="2292.5" r="2.35"/>
<circle class="b" cx="169.7" cy="2293.8" r="2.35"/>
<circle class="b" cx="169.7" cy="2295.0" r="2.35"/>
<circle class="b" cx="169.7" cy="2296.2" r="2.35"/>
<circle class="b" cx="169.7" cy="2297.5" r="2.35"/>
<circle class="b" cx="169.7" cy="2298.8" r="2.35"/>
<circle class="b" cx="169.7" cy="2300.0" r="2.35"/>
<circle class="b" cx="169.7" cy="2301.2" r="2.35"/>
<circle class="b" cx="169.7" cy="2302.5" r="2.35"/>
<circle class="b" cx="169.7" cy="2303.8" r="2.35"/>
<circle class="b" cx="169.7" cy="2305.0" r="2.35"/>
<circle class="b" cx="169.7" cy="2306.2" r="2.35"/>
<circle class="b" cx="169.7" cy="2307.5" r="2.35"/>
<circle class="b" cx="169.7" cy="2308.8" r="2.35"/>
<circle class="b" cx="169.7" cy="2310.0" r="2.35"/>
<circle class="r" cx="169.7" cy="2311.2" r="2.35"/>
<circle class="b" cx="169.7" cy="2312.5" r="2.35"/>
<circle class="b" cx="169.7" cy="2313.8" r="2.35"/>
<circle class="b" cx="169.7" cy="2315.0" r="2.35"/>
<circle class="b" cx="169.7" cy="2316.2" r="2.35"/>
<circle class="b" cx="169.7" cy="2317.5" r="2.35"/>
<circle class="r" cx="169.7" cy="2318.8" r="2.35"/>
<circle class="b" cx="169.7" cy="2320.0" r="2.35"/>
<circle class="b" cx="169.7" cy="2322.0" r="2.35"/>
<circle class="b" cx="169.7" cy="2324.0" r="2.35"/>
<circle class="b" cx="169.7" cy="2326.0" r="2.35"/>
<circle class="b" cx="169.7" cy="2328.0" r="2.35"/>
<circle class="b" cx="169.7" cy="2330.0" r="2.35"/>
<circle class="b" cx="169.7" cy="2332.0" r="2.35"/>
<circle class="b" cx="169.7" cy="2334.0" r="2.35"/>
<circle class="b" cx="169.7" cy="2335.3" r="2.35"/>
<circle class="r" cx="169.7" cy="2337.2" r="2.35"/>
<circle class="b" cx="169.7" cy="2339.0" r="2.35"/>
<circle class="b" cx="169.7" cy="2341.0" r="2.35"/>
<circle class="b" cx="169.7" cy="2343.0" r="2.35"/>
<circle class="b" cx="169.7" cy="2344.3" r="2.35"/>
<circle class="b" cx="169.7" cy="2346.8" r="2.35"/>
<circle class="r" cx="169.7" cy="2346.8" r="2.35"/>
<circle class="b" cx="169.7" cy="2354.4" r="2.35"/>
<circle class="r" cx="169.7" cy="2360.8" r="2.35"/>
<circle class="b" cx="169.7" cy="2364.0" r="2.35"/>
<circle class="r" cx="169.7" cy="2364.0" r="2.35"/>
<circle class="b" cx="169.7" cy="2367.8" r="2.35"/>
<circle class="b" cx="169.7" cy="2370.4" r="2.35"/>
<circle class="r" cx="169.7" cy="2373.5" r="2.35"/>
<circle class="b" cx="169.7" cy="2379.3" r="2.35"/>
<circle class="b" cx="169.7" cy="2384.0" r="2.35"/>
<circle class="b" cx="169.7" cy="2398.4" r="2.35"/>
<circle class="r" cx="395.7" cy="2099.5" r="2.35"/>
<circle class="r" cx="395.7" cy="2109.1" r="2.35"/>
<circle class="r" cx="395.7" cy="2110.8" r="2.35"/>
<circle class="r" cx="395.7" cy="2114.8" r="2.35"/>
<circle class="r" cx="395.7" cy="2116.5" r="2.35"/>
<circle class="b" cx="395.7" cy="2117.4" r="2.35"/>
<circle class="r" cx="395.7" cy="2120.0" r="2.35"/>
<circle class="r" cx="395.7" cy="2136.6" r="2.35"/>
<circle class="r" cx="395.7" cy="2138.8" r="2.35"/>
<circle class="r" cx="395.7" cy="2141.0" r="2.35"/>
<circle class="r" cx="395.7" cy="2146.2" r="2.35"/>
<circle class="r" cx="395.7" cy="2148.4" r="2.35"/>
<circle class="r" cx="395.7" cy="2150.6" r="2.35"/>
<circle class="b" cx="395.7" cy="2158.5" r="2.35"/>
<circle class="r" cx="395.7" cy="2158.5" r="2.35"/>
<circle class="r" cx="395.7" cy="2160.3" r="2.35"/>
<circle class="r" cx="395.7" cy="2162.9" r="2.35"/>
<circle class="b" cx="395.7" cy="2165.5" r="2.35"/>
<circle class="b" cx="395.7" cy="2168.0" r="2.35"/>
<circle class="b" cx="395.7" cy="2170.0" r="2.35"/>
<circle class="r" cx="395.7" cy="2170.0" r="2.35"/>
<circle class="b" cx="395.7" cy="2172.6" r="2.35"/>
<circle class="r" cx="395.7" cy="2175.6" r="2.35"/>
<circle class="b" cx="395.7" cy="2177.8" r="2.35"/>
<circle class="b" cx="395.7" cy="2181.2" r="2.35"/>
<circle class="b" cx="395.7" cy="2183.0" r="2.35"/>
<circle class="b" cx="395.7" cy="2184.3" r="2.35"/>
<circle class="b" cx="395.7" cy="2185.6" r="2.35"/>
<circle class="b" cx="395.7" cy="2186.9" r="2.35"/>
<circle class="b" cx="395.7" cy="2188.2" r="2.35"/>
<circle class="b" cx="395.7" cy="2189.5" r="2.35"/>
<circle class="b" cx="395.7" cy="2190.8" r="2.35"/>
<circle class="b" cx="395.7" cy="2192.1" r="2.35"/>
<circle class="r" cx="395.7" cy="2193.4" r="2.35"/>
<circle class="b" cx="395.7" cy="2194.7" r="2.35"/>
<circle class="b" cx="395.7" cy="2196.0" r="2.35"/>
<circle class="b" cx="395.7" cy="2197.3" r="2.35"/>
<circle class="b" cx="395.7" cy="2198.6" r="2.35"/>
<circle class="r" cx="395.7" cy="2199.9" r="2.35"/>
<circle class="b" cx="395.7" cy="2201.2" r="2.35"/>
<circle class="b" cx="395.7" cy="2202.5" r="2.35"/>
<circle class="b" cx="395.7" cy="2203.8" r="2.35"/>
<circle class="b" cx="395.7" cy="2205.1" r="2.35"/>
<circle class="b" cx="395.7" cy="2206.4" r="2.35"/>
<circle class="b" cx="395.7" cy="2207.7" r="2.35"/>
<circle class="b" cx="395.7" cy="2209.0" r="2.35"/>
<circle class="b" cx="395.7" cy="2210.3" r="2.35"/>
<circle class="b" cx="395.7" cy="2211.6" r="2.35"/>
<circle class="b" cx="395.7" cy="2212.9" r="2.35"/>
<circle class="b" cx="395.7" cy="2214.2" r="2.35"/>
<circle class="r" cx="395.7" cy="2215.5" r="2.35"/>
<circle class="b" cx="395.7" cy="2216.8" r="2.35"/>
<circle class="b" cx="395.7" cy="2218.1" r="2.35"/>
<circle class="b" cx="395.7" cy="2219.4" r="2.35"/>
<circle class="b" cx="395.7" cy="2220.7" r="2.35"/>
<circle class="b" cx="395.7" cy="2222.0" r="2.35"/>
<circle class="b" cx="395.7" cy="2223.3" r="2.35"/>
<circle class="b" cx="395.7" cy="2224.6" r="2.35"/>
<circle class="b" cx="395.7" cy="2225.9" r="2.35"/>
<circle class="b" cx="395.7" cy="2227.2" r="2.35"/>
<circle class="b" cx="395.7" cy="2228.5" r="2.35"/>
<circle class="b" cx="395.7" cy="2229.8" r="2.35"/>
<circle class="b" cx="395.7" cy="2231.1" r="2.35"/>
<circle class="b" cx="395.7" cy="2234.5" r="2.35"/>
<circle class="r" cx="395.7" cy="2234.5" r="2.35"/>
<circle class="b" cx="395.7" cy="2237.0" r="2.35"/>
<circle class="b" cx="395.7" cy="2239.0" r="2.35"/>
<circle class="r" cx="395.7" cy="2241.4" r="2.35"/>
<circle class="b" cx="395.7" cy="2245.8" r="2.35"/>
<circle class="b" cx="395.7" cy="2253.7" r="2.35"/>
<circle class="b" cx="395.7" cy="2258.0" r="2.35"/>
<circle class="r" cx="395.7" cy="2287.7" r="2.35"/>
<circle class="r" cx="395.7" cy="2300.8" r="2.35"/>
<line x1="691.00" y1="2142.54" x2="1194.10" y2="2142.54" stroke="#f3f3f3" stroke-width="1" />
<line x1="691.00" y1="2207.18" x2="1194.10" y2="2207.18" stroke="#f3f3f3" stroke-width="1" />
<line x1="691.00" y1="2271.82" x2="1194.10" y2="2271.82" stroke="#f3f3f3" stroke-width="1" />
<line x1="691.00" y1="2336.46" x2="1194.10" y2="2336.46" stroke="#f3f3f3" stroke-width="1" />
<line x1="691.00" y1="2401.10" x2="1194.10" y2="2401.10" stroke="#f3f3f3" stroke-width="1" />
<line x1="744.20" y1="2102.50" x2="744.20" y2="2434.00" stroke="#f3f3f3" stroke-width="1" />
<line x1="866.96" y1="2102.50" x2="866.96" y2="2434.00" stroke="#f3f3f3" stroke-width="1" />
<line x1="989.72" y1="2102.50" x2="989.72" y2="2434.00" stroke="#f3f3f3" stroke-width="1" />
<line x1="1112.48" y1="2102.50" x2="1112.48" y2="2434.00" stroke="#f3f3f3" stroke-width="1" />
<line x1="691.00" y1="2110.22" x2="1194.10" y2="2110.22" stroke="#eeeeee" stroke-width="1" />
<line x1="691.00" y1="2174.86" x2="1194.10" y2="2174.86" stroke="#eeeeee" stroke-width="1" />
<line x1="691.00" y1="2239.50" x2="1194.10" y2="2239.50" stroke="#eeeeee" stroke-width="1" />
<line x1="691.00" y1="2304.14" x2="1194.10" y2="2304.14" stroke="#eeeeee" stroke-width="1" />
<line x1="691.00" y1="2368.78" x2="1194.10" y2="2368.78" stroke="#eeeeee" stroke-width="1" />
<line x1="691.00" y1="2433.42" x2="1194.10" y2="2433.42" stroke="#eeeeee" stroke-width="1" />
<line x1="805.58" y1="2102.50" x2="805.58" y2="2434.00" stroke="#eeeeee" stroke-width="1" />
<line x1="928.34" y1="2102.50" x2="928.34" y2="2434.00" stroke="#eeeeee" stroke-width="1" />
<line x1="1051.10" y1="2102.50" x2="1051.10" y2="2434.00" stroke="#eeeeee" stroke-width="1" />
<line x1="1173.86" y1="2102.50" x2="1173.86" y2="2434.00" stroke="#eeeeee" stroke-width="1" />
<line x1="691.00" y1="2239.90" x2="1194.10" y2="2239.90" stroke="#ea8499" stroke-width="1.75" stroke-dasharray="2.2 1.9"/>
<text x="691.30" y="2097.70" font-size="8.8" text-anchor="start" fill="#1a1a1a" font-family="'Liberation Sans', sans-serif" font-weight="normal" stroke="#1a1a1a" stroke-width="0.12">SHAP Dependence Plot for ENStart</text>
<text x="687.50" y="2113.11" font-size="6.08" text-anchor="end" fill="#505050" font-family="'Liberation Sans', sans-serif" font-weight="normal">0.04</text>
<text x="687.50" y="2177.75" font-size="6.08" text-anchor="end" fill="#505050" font-family="'Liberation Sans', sans-serif" font-weight="normal">0.02</text>
<text x="687.50" y="2242.39" font-size="6.08" text-anchor="end" fill="#505050" font-family="'Liberation Sans', sans-serif" font-weight="normal">0.00</text>
<text x="687.50" y="2307.03" font-size="6.08" text-anchor="end" fill="#505050" font-family="'Liberation Sans', sans-serif" font-weight="normal">-0.02</text>
<text x="687.50" y="2371.67" font-size="6.08" text-anchor="end" fill="#505050" font-family="'Liberation Sans', sans-serif" font-weight="normal">-0.04</text>
<text x="687.50" y="2436.31" font-size="6.08" text-anchor="end" fill="#505050" font-family="'Liberation Sans', sans-serif" font-weight="normal">-0.06</text>
<text x="805.58" y="2444.25" font-size="6.08" text-anchor="middle" fill="#505050" font-family="'Liberation Sans', sans-serif" font-weight="normal">4</text>
<text x="928.34" y="2444.25" font-size="6.08" text-anchor="middle" fill="#505050" font-family="'Liberation Sans', sans-serif" font-weight="normal">8</text>
<text x="1051.10" y="2444.25" font-size="6.08" text-anchor="middle" fill="#505050" font-family="'Liberation Sans', sans-serif" font-weight="normal">12</text>
<text x="1173.86" y="2444.25" font-size="6.08" text-anchor="middle" fill="#505050" font-family="'Liberation Sans', sans-serif" font-weight="normal">16</text>
<text x="942.75" y="2452.50" font-size="7.29" text-anchor="middle" fill="#222" font-family="'Liberation Sans', sans-serif" font-weight="normal">ENStart (days)</text>
<text x="671.50" y="2268.00" font-size="7.29" text-anchor="middle" fill="#222" font-family="'Liberation Sans', sans-serif" font-weight="normal" transform="rotate(-90 671.5 2268)">SHAP Value</text>
<text x="1204.80" y="2259.40" font-size="7.14" text-anchor="start" fill="#222" font-family="'Liberation Sans', sans-serif" font-weight="normal">Diarrhea Status</text>
<circle class="b" cx="1210.11" cy="2268.95" r="2.35"/>
<circle class="r" cx="1210.11" cy="2280.05" r="2.35"/>
<text x="1218.98" y="2271.46" font-size="6.18" text-anchor="start" fill="#222" font-family="'Liberation Sans', sans-serif" font-weight="normal">No Diarrhea</text>
<text x="1218.98" y="2282.65" font-size="6.18" text-anchor="start" fill="#222" font-family="'Liberation Sans', sans-serif" font-weight="normal">Diarrhea</text>
<circle class="b" cx="714.1" cy="2118.0" r="2.35"/>
<circle class="b" cx="714.1" cy="2136.0" r="2.35"/>
<circle class="r" cx="714.1" cy="2145.8" r="2.35"/>
<circle class="r" cx="714.1" cy="2147.2" r="2.35"/>
<circle class="b" cx="714.1" cy="2149.3" r="2.35"/>
<circle class="b" cx="714.1" cy="2152.3" r="2.35"/>
<circle class="b" cx="714.1" cy="2158.4" r="2.35"/>
<circle class="r" cx="714.1" cy="2158.4" r="2.35"/>
<circle class="r" cx="714.1" cy="2160.1" r="2.35"/>
<circle class="r" cx="714.1" cy="2162.7" r="2.35"/>
<circle class="r" cx="714.1" cy="2166.4" r="2.35"/>
<circle class="b" cx="714.1" cy="2173.8" r="2.35"/>
<circle class="r" cx="714.1" cy="2173.8" r="2.35"/>
<circle class="b" cx="714.1" cy="2175.6" r="2.35"/>
<circle class="b" cx="714.1" cy="2178.1" r="2.35"/>
<circle class="b" cx="714.1" cy="2180.7" r="2.35"/>
<circle class="r" cx="714.1" cy="2183.3" r="2.35"/>
<circle class="b" cx="714.1" cy="2185.9" r="2.35"/>
<circle class="b" cx="714.1" cy="2187.6" r="2.35"/>
<circle class="b" cx="714.1" cy="2189.3" r="2.35"/>
<circle class="b" cx="714.1" cy="2193.6" r="2.35"/>
<circle class="b" cx="714.1" cy="2195.3" r="2.35"/>
<circle class="b" cx="714.1" cy="2197.9" r="2.35"/>
<circle class="r" cx="714.1" cy="2200.5" r="2.35"/>
<circle class="b" cx="714.1" cy="2203.1" r="2.35"/>
<circle class="b" cx="714.1" cy="2205.6" r="2.35"/>
<circle class="b" cx="714.1" cy="2207.3" r="2.35"/>
<circle class="b" cx="714.1" cy="2210.8" r="2.35"/>
<circle class="r" cx="714.1" cy="2212.5" r="2.35"/>
<circle class="b" cx="714.1" cy="2214.2" r="2.35"/>
<circle class="b" cx="714.1" cy="2216.8" r="2.35"/>
<circle class="b" cx="714.1" cy="2218.5" r="2.35"/>
<circle class="r" cx="714.1" cy="2220.2" r="2.35"/>
<circle class="b" cx="714.1" cy="2224.5" r="2.35"/>
<circle class="b" cx="714.1" cy="2226.3" r="2.35"/>
<circle class="b" cx="714.1" cy="2232.3" r="2.35"/>
<circle class="r" cx="714.1" cy="2232.3" r="2.35"/>
<circle class="b" cx="714.1" cy="2243.1" r="2.35"/>
<circle class="r" cx="744.2" cy="2187.6" r="2.35"/>
<circle class="r" cx="744.2" cy="2193.1" r="2.35"/>
<circle class="r" cx="744.2" cy="2199.1" r="2.35"/>
<circle class="r" cx="744.2" cy="2201.3" r="2.35"/>
<circle class="r" cx="744.2" cy="2203.9" r="2.35"/>
<circle class="r" cx="744.2" cy="2207.3" r="2.35"/>
<circle class="r" cx="744.2" cy="2209.1" r="2.35"/>
<circle class="r" cx="744.2" cy="2210.8" r="2.35"/>
<circle class="b" cx="744.2" cy="2212.5" r="2.35"/>
<circle class="b" cx="744.2" cy="2215.1" r="2.35"/>
<circle class="b" cx="744.2" cy="2217.7" r="2.35"/>
<circle class="b" cx="744.2" cy="2220.2" r="2.35"/>
<circle class="b" cx="744.2" cy="2222.8" r="2.35"/>
<circle class="b" cx="744.2" cy="2225.4" r="2.35"/>
<circle class="r" cx="744.2" cy="2227.1" r="2.35"/>
<circle class="b" cx="744.2" cy="2228.8" r="2.35"/>
<circle class="b" cx="744.2" cy="2231.4" r="2.35"/>
<circle class="b" cx="744.2" cy="2234.0" r="2.35"/>
<circle class="b" cx="744.2" cy="2236.6" r="2.35"/>
<circle class="b" cx="744.2" cy="2240.0" r="2.35"/>
<circle class="b" cx="744.2" cy="2242.6" r="2.35"/>
<circle class="r" cx="774.8" cy="2220.8" r="2.35"/>
<circle class="b" cx="774.8" cy="2222.5" r="2.35"/>
<circle class="b" cx="774.8" cy="2236.6" r="2.35"/>
<circle class="b" cx="774.8" cy="2238.3" r="2.35"/>
<circle class="b" cx="805.2" cy="2224.5" r="2.35"/>
<circle class="r" cx="805.2" cy="2229.7" r="2.35"/>
<circle class="b" cx="805.2" cy="2232.8" r="2.35"/>
<circle class="r" cx="805.2" cy="2241.7" r="2.35"/>
<circle class="r" cx="805.2" cy="2244.3" r="2.35"/>
<circle class="b" cx="835.7" cy="2225.7" r="2.35"/>
<circle class="b" cx="835.7" cy="2234.0" r="2.35"/>
<circle class="r" cx="835.7" cy="2238.3" r="2.35"/>
<circle class="r" cx="835.7" cy="2242.6" r="2.35"/>
<circle class="b" cx="866.7" cy="2235.4" r="2.35"/>
<circle class="b" cx="744.4" cy="2240.6" r="2.35"/>
<circle class="b" cx="744.4" cy="2243.0" r="2.35"/>
<circle class="b" cx="744.4" cy="2245.3" r="2.35"/>
<circle class="r" cx="744.4" cy="2246.1" r="2.35"/>
<circle class="b" cx="744.4" cy="2247.7" r="2.35"/>
<circle class="b" cx="744.4" cy="2250.0" r="2.35"/>
<circle class="b" cx="744.4" cy="2252.3" r="2.35"/>
<circle class="r" cx="744.4" cy="2265.9" r="2.35"/>
<circle class="b" cx="774.8" cy="2244.5" r="2.35"/>
<circle class="b" cx="774.8" cy="2248.1" r="2.35"/>
<circle class="r" cx="774.8" cy="2248.1" r="2.35"/>
<circle class="b" cx="774.8" cy="2253.9" r="2.35"/>
<circle class="b" cx="774.8" cy="2255.5" r="2.35"/>
<circle class="b" cx="774.8" cy="2257.8" r="2.35"/>
<circle class="b" cx="774.8" cy="2260.2" r="2.35"/>
<circle class="b" cx="774.8" cy="2262.5" r="2.35"/>
<circle class="b" cx="774.8" cy="2264.8" r="2.35"/>
<circle class="b" cx="774.8" cy="2266.4" r="2.35"/>
<circle class="r" cx="774.8" cy="2271.9" r="2.35"/>
<circle class="b" cx="774.8" cy="2275.8" r="2.35"/>
<circle class="b" cx="774.8" cy="2278.9" r="2.35"/>
<circle class="r" cx="774.8" cy="2278.9" r="2.35"/>
<circle class="r" cx="774.8" cy="2282.0" r="2.35"/>
<circle class="r" cx="774.8" cy="2284.1" r="2.35"/>
<circle class="b" cx="774.8" cy="2288.8" r="2.35"/>
<circle class="b" cx="774.8" cy="2305.8" r="2.35"/>
<circle class="r" cx="805.3" cy="2249.2" r="2.35"/>
<circle class="b" cx="805.3" cy="2251.6" r="2.35"/>
<circle class="b" cx="805.3" cy="2253.1" r="2.35"/>
<circle class="b" cx="805.3" cy="2255.5" r="2.35"/>
<circle class="b" cx="805.3" cy="2258.6" r="2.35"/>
<circle class="b" cx="805.3" cy="2260.9" r="2.35"/>
<circle class="b" cx="805.3" cy="2263.8" r="2.35"/>
<circle class="b" cx="805.3" cy="2272.7" r="2.35"/>
<circle class="b" cx="805.3" cy="2276.6" r="2.35"/>
<circle class="r" cx="805.3" cy="2280.5" r="2.35"/>
<circle class="b" cx="835.8" cy="2249.2" r="2.35"/>
<circle class="b" cx="835.8" cy="2250.8" r="2.35"/>
<circle class="r" cx="835.8" cy="2255.5" r="2.35"/>
<circle class="b" cx="835.8" cy="2257.8" r="2.35"/>
<circle class="r" cx="835.8" cy="2260.2" r="2.35"/>
<circle class="b" cx="835.8" cy="2263.3" r="2.35"/>
<circle class="r" cx="835.8" cy="2265.6" r="2.35"/>
<circle class="b" cx="835.8" cy="2269.5" r="2.35"/>
<circle class="b" cx="835.8" cy="2293.4" r="2.35"/>
<circle class="b" cx="866.6" cy="2254.4" r="2.35"/>
<circle class="r" cx="866.6" cy="2270.0" r="2.35"/>
<circle class="r" cx="866.6" cy="2277.3" r="2.35"/>
<circle class="b" cx="866.6" cy="2285.5" r="2.35"/>
<circle class="b" cx="866.6" cy="2293.8" r="2.35"/>
<circle class="b" cx="866.6" cy="2318.3" r="2.35"/>
<circle class="b" cx="866.6" cy="2321.9" r="2.35"/>
<circle class="b" cx="897.2" cy="2262.5" r="2.35"/>
<circle class="b" cx="897.2" cy="2269.4" r="2.35"/>
<circle class="r" cx="897.2" cy="2274.2" r="2.35"/>
<circle class="r" cx="897.2" cy="2275.6" r="2.35"/>
<circle class="b" cx="897.2" cy="2293.0" r="2.35"/>
<circle class="b" cx="897.2" cy="2300.8" r="2.35"/>
<circle class="r" cx="897.2" cy="2334.4" r="2.35"/>
<circle class="r" cx="897.2" cy="2347.2" r="2.35"/>
<circle class="b" cx="927.3" cy="2250.6" r="2.35"/>
<circle class="b" cx="927.3" cy="2268.3" r="2.35"/>
<circle class="b" cx="927.3" cy="2269.8" r="2.35"/>
<circle class="b" cx="927.3" cy="2299.8" r="2.35"/>
<circle class="b" cx="927.3" cy="2308.9" r="2.35"/>
<circle class="b" cx="927.3" cy="2312.3" r="2.35"/>
<circle class="b" cx="927.3" cy="2323.4" r="2.35"/>
<circle class="b" cx="927.3" cy="2389.8" r="2.35"/>
<circle class="r" cx="958.1" cy="2317.8" r="2.35"/>
<circle class="b" cx="958.1" cy="2323.0" r="2.35"/>
<circle class="b" cx="958.1" cy="2358.1" r="2.35"/>
<circle class="b" cx="958.1" cy="2420.6" r="2.35"/>
<circle class="b" cx="988.3" cy="2261.2" r="2.35"/>
<circle class="b" cx="988.3" cy="2261.4" r="2.35"/>
<circle class="b" cx="988.3" cy="2326.1" r="2.35"/>
<circle class="r" cx="988.3" cy="2333.9" r="2.35"/>
<circle class="b" cx="1049.5" cy="2165.6" r="2.35"/>
<circle class="b" cx="1049.5" cy="2201.2" r="2.35"/>
<circle class="b" cx="1049.5" cy="2222.3" r="2.35"/>
<circle class="r" cx="1080.2" cy="2268.6" r="2.35"/>
<circle class="b" cx="1110.5" cy="2205.1" r="2.35"/>
<circle class="b" cx="1110.5" cy="2304.3" r="2.35"/>
<circle class="b" cx="1171.6" cy="2218.4" r="2.35"/>
<circle class="b" cx="1171.6" cy="2237.3" r="2.35"/>
<text x="161.25" y="2485.60" font-size="28" text-anchor="start" fill="#000" font-family="'Liberation Serif', serif" font-weight="normal">SHAP Dependency Plots: Feature Effects on Model Predictions for Individual Patients</text>
</svg>
</body></html>
